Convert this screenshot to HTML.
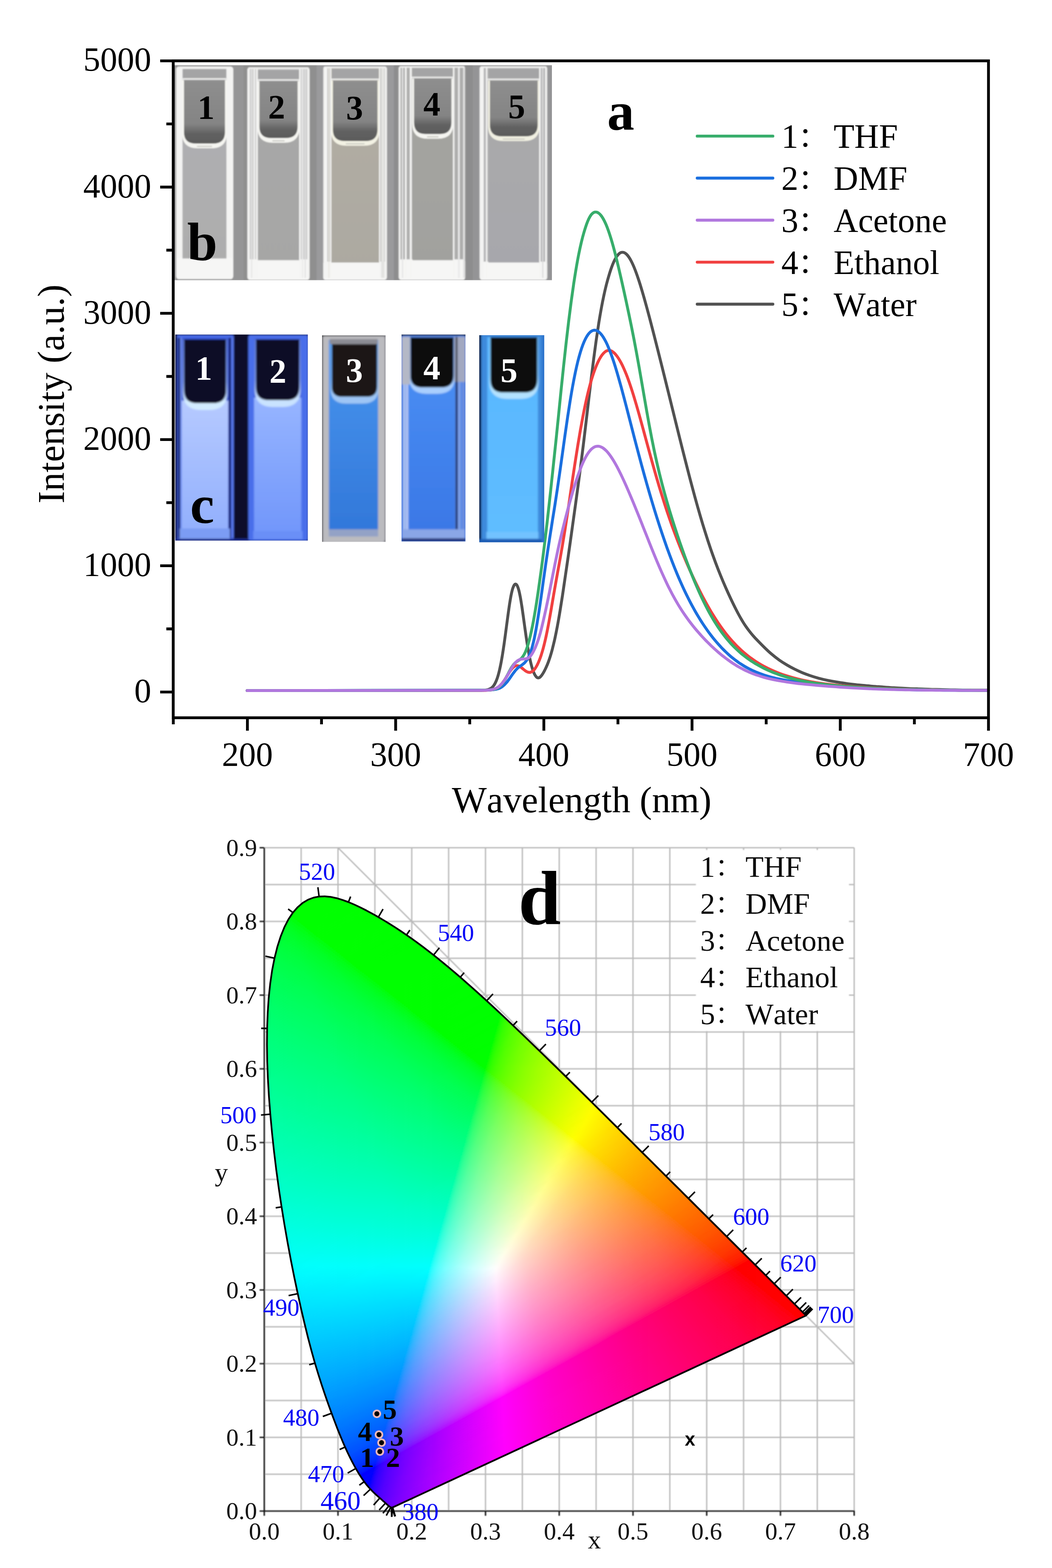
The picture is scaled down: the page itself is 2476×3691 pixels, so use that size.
<!DOCTYPE html>
<html lang="en"><head><meta charset="utf-8"><title>Fluorescence spectra and CIE chromaticity diagram</title>
<style>html,body{margin:0;padding:0;background:#fff}body{width:2476px;height:3691px;overflow:hidden}svg{display:block}text{white-space:pre;font-kerning:none;font-variant-ligatures:none}</style>
</head><body>
<svg width="2476" height="3691" viewBox="0 0 2476 3691">
<rect width="2476" height="3691" fill="#fff"/>
<defs><filter id="sb" filterUnits="userSpaceOnUse" x="480" y="1940" width="1620" height="1751"><feGaussianBlur stdDeviation="1"/></filter></defs>
<g id="cie-d">
<g filter="url(#sb)">
<path d="M622 3557V1995.5M708.8 3557V1995.5M795.5 3557V1995.5M882.3 3557V1995.5M969.1 3557V1995.5M1055.9 3557V1995.5M1142.7 3557V1995.5M1229.4 3557V1995.5M1316.2 3557V1995.5M1403 3557V1995.5M1489.8 3557V1995.5M1576.5 3557V1995.5M1663.3 3557V1995.5M1750.1 3557V1995.5M1836.9 3557V1995.5M1923.6 3557V1995.5M2010.4 3557V1995.5M622 3557H2010.4M622 3470.2H2010.4M622 3383.5H2010.4M622 3296.8H2010.4M622 3210H2010.4M622 3123.2H2010.4M622 3036.5H2010.4M622 2949.8H2010.4M622 2863H2010.4M622 2776.2H2010.4M622 2689.5H2010.4M622 2602.8H2010.4M622 2516H2010.4M622 2429.2H2010.4M622 2342.5H2010.4M622 2255.8H2010.4M622 2169H2010.4M622 2082.2H2010.4M622 1995.5H2010.4M795.5 1995.5L2010.4 3210" stroke="#b9b9b9" stroke-width="3" fill="none"/>
<rect x="1638" y="2001" width="360" height="426" fill="#fff"/>
<path d="M622 1995.5V3558.5M620.5 3557H2011.9M622 3557v11M795.5 3557v11M969.1 3557v11M1142.7 3557v11M1316.2 3557v11M1489.8 3557v11M1663.3 3557v11M1836.9 3557v11M2010.4 3557v11M622 3557h-11M622 3383.5h-11M622 3210h-11M622 3036.5h-11M622 2863h-11M622 2689.5h-11M622 2516h-11M622 2342.5h-11M622 2169h-11M622 1995.5h-11" stroke="#111" stroke-width="3.2" fill="none"/>
</g>
<defs><linearGradient id="r0" gradientUnits="userSpaceOnUse" x1="683" x2="762"><stop offset="0" stop-color="#00ff00"/><stop offset="1" stop-color="#00ff00"/></linearGradient><linearGradient id="r1" gradientUnits="userSpaceOnUse" x1="674" x2="775"><stop offset="0" stop-color="#00ff00"/><stop offset="1" stop-color="#00ff00"/></linearGradient><linearGradient id="r2" gradientUnits="userSpaceOnUse" x1="668" x2="785"><stop offset="0" stop-color="#00ff10"/><stop offset=".077" stop-color="#00ff00"/><stop offset="1" stop-color="#00ff00"/></linearGradient><linearGradient id="r3" gradientUnits="userSpaceOnUse" x1="662" x2="794"><stop offset="0" stop-color="#00ff1d"/><stop offset=".106" stop-color="#00ff0a"/><stop offset=".152" stop-color="#00ff00"/><stop offset="1" stop-color="#00ff00"/></linearGradient><linearGradient id="r4" gradientUnits="userSpaceOnUse" x1="658" x2="802"><stop offset="0" stop-color="#00ff24"/><stop offset=".146" stop-color="#00ff0d"/><stop offset=".194" stop-color="#00ff00"/><stop offset="1" stop-color="#00ff00"/></linearGradient><linearGradient id="r5" gradientUnits="userSpaceOnUse" x1="654" x2="809"><stop offset="0" stop-color="#00ff2a"/><stop offset=".161" stop-color="#00ff14"/><stop offset=".239" stop-color="#00ff00"/><stop offset="1" stop-color="#00ff00"/></linearGradient><linearGradient id="r6" gradientUnits="userSpaceOnUse" x1="651" x2="816"><stop offset="0" stop-color="#00ff2f"/><stop offset=".182" stop-color="#00ff17"/><stop offset=".267" stop-color="#00ff00"/><stop offset="1" stop-color="#00ff00"/></linearGradient><linearGradient id="r7" gradientUnits="userSpaceOnUse" x1="648" x2="823"><stop offset="0" stop-color="#00ff33"/><stop offset=".194" stop-color="#00ff1b"/><stop offset=".269" stop-color="#00ff07"/><stop offset=".303" stop-color="#00ff00"/><stop offset="1" stop-color="#00ff00"/></linearGradient><linearGradient id="r8" gradientUnits="userSpaceOnUse" x1="645" x2="830"><stop offset="0" stop-color="#00ff37"/><stop offset=".205" stop-color="#00ff1e"/><stop offset=".281" stop-color="#00ff0c"/><stop offset=".319" stop-color="#00ff00"/><stop offset="1" stop-color="#00ff00"/></linearGradient><linearGradient id="r9" gradientUnits="userSpaceOnUse" x1="643" x2="836"><stop offset="0" stop-color="#00ff3b"/><stop offset=".233" stop-color="#00ff1e"/><stop offset=".306" stop-color="#00ff0b"/><stop offset=".337" stop-color="#00ff00"/><stop offset="1" stop-color="#00ff00"/></linearGradient><linearGradient id="r10" gradientUnits="userSpaceOnUse" x1="640" x2="842"><stop offset="0" stop-color="#00ff3e"/><stop offset=".233" stop-color="#00ff23"/><stop offset=".322" stop-color="#00ff0e"/><stop offset=".361" stop-color="#00ff00"/><stop offset="1" stop-color="#00ff00"/></linearGradient><linearGradient id="r11" gradientUnits="userSpaceOnUse" x1="638" x2="849"><stop offset="0" stop-color="#00ff41"/><stop offset=".227" stop-color="#00ff27"/><stop offset=".332" stop-color="#00ff11"/><stop offset=".374" stop-color="#00ff00"/><stop offset="1" stop-color="#00ff00"/></linearGradient><linearGradient id="r12" gradientUnits="userSpaceOnUse" x1="636" x2="855"><stop offset="0" stop-color="#00ff44"/><stop offset=".251" stop-color="#00ff27"/><stop offset=".347" stop-color="#00ff12"/><stop offset=".388" stop-color="#00ff00"/><stop offset="1" stop-color="#00ff00"/></linearGradient><linearGradient id="r13" gradientUnits="userSpaceOnUse" x1="635" x2="860"><stop offset="0" stop-color="#00ff46"/><stop offset=".249" stop-color="#00ff2a"/><stop offset=".356" stop-color="#00ff14"/><stop offset=".404" stop-color="#00ff00"/><stop offset="1" stop-color="#00ff00"/></linearGradient><linearGradient id="r14" gradientUnits="userSpaceOnUse" x1="633" x2="866"><stop offset="0" stop-color="#00ff49"/><stop offset=".275" stop-color="#00ff29"/><stop offset=".378" stop-color="#00ff12"/><stop offset=".416" stop-color="#00ff00"/><stop offset="1" stop-color="#00ff00"/></linearGradient><linearGradient id="r15" gradientUnits="userSpaceOnUse" x1="631" x2="872"><stop offset="0" stop-color="#00ff4b"/><stop offset=".249" stop-color="#00ff30"/><stop offset=".373" stop-color="#00ff18"/><stop offset=".432" stop-color="#00ff00"/><stop offset="1" stop-color="#00ff00"/></linearGradient><linearGradient id="r16" gradientUnits="userSpaceOnUse" x1="630" x2="877"><stop offset="0" stop-color="#00ff4d"/><stop offset=".259" stop-color="#00ff31"/><stop offset=".377" stop-color="#00ff1b"/><stop offset=".429" stop-color="#00ff06"/><stop offset=".445" stop-color="#00ff00"/><stop offset="1" stop-color="#00ff00"/></linearGradient><linearGradient id="r17" gradientUnits="userSpaceOnUse" x1="629" x2="883"><stop offset="0" stop-color="#00ff4f"/><stop offset=".268" stop-color="#00ff32"/><stop offset=".394" stop-color="#00ff19"/><stop offset=".441" stop-color="#00ff04"/><stop offset=".461" stop-color="#00ff00"/><stop offset="1" stop-color="#00ff00"/></linearGradient><linearGradient id="r18" gradientUnits="userSpaceOnUse" x1="627" x2="888"><stop offset="0" stop-color="#00ff52"/><stop offset=".28" stop-color="#00ff33"/><stop offset=".406" stop-color="#00ff1a"/><stop offset=".452" stop-color="#00ff05"/><stop offset=".475" stop-color="#00ff00"/><stop offset="1" stop-color="#00ff00"/></linearGradient><linearGradient id="r19" gradientUnits="userSpaceOnUse" x1="626" x2="894"><stop offset="0" stop-color="#00ff54"/><stop offset=".28" stop-color="#00ff35"/><stop offset=".407" stop-color="#00ff1c"/><stop offset=".455" stop-color="#00ff09"/><stop offset=".474" stop-color="#00ff00"/><stop offset="1" stop-color="#00ff00"/></linearGradient><linearGradient id="r20" gradientUnits="userSpaceOnUse" x1="625" x2="899"><stop offset="0" stop-color="#00ff56"/><stop offset=".281" stop-color="#00ff37"/><stop offset=".416" stop-color="#00ff1d"/><stop offset=".464" stop-color="#00ff0a"/><stop offset=".485" stop-color="#00ff00"/><stop offset="1" stop-color="#00ff00"/></linearGradient><linearGradient id="r21" gradientUnits="userSpaceOnUse" x1="624" x2="905"><stop offset="0" stop-color="#00ff58"/><stop offset=".288" stop-color="#00ff38"/><stop offset=".416" stop-color="#00ff1f"/><stop offset=".466" stop-color="#00ff0d"/><stop offset=".491" stop-color="#00ff00"/><stop offset="1" stop-color="#00ff00"/></linearGradient><linearGradient id="r22" gradientUnits="userSpaceOnUse" x1="623" x2="910"><stop offset="0" stop-color="#00ff59"/><stop offset=".275" stop-color="#00ff3c"/><stop offset=".422" stop-color="#00ff21"/><stop offset=".477" stop-color="#00ff0c"/><stop offset=".498" stop-color="#00ff00"/><stop offset="1" stop-color="#00ff00"/></linearGradient><linearGradient id="r23" gradientUnits="userSpaceOnUse" x1="622" x2="915"><stop offset="0" stop-color="#00ff5b"/><stop offset=".283" stop-color="#00ff3d"/><stop offset=".427" stop-color="#00ff22"/><stop offset=".481" stop-color="#00ff0f"/><stop offset=".509" stop-color="#00ff00"/><stop offset="1" stop-color="#00ff00"/></linearGradient><linearGradient id="r24" gradientUnits="userSpaceOnUse" x1="621" x2="920"><stop offset="0" stop-color="#00ff5d"/><stop offset=".281" stop-color="#00ff3f"/><stop offset=".425" stop-color="#00ff25"/><stop offset=".488" stop-color="#00ff10"/><stop offset=".515" stop-color="#00ff00"/><stop offset="1" stop-color="#00ff00"/></linearGradient><linearGradient id="r25" gradientUnits="userSpaceOnUse" x1="621" x2="925"><stop offset="0" stop-color="#00ff5f"/><stop offset=".299" stop-color="#00ff3e"/><stop offset=".441" stop-color="#00ff23"/><stop offset=".497" stop-color="#00ff0f"/><stop offset=".52" stop-color="#00ff00"/><stop offset="1" stop-color="#00ff00"/></linearGradient><linearGradient id="r26" gradientUnits="userSpaceOnUse" x1="620" x2="931"><stop offset="0" stop-color="#00ff60"/><stop offset=".277" stop-color="#00ff43"/><stop offset=".434" stop-color="#00ff27"/><stop offset=".502" stop-color="#00ff10"/><stop offset=".527" stop-color="#00ff00"/><stop offset="1" stop-color="#00ff00"/></linearGradient><linearGradient id="r27" gradientUnits="userSpaceOnUse" x1="619" x2="936"><stop offset="0" stop-color="#00ff62"/><stop offset=".29" stop-color="#00ff43"/><stop offset=".448" stop-color="#00ff26"/><stop offset=".508" stop-color="#00ff11"/><stop offset=".533" stop-color="#00ff00"/><stop offset="1" stop-color="#00ff00"/></linearGradient><linearGradient id="r28" gradientUnits="userSpaceOnUse" x1="619" x2="941"><stop offset="0" stop-color="#00ff64"/><stop offset=".307" stop-color="#00ff42"/><stop offset=".46" stop-color="#00ff25"/><stop offset=".516" stop-color="#00ff10"/><stop offset=".54" stop-color="#00ff00"/><stop offset="1" stop-color="#00ff00"/></linearGradient><linearGradient id="r29" gradientUnits="userSpaceOnUse" x1="618" x2="946"><stop offset="0" stop-color="#00ff65"/><stop offset=".293" stop-color="#00ff46"/><stop offset=".451" stop-color="#00ff29"/><stop offset=".515" stop-color="#00ff14"/><stop offset=".546" stop-color="#00ff00"/><stop offset="1" stop-color="#00ff00"/></linearGradient><linearGradient id="r30" gradientUnits="userSpaceOnUse" x1="618" x2="951"><stop offset="0" stop-color="#00ff67"/><stop offset=".309" stop-color="#00ff45"/><stop offset=".462" stop-color="#00ff28"/><stop offset=".529" stop-color="#00ff10"/><stop offset=".553" stop-color="#00ff00"/><stop offset="1" stop-color="#00ff00"/></linearGradient><linearGradient id="r31" gradientUnits="userSpaceOnUse" x1="617" x2="956"><stop offset="0" stop-color="#00ff68"/><stop offset=".292" stop-color="#00ff49"/><stop offset=".46" stop-color="#00ff2b"/><stop offset=".528" stop-color="#00ff14"/><stop offset=".558" stop-color="#00ff00"/><stop offset="1" stop-color="#00ff00"/></linearGradient><linearGradient id="r32" gradientUnits="userSpaceOnUse" x1="617" x2="961"><stop offset="0" stop-color="#00ff6a"/><stop offset=".317" stop-color="#00ff47"/><stop offset=".474" stop-color="#00ff29"/><stop offset=".541" stop-color="#00ff10"/><stop offset=".564" stop-color="#00ff00"/><stop offset="1" stop-color="#00ff00"/></linearGradient><linearGradient id="r33" gradientUnits="userSpaceOnUse" x1="616" x2="966"><stop offset="0" stop-color="#00ff6b"/><stop offset=".3" stop-color="#00ff4b"/><stop offset=".466" stop-color="#00ff2d"/><stop offset=".534" stop-color="#00ff17"/><stop offset=".569" stop-color="#00ff00"/><stop offset="1" stop-color="#00ff00"/></linearGradient><linearGradient id="r34" gradientUnits="userSpaceOnUse" x1="616" x2="970"><stop offset="0" stop-color="#00ff6d"/><stop offset=".302" stop-color="#00ff4c"/><stop offset=".475" stop-color="#00ff2d"/><stop offset=".545" stop-color="#00ff15"/><stop offset=".576" stop-color="#00ff00"/><stop offset="1" stop-color="#00ff00"/></linearGradient><linearGradient id="r35" gradientUnits="userSpaceOnUse" x1="616" x2="975"><stop offset="0" stop-color="#00ff6e"/><stop offset=".298" stop-color="#00ff4e"/><stop offset=".476" stop-color="#00ff2e"/><stop offset=".546" stop-color="#00ff17"/><stop offset=".579" stop-color="#00ff00"/><stop offset="1" stop-color="#00ff00"/></linearGradient><linearGradient id="r36" gradientUnits="userSpaceOnUse" x1="615" x2="980"><stop offset="0" stop-color="#00ff70"/><stop offset=".318" stop-color="#00ff4d"/><stop offset=".479" stop-color="#00ff2f"/><stop offset=".551" stop-color="#00ff18"/><stop offset=".586" stop-color="#00ff00"/><stop offset="1" stop-color="#00ff00"/></linearGradient><linearGradient id="r37" gradientUnits="userSpaceOnUse" x1="615" x2="985"><stop offset="0" stop-color="#00ff71"/><stop offset=".314" stop-color="#00ff4f"/><stop offset=".486" stop-color="#00ff2f"/><stop offset=".557" stop-color="#00ff17"/><stop offset=".584" stop-color="#00ff03"/><stop offset=".6" stop-color="#00ff00"/><stop offset="1" stop-color="#00ff00"/></linearGradient><linearGradient id="r38" gradientUnits="userSpaceOnUse" x1="615" x2="989"><stop offset="0" stop-color="#00ff73"/><stop offset=".321" stop-color="#00ff4f"/><stop offset=".497" stop-color="#00ff2e"/><stop offset=".561" stop-color="#00ff18"/><stop offset=".596" stop-color="#00ff00"/><stop offset="1" stop-color="#00ff00"/></linearGradient><linearGradient id="r39" gradientUnits="userSpaceOnUse" x1="615" x2="994"><stop offset="0" stop-color="#00ff74"/><stop offset=".309" stop-color="#00ff52"/><stop offset=".483" stop-color="#00ff33"/><stop offset=".562" stop-color="#00ff1a"/><stop offset=".594" stop-color="#00ff03"/><stop offset=".609" stop-color="#00ff00"/><stop offset="1" stop-color="#00ff00"/></linearGradient><linearGradient id="r40" gradientUnits="userSpaceOnUse" x1="614" x2="999"><stop offset="0" stop-color="#00ff75"/><stop offset=".299" stop-color="#00ff55"/><stop offset=".478" stop-color="#00ff36"/><stop offset=".561" stop-color="#00ff1d"/><stop offset=".592" stop-color="#00ff09"/><stop offset=".603" stop-color="#00ff00"/><stop offset="1" stop-color="#00ff00"/></linearGradient><linearGradient id="r41" gradientUnits="userSpaceOnUse" x1="614" x2="1003"><stop offset="0" stop-color="#00ff77"/><stop offset=".324" stop-color="#00ff53"/><stop offset=".494" stop-color="#00ff34"/><stop offset=".573" stop-color="#00ff1a"/><stop offset=".604" stop-color="#00ff03"/><stop offset=".62" stop-color="#00ff00"/><stop offset="1" stop-color="#00ff00"/></linearGradient><linearGradient id="r42" gradientUnits="userSpaceOnUse" x1="614" x2="1008"><stop offset="0" stop-color="#00ff78"/><stop offset=".31" stop-color="#00ff56"/><stop offset=".482" stop-color="#00ff38"/><stop offset=".571" stop-color="#00ff1d"/><stop offset=".602" stop-color="#00ff09"/><stop offset=".612" stop-color="#00ff00"/><stop offset="1" stop-color="#00ff00"/></linearGradient><linearGradient id="r43" gradientUnits="userSpaceOnUse" x1="614" x2="1013"><stop offset="0" stop-color="#00ff79"/><stop offset=".306" stop-color="#00ff58"/><stop offset=".489" stop-color="#00ff38"/><stop offset=".569" stop-color="#00ff20"/><stop offset=".602" stop-color="#00ff0d"/><stop offset=".617" stop-color="#00ff00"/><stop offset="1" stop-color="#00ff00"/></linearGradient><linearGradient id="r44" gradientUnits="userSpaceOnUse" x1="614" x2="1017"><stop offset="0" stop-color="#00ff7b"/><stop offset=".33" stop-color="#00ff56"/><stop offset=".499" stop-color="#00ff37"/><stop offset=".583" stop-color="#00ff1c"/><stop offset=".61" stop-color="#00ff09"/><stop offset=".62" stop-color="#00ff00"/><stop offset="1" stop-color="#00ff00"/></linearGradient><linearGradient id="r45" gradientUnits="userSpaceOnUse" x1="614" x2="1022"><stop offset="0" stop-color="#00ff7c"/><stop offset=".316" stop-color="#00ff59"/><stop offset=".5" stop-color="#00ff38"/><stop offset=".581" stop-color="#00ff1f"/><stop offset=".613" stop-color="#00ff0a"/><stop offset=".625" stop-color="#00ff00"/><stop offset="1" stop-color="#00ff00"/></linearGradient><linearGradient id="r46" gradientUnits="userSpaceOnUse" x1="614" x2="1026"><stop offset="0" stop-color="#00ff7d"/><stop offset=".303" stop-color="#00ff5c"/><stop offset=".485" stop-color="#00ff3d"/><stop offset=".575" stop-color="#00ff23"/><stop offset=".614" stop-color="#00ff0e"/><stop offset=".629" stop-color="#00ff00"/><stop offset="1" stop-color="#00ff00"/></linearGradient><linearGradient id="r47" gradientUnits="userSpaceOnUse" x1="614" x2="1031"><stop offset="0" stop-color="#00ff7f"/><stop offset=".326" stop-color="#00ff5a"/><stop offset=".504" stop-color="#00ff3a"/><stop offset=".59" stop-color="#00ff1f"/><stop offset=".621" stop-color="#00ff0a"/><stop offset=".633" stop-color="#00ff00"/><stop offset="1" stop-color="#00ff00"/></linearGradient><linearGradient id="r48" gradientUnits="userSpaceOnUse" x1="614" x2="1035"><stop offset="0" stop-color="#00ff80"/><stop offset=".33" stop-color="#00ff5b"/><stop offset=".506" stop-color="#00ff3b"/><stop offset=".587" stop-color="#00ff22"/><stop offset=".622" stop-color="#00ff0e"/><stop offset=".637" stop-color="#00ff00"/><stop offset="1" stop-color="#00ff00"/></linearGradient><linearGradient id="r49" gradientUnits="userSpaceOnUse" x1="614" x2="1040"><stop offset="0" stop-color="#00ff81"/><stop offset=".317" stop-color="#00ff5e"/><stop offset=".507" stop-color="#00ff3c"/><stop offset=".594" stop-color="#00ff21"/><stop offset=".627" stop-color="#00ff0c"/><stop offset=".641" stop-color="#00ff00"/><stop offset="1" stop-color="#00ff00"/></linearGradient><linearGradient id="r50" gradientUnits="userSpaceOnUse" x1="614" x2="1044"><stop offset="0" stop-color="#00ff83"/><stop offset=".34" stop-color="#00ff5c"/><stop offset=".514" stop-color="#00ff3c"/><stop offset=".598" stop-color="#00ff22"/><stop offset=".633" stop-color="#00ff0b"/><stop offset=".644" stop-color="#00ff00"/><stop offset="1" stop-color="#00ff00"/></linearGradient><linearGradient id="r51" gradientUnits="userSpaceOnUse" x1="614" x2="1049"><stop offset="0" stop-color="#00ff84"/><stop offset=".326" stop-color="#00ff5f"/><stop offset=".506" stop-color="#00ff3f"/><stop offset=".598" stop-color="#00ff23"/><stop offset=".632" stop-color="#00ff0f"/><stop offset=".648" stop-color="#00ff00"/><stop offset="1" stop-color="#00ff00"/></linearGradient><linearGradient id="r52" gradientUnits="userSpaceOnUse" x1="614" x2="1053"><stop offset="0" stop-color="#00ff85"/><stop offset=".321" stop-color="#00ff61"/><stop offset=".503" stop-color="#00ff41"/><stop offset=".599" stop-color="#00ff25"/><stop offset=".636" stop-color="#00ff10"/><stop offset=".651" stop-color="#00ff00"/><stop offset="1" stop-color="#00ff00"/></linearGradient><linearGradient id="r53" gradientUnits="userSpaceOnUse" x1="614" x2="1057"><stop offset="0" stop-color="#00ff86"/><stop offset=".309" stop-color="#00ff64"/><stop offset=".501" stop-color="#00ff43"/><stop offset=".598" stop-color="#00ff27"/><stop offset=".639" stop-color="#00ff11"/><stop offset=".655" stop-color="#00ff00"/><stop offset="1" stop-color="#00ff00"/></linearGradient><linearGradient id="r54" gradientUnits="userSpaceOnUse" x1="614" x2="1062"><stop offset="0" stop-color="#00ff88"/><stop offset=".339" stop-color="#00ff61"/><stop offset=".529" stop-color="#00ff3e"/><stop offset=".618" stop-color="#00ff20"/><stop offset=".647" stop-color="#00ff0b"/><stop offset=".658" stop-color="#00ff00"/><stop offset="1" stop-color="#00ff00"/></linearGradient><linearGradient id="r55" gradientUnits="userSpaceOnUse" x1="614" x2="1066"><stop offset="0" stop-color="#00ff89"/><stop offset=".325" stop-color="#00ff64"/><stop offset=".513" stop-color="#00ff43"/><stop offset=".606" stop-color="#00ff27"/><stop offset=".646" stop-color="#00ff11"/><stop offset=".662" stop-color="#00ff00"/><stop offset="1" stop-color="#00ff00"/></linearGradient><linearGradient id="r56" gradientUnits="userSpaceOnUse" x1="614" x2="1071"><stop offset="0" stop-color="#00ff8a"/><stop offset=".319" stop-color="#00ff66"/><stop offset=".514" stop-color="#00ff44"/><stop offset=".613" stop-color="#00ff26"/><stop offset=".648" stop-color="#00ff11"/><stop offset=".665" stop-color="#00ff00"/><stop offset="1" stop-color="#00ff00"/></linearGradient><linearGradient id="r57" gradientUnits="userSpaceOnUse" x1="614" x2="1075"><stop offset="0" stop-color="#00ff8c"/><stop offset=".343" stop-color="#00ff64"/><stop offset=".529" stop-color="#00ff42"/><stop offset=".623" stop-color="#00ff24"/><stop offset=".657" stop-color="#00ff0c"/><stop offset=".668" stop-color="#00ff00"/><stop offset="1" stop-color="#00ff00"/></linearGradient><linearGradient id="r58" gradientUnits="userSpaceOnUse" x1="614" x2="1079"><stop offset="0" stop-color="#00ff8d"/><stop offset=".338" stop-color="#00ff66"/><stop offset=".52" stop-color="#00ff45"/><stop offset=".617" stop-color="#00ff28"/><stop offset=".654" stop-color="#00ff13"/><stop offset=".673" stop-color="#00ff00"/><stop offset="1" stop-color="#00ff00"/></linearGradient><linearGradient id="r59" gradientUnits="userSpaceOnUse" x1="614" x2="1083"><stop offset="0" stop-color="#00ff8e"/><stop offset=".333" stop-color="#00ff68"/><stop offset=".522" stop-color="#00ff46"/><stop offset=".616" stop-color="#00ff2a"/><stop offset=".657" stop-color="#00ff14"/><stop offset=".676" stop-color="#00ff00"/><stop offset="1" stop-color="#00ff00"/></linearGradient><linearGradient id="r60" gradientUnits="userSpaceOnUse" x1="615" x2="1088"><stop offset="0" stop-color="#00ff8f"/><stop offset=".332" stop-color="#00ff69"/><stop offset=".522" stop-color="#00ff47"/><stop offset=".619" stop-color="#00ff2a"/><stop offset=".658" stop-color="#00ff15"/><stop offset=".679" stop-color="#00ff00"/><stop offset="1" stop-color="#00ff00"/></linearGradient><linearGradient id="r61" gradientUnits="userSpaceOnUse" x1="615" x2="1092"><stop offset="0" stop-color="#00ff90"/><stop offset=".319" stop-color="#00ff6c"/><stop offset=".52" stop-color="#00ff49"/><stop offset=".621" stop-color="#00ff2b"/><stop offset=".66" stop-color="#00ff16"/><stop offset=".681" stop-color="#00ff00"/><stop offset="1" stop-color="#00ff00"/></linearGradient><linearGradient id="r62" gradientUnits="userSpaceOnUse" x1="615" x2="1096"><stop offset="0" stop-color="#00ff92"/><stop offset=".341" stop-color="#00ff6a"/><stop offset=".534" stop-color="#00ff47"/><stop offset=".628" stop-color="#00ff2a"/><stop offset=".665" stop-color="#00ff15"/><stop offset=".686" stop-color="#00ff00"/><stop offset="1" stop-color="#00ff00"/></linearGradient><linearGradient id="r63" gradientUnits="userSpaceOnUse" x1="615" x2="1100"><stop offset="0" stop-color="#00ff93"/><stop offset=".322" stop-color="#00ff6e"/><stop offset=".518" stop-color="#00ff4c"/><stop offset=".623" stop-color="#00ff2e"/><stop offset=".668" stop-color="#00ff16"/><stop offset=".689" stop-color="#00ff00"/><stop offset="1" stop-color="#00ff00"/></linearGradient><linearGradient id="r64" gradientUnits="userSpaceOnUse" x1="615" x2="1105"><stop offset="0" stop-color="#00ff94"/><stop offset=".322" stop-color="#00ff6f"/><stop offset=".522" stop-color="#00ff4c"/><stop offset=".622" stop-color="#00ff2f"/><stop offset=".665" stop-color="#00ff1a"/><stop offset=".692" stop-color="#00ff00"/><stop offset="1" stop-color="#00ff00"/></linearGradient><linearGradient id="r65" gradientUnits="userSpaceOnUse" x1="616" x2="1109"><stop offset="0" stop-color="#00ff95"/><stop offset=".316" stop-color="#00ff71"/><stop offset=".523" stop-color="#00ff4d"/><stop offset=".629" stop-color="#00ff2e"/><stop offset=".673" stop-color="#00ff16"/><stop offset=".694" stop-color="#00ff00"/><stop offset="1" stop-color="#00ff00"/></linearGradient><linearGradient id="r66" gradientUnits="userSpaceOnUse" x1="616" x2="1113"><stop offset="0" stop-color="#00ff97"/><stop offset=".338" stop-color="#00ff6f"/><stop offset=".533" stop-color="#00ff4c"/><stop offset=".634" stop-color="#00ff2e"/><stop offset=".676" stop-color="#00ff17"/><stop offset=".698" stop-color="#00ff00"/><stop offset="1" stop-color="#00ff00"/></linearGradient><linearGradient id="r67" gradientUnits="userSpaceOnUse" x1="616" x2="1117"><stop offset="0" stop-color="#00ff98"/><stop offset=".333" stop-color="#00ff71"/><stop offset=".539" stop-color="#00ff4c"/><stop offset=".635" stop-color="#00ff2f"/><stop offset=".681" stop-color="#00ff16"/><stop offset=".701" stop-color="#00ff00"/><stop offset="1" stop-color="#00ff00"/></linearGradient><linearGradient id="r68" gradientUnits="userSpaceOnUse" x1="617" x2="1121"><stop offset="0" stop-color="#00ff99"/><stop offset=".333" stop-color="#00ff72"/><stop offset=".53" stop-color="#00ff4f"/><stop offset=".637" stop-color="#00ff30"/><stop offset=".683" stop-color="#00ff17"/><stop offset=".702" stop-color="#00ff00"/><stop offset="1" stop-color="#00ff00"/></linearGradient><linearGradient id="r69" gradientUnits="userSpaceOnUse" x1="617" x2="1126"><stop offset="0" stop-color="#00ff9a"/><stop offset=".32" stop-color="#00ff75"/><stop offset=".53" stop-color="#00ff50"/><stop offset=".637" stop-color="#00ff31"/><stop offset=".68" stop-color="#00ff1b"/><stop offset=".701" stop-color="#00ff03"/><stop offset=".713" stop-color="#00ff00"/><stop offset="1" stop-color="#00ff00"/></linearGradient><linearGradient id="r70" gradientUnits="userSpaceOnUse" x1="617" x2="1130"><stop offset="0" stop-color="#00ff9c"/><stop offset=".349" stop-color="#00ff72"/><stop offset=".54" stop-color="#00ff4f"/><stop offset=".641" stop-color="#00ff31"/><stop offset=".688" stop-color="#00ff17"/><stop offset=".708" stop-color="#00ff00"/><stop offset="1" stop-color="#00ff00"/></linearGradient><linearGradient id="r71" gradientUnits="userSpaceOnUse" x1="618" x2="1134"><stop offset="0" stop-color="#00ff9d"/><stop offset=".335" stop-color="#00ff75"/><stop offset=".537" stop-color="#00ff51"/><stop offset=".641" stop-color="#00ff32"/><stop offset=".686" stop-color="#00ff1b"/><stop offset=".707" stop-color="#00ff03"/><stop offset=".719" stop-color="#00ff00"/><stop offset="1" stop-color="#00ff00"/></linearGradient><linearGradient id="r72" gradientUnits="userSpaceOnUse" x1="618" x2="1138"><stop offset="0" stop-color="#00ff9e"/><stop offset=".337" stop-color="#00ff76"/><stop offset=".542" stop-color="#00ff51"/><stop offset=".648" stop-color="#00ff31"/><stop offset=".694" stop-color="#00ff17"/><stop offset=".713" stop-color="#00ff00"/><stop offset="1" stop-color="#00ff00"/></linearGradient><linearGradient id="r73" gradientUnits="userSpaceOnUse" x1="618" x2="1142"><stop offset="0" stop-color="#00ff9f"/><stop offset=".324" stop-color="#00ff79"/><stop offset=".534" stop-color="#00ff54"/><stop offset=".645" stop-color="#00ff34"/><stop offset=".693" stop-color="#00ff1b"/><stop offset=".712" stop-color="#00ff05"/><stop offset=".719" stop-color="#00ff00"/><stop offset="1" stop-color="#00ff00"/></linearGradient><linearGradient id="r74" gradientUnits="userSpaceOnUse" x1="619" x2="1146"><stop offset="0" stop-color="#00ffa0"/><stop offset=".324" stop-color="#00ff7a"/><stop offset=".539" stop-color="#00ff54"/><stop offset=".645" stop-color="#00ff35"/><stop offset=".694" stop-color="#00ff1c"/><stop offset=".715" stop-color="#00ff04"/><stop offset=".725" stop-color="#00ff00"/><stop offset="1" stop-color="#00ff00"/></linearGradient><linearGradient id="r75" gradientUnits="userSpaceOnUse" x1="619" x2="1150"><stop offset="0" stop-color="#00ffa2"/><stop offset=".347" stop-color="#00ff78"/><stop offset=".548" stop-color="#00ff53"/><stop offset=".652" stop-color="#00ff34"/><stop offset=".701" stop-color="#00ff1a"/><stop offset=".723" stop-color="#00ff00"/><stop offset="1" stop-color="#00ff00"/></linearGradient><linearGradient id="r76" gradientUnits="userSpaceOnUse" x1="620" x2="1154"><stop offset="0" stop-color="#00ffa3"/><stop offset=".346" stop-color="#00ff79"/><stop offset=".549" stop-color="#00ff54"/><stop offset=".655" stop-color="#00ff34"/><stop offset=".7" stop-color="#00ff1c"/><stop offset=".719" stop-color="#00ff07"/><stop offset=".725" stop-color="#00ff00"/><stop offset="1" stop-color="#00ff00"/></linearGradient><linearGradient id="r77" gradientUnits="userSpaceOnUse" x1="620" x2="1159"><stop offset="0" stop-color="#00ffa4"/><stop offset=".334" stop-color="#00ff7c"/><stop offset=".549" stop-color="#00ff55"/><stop offset=".655" stop-color="#00ff35"/><stop offset=".705" stop-color="#00ff1a"/><stop offset=".722" stop-color="#00ff05"/><stop offset=".729" stop-color="#00ff00"/><stop offset="1" stop-color="#00ff00"/></linearGradient><linearGradient id="r78" gradientUnits="userSpaceOnUse" x1="620" x2="1163"><stop offset="0" stop-color="#00ffa5"/><stop offset=".322" stop-color="#00ff7f"/><stop offset=".536" stop-color="#00ff59"/><stop offset=".646" stop-color="#00ff3a"/><stop offset=".702" stop-color="#00ff1f"/><stop offset=".722" stop-color="#00ff0a"/><stop offset=".729" stop-color="#00ff00"/><stop offset="1" stop-color="#00ff00"/></linearGradient><linearGradient id="r79" gradientUnits="userSpaceOnUse" x1="621" x2="1167"><stop offset="0" stop-color="#00ffa7"/><stop offset=".35" stop-color="#00ff7c"/><stop offset=".549" stop-color="#00ff57"/><stop offset=".658" stop-color="#00ff37"/><stop offset=".707" stop-color="#00ff1d"/><stop offset=".723" stop-color="#00ff0b"/><stop offset=".733" stop-color="#00ff00"/><stop offset="1" stop-color="#00ff00"/></linearGradient><linearGradient id="r80" gradientUnits="userSpaceOnUse" x1="621" x2="1171"><stop offset="0" stop-color="#00ffa8"/><stop offset=".344" stop-color="#00ff7e"/><stop offset=".555" stop-color="#00ff57"/><stop offset=".658" stop-color="#00ff38"/><stop offset=".707" stop-color="#00ff1f"/><stop offset=".727" stop-color="#00ff0a"/><stop offset=".735" stop-color="#00ff00"/><stop offset="1" stop-color="#00ff00"/></linearGradient><linearGradient id="r81" gradientUnits="userSpaceOnUse" x1="622" x2="1175"><stop offset="0" stop-color="#00ffa9"/><stop offset=".344" stop-color="#00ff7f"/><stop offset=".546" stop-color="#00ff5a"/><stop offset=".656" stop-color="#00ff3a"/><stop offset=".709" stop-color="#00ff20"/><stop offset=".729" stop-color="#00ff0b"/><stop offset=".736" stop-color="#00ff00"/><stop offset="1" stop-color="#00ff00"/></linearGradient><linearGradient id="r82" gradientUnits="userSpaceOnUse" x1="622" x2="1179"><stop offset="0" stop-color="#00ffaa"/><stop offset=".325" stop-color="#00ff83"/><stop offset=".539" stop-color="#00ff5d"/><stop offset=".655" stop-color="#00ff3c"/><stop offset=".709" stop-color="#00ff22"/><stop offset=".729" stop-color="#00ff0f"/><stop offset=".74" stop-color="#00ff00"/><stop offset="1" stop-color="#00ff00"/></linearGradient><linearGradient id="r83" gradientUnits="userSpaceOnUse" x1="623" x2="1183"><stop offset="0" stop-color="#00ffab"/><stop offset=".325" stop-color="#00ff84"/><stop offset=".534" stop-color="#00ff5f"/><stop offset=".655" stop-color="#00ff3d"/><stop offset=".707" stop-color="#00ff25"/><stop offset=".732" stop-color="#00ff0e"/><stop offset=".741" stop-color="#00ff00"/><stop offset="1" stop-color="#00ff00"/></linearGradient><linearGradient id="r84" gradientUnits="userSpaceOnUse" x1="623" x2="1187"><stop offset="0" stop-color="#00ffad"/><stop offset=".34" stop-color="#00ff83"/><stop offset=".553" stop-color="#00ff5c"/><stop offset=".665" stop-color="#00ff3b"/><stop offset=".715" stop-color="#00ff22"/><stop offset=".734" stop-color="#00ff0f"/><stop offset=".745" stop-color="#00ff00"/><stop offset="1" stop-color="#00ff00"/></linearGradient><linearGradient id="r85" gradientUnits="userSpaceOnUse" x1="624" x2="1191"><stop offset="0" stop-color="#00ffae"/><stop offset=".34" stop-color="#00ff84"/><stop offset=".549" stop-color="#00ff5e"/><stop offset=".66" stop-color="#00ff3e"/><stop offset=".714" stop-color="#00ff24"/><stop offset=".737" stop-color="#00ff0e"/><stop offset=".746" stop-color="#00ff00"/><stop offset=".989" stop-color="#00ff00"/><stop offset="1" stop-color="#1bff00"/></linearGradient><linearGradient id="r86" gradientUnits="userSpaceOnUse" x1="624" x2="1195"><stop offset="0" stop-color="#00ffaf"/><stop offset=".329" stop-color="#00ff87"/><stop offset=".545" stop-color="#00ff60"/><stop offset=".664" stop-color="#00ff3e"/><stop offset=".72" stop-color="#00ff22"/><stop offset=".739" stop-color="#00ff0f"/><stop offset=".748" stop-color="#00ff00"/><stop offset=".979" stop-color="#00ff00"/><stop offset=".989" stop-color="#1bff00"/><stop offset="1" stop-color="#29ff00"/></linearGradient><linearGradient id="r87" gradientUnits="userSpaceOnUse" x1="625" x2="1199"><stop offset="0" stop-color="#00ffb0"/><stop offset=".322" stop-color="#00ff89"/><stop offset=".545" stop-color="#00ff61"/><stop offset=".664" stop-color="#00ff3f"/><stop offset=".721" stop-color="#00ff23"/><stop offset=".742" stop-color="#00ff0e"/><stop offset=".751" stop-color="#00ff00"/><stop offset=".969" stop-color="#00ff00"/><stop offset=".979" stop-color="#1bff00"/><stop offset="1" stop-color="#33ff00"/></linearGradient><linearGradient id="r88" gradientUnits="userSpaceOnUse" x1="626" x2="1203"><stop offset="0" stop-color="#00ffb2"/><stop offset=".355" stop-color="#00ff85"/><stop offset=".558" stop-color="#00ff5f"/><stop offset=".667" stop-color="#00ff3f"/><stop offset=".719" stop-color="#00ff26"/><stop offset=".744" stop-color="#00ff0f"/><stop offset=".752" stop-color="#00ff00"/><stop offset=".958" stop-color="#00ff00"/><stop offset=".969" stop-color="#1bff00"/><stop offset=".993" stop-color="#37ff00"/><stop offset="1" stop-color="#3cff00"/></linearGradient><linearGradient id="r89" gradientUnits="userSpaceOnUse" x1="626" x2="1207"><stop offset="0" stop-color="#00ffb3"/><stop offset=".337" stop-color="#00ff89"/><stop offset=".551" stop-color="#00ff62"/><stop offset=".671" stop-color="#00ff3f"/><stop offset=".726" stop-color="#00ff23"/><stop offset=".747" stop-color="#00ff0e"/><stop offset=".754" stop-color="#00ff00"/><stop offset=".948" stop-color="#00ff00"/><stop offset=".959" stop-color="#1bff00"/><stop offset=".983" stop-color="#37ff00"/><stop offset="1" stop-color="#44ff00"/></linearGradient><linearGradient id="r90" gradientUnits="userSpaceOnUse" x1="627" x2="1211"><stop offset="0" stop-color="#00ffb4"/><stop offset=".339" stop-color="#00ff8a"/><stop offset=".555" stop-color="#00ff62"/><stop offset=".671" stop-color="#00ff40"/><stop offset=".726" stop-color="#00ff25"/><stop offset=".748" stop-color="#00ff0f"/><stop offset=".757" stop-color="#00ff00"/><stop offset=".938" stop-color="#00ff00"/><stop offset=".949" stop-color="#1bff00"/><stop offset=".973" stop-color="#37ff00"/><stop offset="1" stop-color="#4aff00"/></linearGradient><linearGradient id="r91" gradientUnits="userSpaceOnUse" x1="627" x2="1215"><stop offset="0" stop-color="#00ffb6"/><stop offset=".352" stop-color="#00ff89"/><stop offset=".556" stop-color="#00ff63"/><stop offset=".675" stop-color="#00ff40"/><stop offset=".726" stop-color="#00ff27"/><stop offset=".75" stop-color="#00ff10"/><stop offset=".759" stop-color="#00ff00"/><stop offset=".929" stop-color="#00ff00"/><stop offset=".939" stop-color="#1bff00"/><stop offset=".963" stop-color="#37ff00"/><stop offset="1" stop-color="#50ff00"/></linearGradient><linearGradient id="r92" gradientUnits="userSpaceOnUse" x1="628" x2="1219"><stop offset="0" stop-color="#00ffb7"/><stop offset=".354" stop-color="#00ff8a"/><stop offset=".569" stop-color="#00ff61"/><stop offset=".675" stop-color="#00ff41"/><stop offset=".733" stop-color="#00ff24"/><stop offset=".753" stop-color="#00ff0f"/><stop offset=".761" stop-color="#00ff00"/><stop offset=".919" stop-color="#00ff00"/><stop offset=".929" stop-color="#1bff00"/><stop offset=".948" stop-color="#33ff00"/><stop offset=".992" stop-color="#52ff00"/><stop offset="1" stop-color="#56ff00"/></linearGradient><linearGradient id="r93" gradientUnits="userSpaceOnUse" x1="629" x2="1223"><stop offset="0" stop-color="#00ffb8"/><stop offset=".34" stop-color="#00ff8d"/><stop offset=".552" stop-color="#00ff66"/><stop offset=".673" stop-color="#00ff43"/><stop offset=".732" stop-color="#00ff26"/><stop offset=".756" stop-color="#00ff0e"/><stop offset=".763" stop-color="#00ff00"/><stop offset=".909" stop-color="#00ff00"/><stop offset=".919" stop-color="#1bff00"/><stop offset=".938" stop-color="#33ff00"/><stop offset=".987" stop-color="#55ff00"/><stop offset="1" stop-color="#5bff00"/></linearGradient><linearGradient id="r94" gradientUnits="userSpaceOnUse" x1="629" x2="1227"><stop offset="0" stop-color="#00ffb9"/><stop offset=".336" stop-color="#00ff8f"/><stop offset=".557" stop-color="#00ff66"/><stop offset=".674" stop-color="#00ff44"/><stop offset=".731" stop-color="#00ff29"/><stop offset=".754" stop-color="#00ff14"/><stop offset=".766" stop-color="#00ff00"/><stop offset=".9" stop-color="#00ff00"/><stop offset=".91" stop-color="#1bff00"/><stop offset=".928" stop-color="#33ff00"/><stop offset=".972" stop-color="#52ff00"/><stop offset="1" stop-color="#60ff00"/></linearGradient><linearGradient id="r95" gradientUnits="userSpaceOnUse" x1="630" x2="1231"><stop offset="0" stop-color="#00ffba"/><stop offset=".323" stop-color="#00ff92"/><stop offset=".544" stop-color="#00ff6a"/><stop offset=".669" stop-color="#00ff47"/><stop offset=".727" stop-color="#00ff2c"/><stop offset=".754" stop-color="#00ff17"/><stop offset=".767" stop-color="#00ff00"/><stop offset=".89" stop-color="#00ff00"/><stop offset=".9" stop-color="#1bff00"/><stop offset=".92" stop-color="#35ff00"/><stop offset=".968" stop-color="#56ff00"/><stop offset="1" stop-color="#65ff00"/></linearGradient><linearGradient id="r96" gradientUnits="userSpaceOnUse" x1="630" x2="1235"><stop offset="0" stop-color="#00ffbc"/><stop offset=".344" stop-color="#00ff90"/><stop offset=".559" stop-color="#00ff68"/><stop offset=".678" stop-color="#00ff45"/><stop offset=".737" stop-color="#00ff28"/><stop offset=".76" stop-color="#00ff11"/><stop offset=".77" stop-color="#00ff00"/><stop offset=".881" stop-color="#00ff00"/><stop offset=".891" stop-color="#1bff00"/><stop offset=".911" stop-color="#35ff00"/><stop offset=".954" stop-color="#53ff00"/><stop offset="1" stop-color="#6aff00"/></linearGradient><linearGradient id="r97" gradientUnits="userSpaceOnUse" x1="631" x2="1239"><stop offset="0" stop-color="#00ffbd"/><stop offset=".339" stop-color="#00ff92"/><stop offset=".559" stop-color="#00ff69"/><stop offset=".681" stop-color="#00ff45"/><stop offset=".735" stop-color="#00ff2b"/><stop offset=".762" stop-color="#00ff13"/><stop offset=".771" stop-color="#00ff00"/><stop offset=".872" stop-color="#00ff00"/><stop offset=".882" stop-color="#1bff00"/><stop offset=".901" stop-color="#35ff00"/><stop offset=".949" stop-color="#57ff00"/><stop offset="1" stop-color="#6eff00"/></linearGradient><linearGradient id="r98" gradientUnits="userSpaceOnUse" x1="632" x2="1243"><stop offset="0" stop-color="#00ffbe"/><stop offset=".326" stop-color="#00ff95"/><stop offset=".545" stop-color="#00ff6d"/><stop offset=".668" stop-color="#00ff4b"/><stop offset=".733" stop-color="#00ff2d"/><stop offset=".759" stop-color="#00ff18"/><stop offset=".774" stop-color="#00ff00"/><stop offset=".863" stop-color="#00ff00"/><stop offset=".872" stop-color="#1bff00"/><stop offset=".894" stop-color="#37ff00"/><stop offset=".943" stop-color="#59ff00"/><stop offset="1" stop-color="#73ff00"/></linearGradient><linearGradient id="r99" gradientUnits="userSpaceOnUse" x1="632" x2="1247"><stop offset="0" stop-color="#00ffc0"/><stop offset=".346" stop-color="#00ff93"/><stop offset=".554" stop-color="#00ff6c"/><stop offset=".675" stop-color="#00ff4a"/><stop offset=".74" stop-color="#00ff2b"/><stop offset=".766" stop-color="#00ff13"/><stop offset=".776" stop-color="#00ff00"/><stop offset=".854" stop-color="#00ff00"/><stop offset=".863" stop-color="#1bff00"/><stop offset=".883" stop-color="#35ff00"/><stop offset=".922" stop-color="#52ff00"/><stop offset=".992" stop-color="#74ff00"/><stop offset="1" stop-color="#77ff00"/></linearGradient><linearGradient id="r100" gradientUnits="userSpaceOnUse" x1="633" x2="1251"><stop offset="0" stop-color="#00ffc1"/><stop offset=".341" stop-color="#00ff95"/><stop offset=".555" stop-color="#00ff6d"/><stop offset=".675" stop-color="#00ff4b"/><stop offset=".739" stop-color="#00ff2d"/><stop offset=".767" stop-color="#00ff14"/><stop offset=".778" stop-color="#00ff00"/><stop offset=".846" stop-color="#02ff00"/><stop offset=".853" stop-color="#18ff00"/><stop offset=".869" stop-color="#30ff00"/><stop offset=".908" stop-color="#50ff00"/><stop offset=".984" stop-color="#75ff00"/><stop offset="1" stop-color="#7bff00"/></linearGradient><linearGradient id="r101" gradientUnits="userSpaceOnUse" x1="634" x2="1255"><stop offset="0" stop-color="#00ffc2"/><stop offset=".329" stop-color="#00ff98"/><stop offset=".551" stop-color="#00ff6f"/><stop offset=".675" stop-color="#00ff4c"/><stop offset=".739" stop-color="#00ff2e"/><stop offset=".765" stop-color="#00ff19"/><stop offset=".776" stop-color="#00ff06"/><stop offset=".781" stop-color="#00ff00"/><stop offset=".837" stop-color="#02ff00"/><stop offset=".844" stop-color="#18ff00"/><stop offset=".86" stop-color="#30ff00"/><stop offset=".895" stop-color="#4eff00"/><stop offset=".966" stop-color="#72ff00"/><stop offset="1" stop-color="#7fff00"/></linearGradient><linearGradient id="r102" gradientUnits="userSpaceOnUse" x1="634" x2="1259"><stop offset="0" stop-color="#00ffc4"/><stop offset=".357" stop-color="#00ff95"/><stop offset=".57" stop-color="#00ff6c"/><stop offset=".686" stop-color="#00ff49"/><stop offset=".747" stop-color="#00ff2b"/><stop offset=".771" stop-color="#00ff14"/><stop offset=".782" stop-color="#00ff00"/><stop offset=".829" stop-color="#02ff00"/><stop offset=".835" stop-color="#18ff00"/><stop offset=".851" stop-color="#30ff00"/><stop offset=".883" stop-color="#4cff00"/><stop offset=".949" stop-color="#6fff00"/><stop offset="1" stop-color="#83ff00"/></linearGradient><linearGradient id="r103" gradientUnits="userSpaceOnUse" x1="635" x2="1263"><stop offset="0" stop-color="#00ffc5"/><stop offset=".338" stop-color="#00ff99"/><stop offset=".561" stop-color="#00ff6f"/><stop offset=".682" stop-color="#00ff4c"/><stop offset=".744" stop-color="#00ff2f"/><stop offset=".772" stop-color="#00ff15"/><stop offset=".783" stop-color="#00ff00"/><stop offset=".82" stop-color="#02ff00"/><stop offset=".826" stop-color="#18ff00"/><stop offset=".842" stop-color="#31ff00"/><stop offset=".881" stop-color="#50ff00"/><stop offset=".947" stop-color="#73ff00"/><stop offset="1" stop-color="#86ff00"/></linearGradient><linearGradient id="r104" gradientUnits="userSpaceOnUse" x1="636" x2="1267"><stop offset="0" stop-color="#00ffc6"/><stop offset=".339" stop-color="#00ff9a"/><stop offset=".556" stop-color="#00ff71"/><stop offset=".68" stop-color="#00ff4e"/><stop offset=".745" stop-color="#00ff2f"/><stop offset=".772" stop-color="#00ff18"/><stop offset=".783" stop-color="#00ff04"/><stop offset=".786" stop-color="#00ff00"/><stop offset=".811" stop-color="#02ff00"/><stop offset=".818" stop-color="#18ff00"/><stop offset=".834" stop-color="#31ff00"/><stop offset=".873" stop-color="#52ff00"/><stop offset=".948" stop-color="#77ff00"/><stop offset="1" stop-color="#8aff00"/></linearGradient><linearGradient id="r105" gradientUnits="userSpaceOnUse" x1="637" x2="1271"><stop offset="0" stop-color="#00ffc7"/><stop offset=".326" stop-color="#00ff9d"/><stop offset=".552" stop-color="#00ff73"/><stop offset=".674" stop-color="#00ff51"/><stop offset=".743" stop-color="#00ff32"/><stop offset=".773" stop-color="#00ff19"/><stop offset=".784" stop-color="#00ff06"/><stop offset=".789" stop-color="#00ff00"/><stop offset=".803" stop-color="#01ff00"/><stop offset=".809" stop-color="#18ff00"/><stop offset=".826" stop-color="#33ff00"/><stop offset=".868" stop-color="#54ff00"/><stop offset=".942" stop-color="#79ff00"/><stop offset="1" stop-color="#8eff00"/></linearGradient><linearGradient id="r106" gradientUnits="userSpaceOnUse" x1="637" x2="1275"><stop offset="0" stop-color="#00ffc9"/><stop offset=".342" stop-color="#00ff9c"/><stop offset=".563" stop-color="#00ff72"/><stop offset=".688" stop-color="#00ff4d"/><stop offset=".748" stop-color="#00ff31"/><stop offset=".776" stop-color="#00ff18"/><stop offset=".787" stop-color="#00ff04"/><stop offset=".79" stop-color="#00ff00"/><stop offset=".795" stop-color="#01ff00"/><stop offset=".801" stop-color="#18ff00"/><stop offset=".817" stop-color="#31ff00"/><stop offset=".851" stop-color="#4fff00"/><stop offset=".92" stop-color="#74ff00"/><stop offset="1" stop-color="#91ff00"/></linearGradient><linearGradient id="r107" gradientUnits="userSpaceOnUse" x1="638" x2="1279"><stop offset="0" stop-color="#00ffca"/><stop offset=".329" stop-color="#00ff9f"/><stop offset=".549" stop-color="#00ff76"/><stop offset=".68" stop-color="#00ff51"/><stop offset=".746" stop-color="#00ff33"/><stop offset=".775" stop-color="#00ff1b"/><stop offset=".786" stop-color="#01ff09"/><stop offset=".793" stop-color="#18ff00"/><stop offset=".808" stop-color="#31ff00"/><stop offset=".841" stop-color="#4eff00"/><stop offset=".903" stop-color="#71ff00"/><stop offset="1" stop-color="#95ff00"/></linearGradient><linearGradient id="r108" gradientUnits="userSpaceOnUse" x1="639" x2="1283"><stop offset="0" stop-color="#00ffcc"/><stop offset=".356" stop-color="#00ff9c"/><stop offset=".567" stop-color="#00ff73"/><stop offset=".693" stop-color="#00ff4e"/><stop offset=".758" stop-color="#00ff2d"/><stop offset=".778" stop-color="#01ff1a"/><stop offset=".784" stop-color="#18ff11"/><stop offset=".792" stop-color="#27ff00"/><stop offset=".818" stop-color="#44ff00"/><stop offset=".873" stop-color="#67ff00"/><stop offset=".977" stop-color="#91ff00"/><stop offset="1" stop-color="#98ff00"/></linearGradient><linearGradient id="r109" gradientUnits="userSpaceOnUse" x1="640" x2="1287"><stop offset="0" stop-color="#00ffcd"/><stop offset=".351" stop-color="#00ff9e"/><stop offset=".567" stop-color="#00ff74"/><stop offset=".689" stop-color="#00ff50"/><stop offset=".751" stop-color="#00ff32"/><stop offset=".77" stop-color="#01ff25"/><stop offset=".776" stop-color="#18ff1f"/><stop offset=".788" stop-color="#2dff0d"/><stop offset=".794" stop-color="#35ff00"/><stop offset=".832" stop-color="#54ff00"/><stop offset=".903" stop-color="#79ff00"/><stop offset="1" stop-color="#9cff00"/></linearGradient><linearGradient id="r110" gradientUnits="userSpaceOnUse" x1="640" x2="1291"><stop offset="0" stop-color="#00ffce"/><stop offset=".327" stop-color="#00ffa3"/><stop offset=".556" stop-color="#00ff78"/><stop offset=".688" stop-color="#00ff52"/><stop offset=".756" stop-color="#00ff31"/><stop offset=".762" stop-color="#00ff2d"/><stop offset=".768" stop-color="#18ff28"/><stop offset=".783" stop-color="#32ff18"/><stop offset=".796" stop-color="#3fff00"/><stop offset=".853" stop-color="#66ff00"/><stop offset=".948" stop-color="#8eff00"/><stop offset="1" stop-color="#9fff00"/></linearGradient><linearGradient id="r111" gradientUnits="userSpaceOnUse" x1="641" x2="1294"><stop offset="0" stop-color="#00ffd0"/><stop offset=".348" stop-color="#00ffa1"/><stop offset=".565" stop-color="#00ff77"/><stop offset=".692" stop-color="#00ff52"/><stop offset=".755" stop-color="#00ff34"/><stop offset=".761" stop-color="#18ff30"/><stop offset=".778" stop-color="#34ff22"/><stop offset=".793" stop-color="#43ff0d"/><stop offset=".799" stop-color="#48ff00"/><stop offset=".848" stop-color="#68ff00"/><stop offset=".949" stop-color="#92ff00"/><stop offset="1" stop-color="#a2ff00"/></linearGradient><linearGradient id="r112" gradientUnits="userSpaceOnUse" x1="642" x2="1298"><stop offset="0" stop-color="#00ffd1"/><stop offset=".343" stop-color="#00ffa3"/><stop offset=".566" stop-color="#00ff78"/><stop offset=".692" stop-color="#00ff53"/><stop offset=".747" stop-color="#00ff3a"/><stop offset=".753" stop-color="#18ff36"/><stop offset=".767" stop-color="#30ff2d"/><stop offset=".79" stop-color="#47ff16"/><stop offset=".8" stop-color="#50ff00"/><stop offset=".87" stop-color="#77ff00"/><stop offset=".983" stop-color="#a0ff00"/><stop offset="1" stop-color="#a5ff00"/></linearGradient><linearGradient id="r113" gradientUnits="userSpaceOnUse" x1="643" x2="1302"><stop offset="0" stop-color="#00ffd2"/><stop offset=".325" stop-color="#00ffa7"/><stop offset=".557" stop-color="#00ff7b"/><stop offset=".689" stop-color="#00ff55"/><stop offset=".739" stop-color="#00ff3f"/><stop offset=".745" stop-color="#18ff3c"/><stop offset=".759" stop-color="#30ff34"/><stop offset=".786" stop-color="#4bff1d"/><stop offset=".798" stop-color="#54ff09"/><stop offset=".803" stop-color="#57ff00"/><stop offset=".873" stop-color="#7cff00"/><stop offset=".992" stop-color="#a6ff00"/><stop offset="1" stop-color="#a8ff00"/></linearGradient><linearGradient id="r114" gradientUnits="userSpaceOnUse" x1="644" x2="1306"><stop offset="0" stop-color="#00ffd4"/><stop offset=".344" stop-color="#00ffa5"/><stop offset=".562" stop-color="#00ff7b"/><stop offset=".692" stop-color="#00ff55"/><stop offset=".731" stop-color="#00ff45"/><stop offset=".737" stop-color="#18ff42"/><stop offset=".751" stop-color="#30ff3a"/><stop offset=".781" stop-color="#4eff25"/><stop offset=".796" stop-color="#59ff11"/><stop offset=".804" stop-color="#5dff00"/><stop offset=".879" stop-color="#83ff00"/><stop offset="1" stop-color="#abff00"/></linearGradient><linearGradient id="r115" gradientUnits="userSpaceOnUse" x1="644" x2="1310"><stop offset="0" stop-color="#00ffd5"/><stop offset=".335" stop-color="#00ffa8"/><stop offset=".559" stop-color="#00ff7d"/><stop offset=".688" stop-color="#00ff58"/><stop offset=".724" stop-color="#00ff49"/><stop offset=".73" stop-color="#18ff47"/><stop offset=".743" stop-color="#30ff40"/><stop offset=".773" stop-color="#4eff2d"/><stop offset=".796" stop-color="#5eff15"/><stop offset=".806" stop-color="#64ff00"/><stop offset=".89" stop-color="#8bff00"/><stop offset="1" stop-color="#afff00"/></linearGradient><linearGradient id="r116" gradientUnits="userSpaceOnUse" x1="645" x2="1314"><stop offset="0" stop-color="#00ffd7"/><stop offset=".348" stop-color="#00ffa7"/><stop offset=".572" stop-color="#00ff7b"/><stop offset=".701" stop-color="#00ff54"/><stop offset=".716" stop-color="#00ff4e"/><stop offset=".722" stop-color="#18ff4b"/><stop offset=".735" stop-color="#30ff45"/><stop offset=".768" stop-color="#51ff32"/><stop offset=".795" stop-color="#63ff19"/><stop offset=".807" stop-color="#69ff00"/><stop offset=".888" stop-color="#8eff00"/><stop offset="1" stop-color="#b2ff00"/></linearGradient><linearGradient id="r117" gradientUnits="userSpaceOnUse" x1="646" x2="1318"><stop offset="0" stop-color="#00ffd8"/><stop offset=".344" stop-color="#00ffa9"/><stop offset=".564" stop-color="#00ff7e"/><stop offset=".69" stop-color="#00ff59"/><stop offset=".708" stop-color="#00ff52"/><stop offset=".714" stop-color="#18ff50"/><stop offset=".729" stop-color="#33ff49"/><stop offset=".763" stop-color="#53ff37"/><stop offset=".795" stop-color="#67ff1c"/><stop offset=".805" stop-color="#6dff09"/><stop offset=".808" stop-color="#6fff00"/><stop offset=".906" stop-color="#98ff00"/><stop offset="1" stop-color="#b5ff00"/></linearGradient><linearGradient id="r118" gradientUnits="userSpaceOnUse" x1="647" x2="1322"><stop offset="0" stop-color="#00ffd9"/><stop offset=".32" stop-color="#00ffae"/><stop offset=".547" stop-color="#00ff83"/><stop offset=".68" stop-color="#00ff5e"/><stop offset=".701" stop-color="#00ff56"/><stop offset=".707" stop-color="#18ff54"/><stop offset=".721" stop-color="#33ff4e"/><stop offset=".754" stop-color="#52ff3e"/><stop offset=".791" stop-color="#6aff22"/><stop offset=".804" stop-color="#71ff0e"/><stop offset=".81" stop-color="#74ff00"/><stop offset=".91" stop-color="#9dff00"/><stop offset="1" stop-color="#b8ff00"/></linearGradient><linearGradient id="r119" gradientUnits="userSpaceOnUse" x1="648" x2="1326"><stop offset="0" stop-color="#00ffdb"/><stop offset=".347" stop-color="#00ffab"/><stop offset=".569" stop-color="#00ff7f"/><stop offset=".693" stop-color="#00ff5a"/><stop offset=".699" stop-color="#18ff58"/><stop offset=".714" stop-color="#33ff52"/><stop offset=".746" stop-color="#53ff43"/><stop offset=".789" stop-color="#6eff26"/><stop offset=".805" stop-color="#76ff10"/><stop offset=".811" stop-color="#79ff00"/><stop offset=".92" stop-color="#a4ff00"/><stop offset="1" stop-color="#bbff00"/></linearGradient><linearGradient id="r120" gradientUnits="userSpaceOnUse" x1="649" x2="1330"><stop offset="0" stop-color="#00ffdc"/><stop offset=".329" stop-color="#00ffaf"/><stop offset=".552" stop-color="#00ff84"/><stop offset=".686" stop-color="#00ff5e"/><stop offset=".693" stop-color="#1cff5b"/><stop offset=".711" stop-color="#39ff55"/><stop offset=".746" stop-color="#58ff45"/><stop offset=".79" stop-color="#73ff27"/><stop offset=".806" stop-color="#7bff11"/><stop offset=".814" stop-color="#7eff00"/><stop offset=".921" stop-color="#a7ff00"/><stop offset="1" stop-color="#beff00"/></linearGradient><linearGradient id="r121" gradientUnits="userSpaceOnUse" x1="650" x2="1334"><stop offset="0" stop-color="#00ffde"/><stop offset=".349" stop-color="#00ffad"/><stop offset=".57" stop-color="#00ff81"/><stop offset=".678" stop-color="#00ff62"/><stop offset=".686" stop-color="#1cff5f"/><stop offset=".7" stop-color="#35ff5a"/><stop offset=".73" stop-color="#52ff4e"/><stop offset=".781" stop-color="#73ff30"/><stop offset=".804" stop-color="#7eff18"/><stop offset=".814" stop-color="#83ff00"/><stop offset=".936" stop-color="#afff00"/><stop offset="1" stop-color="#c1ff00"/></linearGradient><linearGradient id="r122" gradientUnits="userSpaceOnUse" x1="650" x2="1338"><stop offset="0" stop-color="#00ffdf"/><stop offset=".321" stop-color="#00ffb3"/><stop offset=".555" stop-color="#00ff86"/><stop offset=".672" stop-color="#00ff65"/><stop offset=".679" stop-color="#1cff63"/><stop offset=".693" stop-color="#35ff5e"/><stop offset=".725" stop-color="#55ff51"/><stop offset=".779" stop-color="#76ff33"/><stop offset=".802" stop-color="#81ff1d"/><stop offset=".812" stop-color="#86ff0a"/><stop offset=".817" stop-color="#88ff00"/><stop offset=".962" stop-color="#baff00"/><stop offset="1" stop-color="#c5ff00"/></linearGradient><linearGradient id="r123" gradientUnits="userSpaceOnUse" x1="651" x2="1342"><stop offset="0" stop-color="#00ffe1"/><stop offset=".347" stop-color="#00ffb0"/><stop offset=".563" stop-color="#00ff85"/><stop offset=".664" stop-color="#00ff69"/><stop offset=".671" stop-color="#1cff66"/><stop offset=".686" stop-color="#36ff61"/><stop offset=".719" stop-color="#56ff55"/><stop offset=".78" stop-color="#7bff34"/><stop offset=".805" stop-color="#86ff1c"/><stop offset=".815" stop-color="#8bff08"/><stop offset=".818" stop-color="#8cff00"/><stop offset=".951" stop-color="#baff00"/><stop offset="1" stop-color="#c8ff00"/></linearGradient><linearGradient id="r124" gradientUnits="userSpaceOnUse" x1="652" x2="1345"><stop offset="0" stop-color="#00ffe2"/><stop offset=".332" stop-color="#00ffb4"/><stop offset=".566" stop-color="#00ff86"/><stop offset=".658" stop-color="#00ff6c"/><stop offset=".665" stop-color="#1cff6a"/><stop offset=".681" stop-color="#38ff65"/><stop offset=".717" stop-color="#5aff57"/><stop offset=".781" stop-color="#7fff36"/><stop offset=".807" stop-color="#8bff1d"/><stop offset=".817" stop-color="#8fff0a"/><stop offset=".821" stop-color="#91ff00"/><stop offset=".955" stop-color="#beff00"/><stop offset="1" stop-color="#caff00"/></linearGradient><linearGradient id="r125" gradientUnits="userSpaceOnUse" x1="653" x2="1349"><stop offset="0" stop-color="#00ffe4"/><stop offset=".345" stop-color="#00ffb3"/><stop offset=".57" stop-color="#00ff86"/><stop offset=".651" stop-color="#00ff70"/><stop offset=".658" stop-color="#1cff6d"/><stop offset=".675" stop-color="#3aff68"/><stop offset=".71" stop-color="#5aff5b"/><stop offset=".772" stop-color="#7fff3d"/><stop offset=".805" stop-color="#8eff22"/><stop offset=".816" stop-color="#92ff10"/><stop offset=".822" stop-color="#95ff00"/><stop offset=".966" stop-color="#c4ff00"/><stop offset="1" stop-color="#cdff00"/></linearGradient><linearGradient id="r126" gradientUnits="userSpaceOnUse" x1="654" x2="1353"><stop offset="0" stop-color="#00ffe5"/><stop offset=".329" stop-color="#00ffb7"/><stop offset=".558" stop-color="#00ff8a"/><stop offset=".644" stop-color="#00ff73"/><stop offset=".651" stop-color="#1cff71"/><stop offset=".664" stop-color="#34ff6d"/><stop offset=".695" stop-color="#55ff62"/><stop offset=".757" stop-color="#7cff47"/><stop offset=".801" stop-color="#90ff28"/><stop offset=".818" stop-color="#97ff0e"/><stop offset=".824" stop-color="#99ff00"/><stop offset=".961" stop-color="#c6ff00"/><stop offset="1" stop-color="#d0ff00"/></linearGradient><linearGradient id="r127" gradientUnits="userSpaceOnUse" x1="655" x2="1357"><stop offset="0" stop-color="#00ffe7"/><stop offset=".349" stop-color="#00ffb5"/><stop offset=".571" stop-color="#00ff88"/><stop offset=".637" stop-color="#00ff76"/><stop offset=".644" stop-color="#1cff74"/><stop offset=".657" stop-color="#34ff70"/><stop offset=".681" stop-color="#4fff68"/><stop offset=".734" stop-color="#74ff54"/><stop offset=".791" stop-color="#8fff33"/><stop offset=".815" stop-color="#99ff18"/><stop offset=".825" stop-color="#9dff00"/><stop offset=".964" stop-color="#caff00"/><stop offset="1" stop-color="#d3ff00"/></linearGradient><linearGradient id="r128" gradientUnits="userSpaceOnUse" x1="656" x2="1361"><stop offset="0" stop-color="#00ffe8"/><stop offset=".321" stop-color="#00ffbb"/><stop offset=".555" stop-color="#00ff8d"/><stop offset=".63" stop-color="#00ff79"/><stop offset=".637" stop-color="#1cff77"/><stop offset=".651" stop-color="#37ff73"/><stop offset=".685" stop-color="#59ff68"/><stop offset=".746" stop-color="#7fff4f"/><stop offset=".796" stop-color="#95ff30"/><stop offset=".817" stop-color="#9eff17"/><stop offset=".827" stop-color="#a2ff00"/><stop offset=".983" stop-color="#d2ff00"/><stop offset="1" stop-color="#d6ff00"/></linearGradient><linearGradient id="r129" gradientUnits="userSpaceOnUse" x1="657" x2="1365"><stop offset="0" stop-color="#00ffea"/><stop offset=".34" stop-color="#00ffb9"/><stop offset=".568" stop-color="#00ff8b"/><stop offset=".623" stop-color="#00ff7c"/><stop offset=".63" stop-color="#1cff7a"/><stop offset=".644" stop-color="#37ff76"/><stop offset=".675" stop-color="#57ff6c"/><stop offset=".732" stop-color="#7cff57"/><stop offset=".787" stop-color="#95ff38"/><stop offset=".814" stop-color="#a0ff1f"/><stop offset=".823" stop-color="#a4ff0c"/><stop offset=".828" stop-color="#a5ff00"/><stop offset=".968" stop-color="#d1ff00"/><stop offset="1" stop-color="#daff00"/></linearGradient><linearGradient id="r130" gradientUnits="userSpaceOnUse" x1="658" x2="1369"><stop offset="0" stop-color="#00ffeb"/><stop offset=".325" stop-color="#00ffbd"/><stop offset=".553" stop-color="#00ff90"/><stop offset=".616" stop-color="#00ff7f"/><stop offset=".623" stop-color="#1cff7d"/><stop offset=".637" stop-color="#37ff79"/><stop offset=".667" stop-color="#56ff70"/><stop offset=".722" stop-color="#7bff5c"/><stop offset=".782" stop-color="#97ff3d"/><stop offset=".813" stop-color="#a3ff22"/><stop offset=".826" stop-color="#a8ff0a"/><stop offset=".828" stop-color="#a9ff00"/><stop offset=".979" stop-color="#d7ff00"/><stop offset="1" stop-color="#ddff00"/></linearGradient><linearGradient id="r131" gradientUnits="userSpaceOnUse" x1="659" x2="1373"><stop offset="0" stop-color="#00ffed"/><stop offset=".339" stop-color="#00ffbc"/><stop offset=".566" stop-color="#00ff8e"/><stop offset=".609" stop-color="#00ff82"/><stop offset=".611" stop-color="#03ff82"/><stop offset=".615" stop-color="#18ff81"/><stop offset=".627" stop-color="#33ff7d"/><stop offset=".654" stop-color="#52ff75"/><stop offset=".704" stop-color="#76ff64"/><stop offset=".773" stop-color="#97ff44"/><stop offset=".808" stop-color="#a5ff29"/><stop offset=".824" stop-color="#abff13"/><stop offset=".831" stop-color="#adff00"/><stop offset=".982" stop-color="#dbff00"/><stop offset="1" stop-color="#e0ff00"/></linearGradient><linearGradient id="r132" gradientUnits="userSpaceOnUse" x1="660" x2="1377"><stop offset="0" stop-color="#00ffef"/><stop offset=".353" stop-color="#00ffbb"/><stop offset=".57" stop-color="#00ff8e"/><stop offset=".603" stop-color="#00ff85"/><stop offset=".604" stop-color="#03ff85"/><stop offset=".608" stop-color="#18ff84"/><stop offset=".621" stop-color="#33ff81"/><stop offset=".646" stop-color="#51ff79"/><stop offset=".7" stop-color="#78ff67"/><stop offset=".775" stop-color="#9cff44"/><stop offset=".809" stop-color="#a9ff2a"/><stop offset=".824" stop-color="#afff14"/><stop offset=".831" stop-color="#b1ff00"/><stop offset=".997" stop-color="#e2ff00"/><stop offset="1" stop-color="#e3ff00"/></linearGradient><linearGradient id="r133" gradientUnits="userSpaceOnUse" x1="661" x2="1381"><stop offset="0" stop-color="#00fff0"/><stop offset=".332" stop-color="#00ffc0"/><stop offset=".564" stop-color="#00ff91"/><stop offset=".596" stop-color="#00ff88"/><stop offset=".597" stop-color="#03ff88"/><stop offset=".601" stop-color="#18ff87"/><stop offset=".613" stop-color="#31ff84"/><stop offset=".637" stop-color="#50ff7d"/><stop offset=".697" stop-color="#7bff69"/><stop offset=".771" stop-color="#9eff48"/><stop offset=".81" stop-color="#adff2b"/><stop offset=".826" stop-color="#b3ff13"/><stop offset=".833" stop-color="#b5ff00"/><stop offset="1" stop-color="#e6ff00"/></linearGradient><linearGradient id="r134" gradientUnits="userSpaceOnUse" x1="662" x2="1385"><stop offset="0" stop-color="#00fff2"/><stop offset=".346" stop-color="#00ffbf"/><stop offset=".568" stop-color="#00ff91"/><stop offset=".589" stop-color="#00ff8b"/><stop offset=".591" stop-color="#03ff8b"/><stop offset=".595" stop-color="#18ff8a"/><stop offset=".604" stop-color="#2fff87"/><stop offset=".629" stop-color="#4fff80"/><stop offset=".679" stop-color="#75ff71"/><stop offset=".766" stop-color="#a0ff4c"/><stop offset=".811" stop-color="#b1ff2c"/><stop offset=".827" stop-color="#b6ff14"/><stop offset=".834" stop-color="#b9ff00"/><stop offset="1" stop-color="#e9ff00"/></linearGradient><linearGradient id="r135" gradientUnits="userSpaceOnUse" x1="663" x2="1388"><stop offset="0" stop-color="#00fff3"/><stop offset=".326" stop-color="#00ffc4"/><stop offset=".559" stop-color="#00ff95"/><stop offset=".585" stop-color="#02ff8e"/><stop offset=".589" stop-color="#18ff8d"/><stop offset=".599" stop-color="#2fff8a"/><stop offset=".622" stop-color="#4eff84"/><stop offset=".677" stop-color="#78ff73"/><stop offset=".761" stop-color="#a1ff50"/><stop offset=".808" stop-color="#b3ff31"/><stop offset=".829" stop-color="#baff16"/><stop offset=".837" stop-color="#bdff00"/><stop offset="1" stop-color="#ebff00"/></linearGradient><linearGradient id="r136" gradientUnits="userSpaceOnUse" x1="664" x2="1392"><stop offset="0" stop-color="#00fff5"/><stop offset=".334" stop-color="#00ffc4"/><stop offset=".563" stop-color="#00ff95"/><stop offset=".578" stop-color="#02ff91"/><stop offset=".582" stop-color="#18ff90"/><stop offset=".593" stop-color="#32ff8d"/><stop offset=".618" stop-color="#51ff86"/><stop offset=".666" stop-color="#76ff78"/><stop offset=".753" stop-color="#a1ff56"/><stop offset=".804" stop-color="#b4ff36"/><stop offset=".826" stop-color="#bcff1e"/><stop offset=".835" stop-color="#bfff09"/><stop offset=".838" stop-color="#c0ff00"/><stop offset=".999" stop-color="#eeff00"/><stop offset="1" stop-color="#eeff00"/></linearGradient><linearGradient id="r137" gradientUnits="userSpaceOnUse" x1="665" x2="1396"><stop offset="0" stop-color="#00fff7"/><stop offset=".342" stop-color="#00ffc4"/><stop offset=".572" stop-color="#02ff94"/><stop offset=".576" stop-color="#18ff93"/><stop offset=".587" stop-color="#32ff90"/><stop offset=".611" stop-color="#51ff89"/><stop offset=".663" stop-color="#79ff7a"/><stop offset=".751" stop-color="#a4ff58"/><stop offset=".802" stop-color="#b7ff39"/><stop offset=".825" stop-color="#bfff21"/><stop offset=".834" stop-color="#c3ff10"/><stop offset=".839" stop-color="#c4ff01"/><stop offset="1" stop-color="#f2ff00"/></linearGradient><linearGradient id="r138" gradientUnits="userSpaceOnUse" x1="666" x2="1400"><stop offset="0" stop-color="#00fff8"/><stop offset=".322" stop-color="#00ffc9"/><stop offset=".553" stop-color="#00ff9a"/><stop offset=".565" stop-color="#01ff97"/><stop offset=".569" stop-color="#18ff96"/><stop offset=".58" stop-color="#32ff93"/><stop offset=".606" stop-color="#53ff8c"/><stop offset=".653" stop-color="#77ff7f"/><stop offset=".737" stop-color="#a2ff60"/><stop offset=".797" stop-color="#b9ff3e"/><stop offset=".823" stop-color="#c2ff26"/><stop offset=".835" stop-color="#c6ff11"/><stop offset=".841" stop-color="#c8ff00"/><stop offset="1" stop-color="#f5ff00"/></linearGradient><linearGradient id="r139" gradientUnits="userSpaceOnUse" x1="667" x2="1404"><stop offset="0" stop-color="#00fffa"/><stop offset=".33" stop-color="#00ffc9"/><stop offset=".559" stop-color="#01ff9a"/><stop offset=".563" stop-color="#18ff99"/><stop offset=".574" stop-color="#32ff96"/><stop offset=".596" stop-color="#4fff90"/><stop offset=".64" stop-color="#74ff83"/><stop offset=".722" stop-color="#9fff67"/><stop offset=".786" stop-color="#b8ff47"/><stop offset=".82" stop-color="#c4ff2c"/><stop offset=".834" stop-color="#c9ff16"/><stop offset=".841" stop-color="#cbff01"/><stop offset="1" stop-color="#f8ff00"/></linearGradient><linearGradient id="r140" gradientUnits="userSpaceOnUse" x1="668" x2="1408"><stop offset="0" stop-color="#00fffc"/><stop offset=".332" stop-color="#00ffca"/><stop offset=".553" stop-color="#01ff9c"/><stop offset=".557" stop-color="#18ff9b"/><stop offset=".569" stop-color="#35ff98"/><stop offset=".596" stop-color="#56ff91"/><stop offset=".639" stop-color="#78ff85"/><stop offset=".724" stop-color="#a4ff67"/><stop offset=".788" stop-color="#bdff47"/><stop offset=".82" stop-color="#c8ff2d"/><stop offset=".836" stop-color="#cdff15"/><stop offset=".843" stop-color="#cfff00"/><stop offset="1" stop-color="#fbff00"/></linearGradient><linearGradient id="r141" gradientUnits="userSpaceOnUse" x1="669" x2="1412"><stop offset="0" stop-color="#00fffe"/><stop offset=".347" stop-color="#00ffc9"/><stop offset=".546" stop-color="#01ff9f"/><stop offset=".55" stop-color="#18ff9e"/><stop offset=".561" stop-color="#33ff9c"/><stop offset=".587" stop-color="#54ff95"/><stop offset=".638" stop-color="#7cff87"/><stop offset=".723" stop-color="#a7ff69"/><stop offset=".79" stop-color="#c1ff47"/><stop offset=".824" stop-color="#ccff2b"/><stop offset=".838" stop-color="#d1ff13"/><stop offset=".844" stop-color="#d3ff01"/><stop offset="1" stop-color="#feff00"/></linearGradient><linearGradient id="r142" gradientUnits="userSpaceOnUse" x1="670" x2="1416"><stop offset="0" stop-color="#00ffff"/><stop offset=".322" stop-color="#00ffcf"/><stop offset=".54" stop-color="#00ffa2"/><stop offset=".544" stop-color="#18ffa1"/><stop offset=".555" stop-color="#33ff9f"/><stop offset=".579" stop-color="#53ff98"/><stop offset=".627" stop-color="#7aff8b"/><stop offset=".712" stop-color="#a6ff6f"/><stop offset=".784" stop-color="#c2ff4c"/><stop offset=".824" stop-color="#d0ff2c"/><stop offset=".839" stop-color="#d5ff15"/><stop offset=".846" stop-color="#d7ff00"/><stop offset=".997" stop-color="#fffe00"/><stop offset="1" stop-color="#fffd00"/></linearGradient><linearGradient id="r143" gradientUnits="userSpaceOnUse" x1="671" x2="1420"><stop offset="0" stop-color="#00fdff"/><stop offset=".166" stop-color="#00ffea"/><stop offset=".45" stop-color="#00ffb8"/><stop offset=".534" stop-color="#00ffa5"/><stop offset=".538" stop-color="#18ffa4"/><stop offset=".549" stop-color="#33ffa1"/><stop offset=".571" stop-color="#52ff9c"/><stop offset=".615" stop-color="#77ff90"/><stop offset=".698" stop-color="#a4ff75"/><stop offset=".774" stop-color="#c2ff53"/><stop offset=".818" stop-color="#d1ff34"/><stop offset=".838" stop-color="#d8ff19"/><stop offset=".845" stop-color="#daff06"/><stop offset=".846" stop-color="#daff00"/><stop offset=".985" stop-color="#fffd00"/><stop offset="1" stop-color="#fffa00"/></linearGradient><linearGradient id="r144" gradientUnits="userSpaceOnUse" x1="672" x2="1423"><stop offset="0" stop-color="#00fbff"/><stop offset=".061" stop-color="#00fffb"/><stop offset=".382" stop-color="#00ffc7"/><stop offset=".529" stop-color="#00ffa8"/><stop offset=".533" stop-color="#18ffa7"/><stop offset=".542" stop-color="#31ffa5"/><stop offset=".565" stop-color="#51ff9f"/><stop offset=".61" stop-color="#77ff93"/><stop offset=".68" stop-color="#9fff7d"/><stop offset=".767" stop-color="#c3ff59"/><stop offset=".814" stop-color="#d3ff3b"/><stop offset=".836" stop-color="#daff21"/><stop offset=".846" stop-color="#ddff0d"/><stop offset=".85" stop-color="#deff00"/><stop offset=".975" stop-color="#fffd00"/><stop offset="1" stop-color="#fff700"/></linearGradient><linearGradient id="r145" gradientUnits="userSpaceOnUse" x1="673" x2="1427"><stop offset="0" stop-color="#00f9ff"/><stop offset=".066" stop-color="#00fffc"/><stop offset=".391" stop-color="#00ffc7"/><stop offset=".523" stop-color="#00ffab"/><stop offset=".527" stop-color="#18ffaa"/><stop offset=".536" stop-color="#31ffa8"/><stop offset=".56" stop-color="#53ffa2"/><stop offset=".605" stop-color="#79ff96"/><stop offset=".683" stop-color="#a4ff7d"/><stop offset=".765" stop-color="#c5ff5b"/><stop offset=".813" stop-color="#d6ff3d"/><stop offset=".837" stop-color="#ddff22"/><stop offset=".846" stop-color="#e0ff0f"/><stop offset=".85" stop-color="#e2ff00"/><stop offset=".963" stop-color="#fffd00"/><stop offset="1" stop-color="#fff400"/></linearGradient><linearGradient id="r146" gradientUnits="userSpaceOnUse" x1="674" x2="1431"><stop offset="0" stop-color="#00f8ff"/><stop offset=".079" stop-color="#00fffc"/><stop offset=".399" stop-color="#00ffc7"/><stop offset=".517" stop-color="#00ffae"/><stop offset=".52" stop-color="#18ffad"/><stop offset=".531" stop-color="#34ffaa"/><stop offset=".554" stop-color="#53ffa5"/><stop offset=".596" stop-color="#77ff9a"/><stop offset=".666" stop-color="#a0ff85"/><stop offset=".762" stop-color="#c8ff5e"/><stop offset=".811" stop-color="#d9ff40"/><stop offset=".839" stop-color="#e1ff22"/><stop offset=".848" stop-color="#e4ff0d"/><stop offset=".852" stop-color="#e5ff00"/><stop offset=".95" stop-color="#fffd00"/><stop offset="1" stop-color="#fff100"/></linearGradient><linearGradient id="r147" gradientUnits="userSpaceOnUse" x1="675" x2="1435"><stop offset="0" stop-color="#00f6ff"/><stop offset=".091" stop-color="#00fffc"/><stop offset=".401" stop-color="#00ffc8"/><stop offset=".511" stop-color="#00ffb0"/><stop offset=".514" stop-color="#18ffaf"/><stop offset=".525" stop-color="#34ffad"/><stop offset=".546" stop-color="#52ffa8"/><stop offset=".588" stop-color="#77ff9d"/><stop offset=".658" stop-color="#a0ff88"/><stop offset=".757" stop-color="#c9ff62"/><stop offset=".809" stop-color="#dbff42"/><stop offset=".834" stop-color="#e3ff2a"/><stop offset=".847" stop-color="#e7ff13"/><stop offset=".853" stop-color="#e9ff00"/><stop offset=".939" stop-color="#fffd00"/><stop offset="1" stop-color="#ffee00"/></linearGradient><linearGradient id="r148" gradientUnits="userSpaceOnUse" x1="676" x2="1439"><stop offset="0" stop-color="#00f4ff"/><stop offset=".097" stop-color="#00fffd"/><stop offset=".404" stop-color="#00ffc9"/><stop offset=".505" stop-color="#00ffb3"/><stop offset=".509" stop-color="#18ffb2"/><stop offset=".519" stop-color="#34ffb0"/><stop offset=".541" stop-color="#54ffaa"/><stop offset=".583" stop-color="#78ffa0"/><stop offset=".651" stop-color="#a1ff8c"/><stop offset=".758" stop-color="#cdff63"/><stop offset=".813" stop-color="#e0ff41"/><stop offset=".839" stop-color="#e8ff26"/><stop offset=".849" stop-color="#ebff11"/><stop offset=".855" stop-color="#edff00"/><stop offset=".927" stop-color="#fffd00"/><stop offset="1" stop-color="#ffec00"/></linearGradient><linearGradient id="r149" gradientUnits="userSpaceOnUse" x1="677" x2="1443"><stop offset="0" stop-color="#00f2ff"/><stop offset=".11" stop-color="#00fffd"/><stop offset=".416" stop-color="#00ffc8"/><stop offset=".499" stop-color="#00ffb6"/><stop offset=".504" stop-color="#1dffb5"/><stop offset=".514" stop-color="#37ffb2"/><stop offset=".538" stop-color="#57ffad"/><stop offset=".582" stop-color="#7dffa1"/><stop offset=".658" stop-color="#a8ff8b"/><stop offset=".756" stop-color="#d0ff65"/><stop offset=".811" stop-color="#e3ff44"/><stop offset=".839" stop-color="#ecff27"/><stop offset=".85" stop-color="#efff13"/><stop offset=".855" stop-color="#f0ff00"/><stop offset=".915" stop-color="#fffd00"/><stop offset="1" stop-color="#ffe900"/></linearGradient><linearGradient id="r150" gradientUnits="userSpaceOnUse" x1="678" x2="1447"><stop offset="0" stop-color="#00f1ff"/><stop offset=".122" stop-color="#00fffd"/><stop offset=".429" stop-color="#00ffc7"/><stop offset=".493" stop-color="#00ffb9"/><stop offset=".498" stop-color="#1dffb8"/><stop offset=".508" stop-color="#37ffb5"/><stop offset=".531" stop-color="#56ffb0"/><stop offset=".573" stop-color="#7cffa5"/><stop offset=".654" stop-color="#aaff8e"/><stop offset=".754" stop-color="#d3ff67"/><stop offset=".811" stop-color="#e6ff45"/><stop offset=".84" stop-color="#efff28"/><stop offset=".85" stop-color="#f2ff15"/><stop offset=".857" stop-color="#f4ff00"/><stop offset=".904" stop-color="#fffd00"/><stop offset="1" stop-color="#ffe600"/></linearGradient><linearGradient id="r151" gradientUnits="userSpaceOnUse" x1="679" x2="1451"><stop offset="0" stop-color="#00efff"/><stop offset=".135" stop-color="#00fffd"/><stop offset=".433" stop-color="#00ffc8"/><stop offset=".487" stop-color="#00ffbc"/><stop offset=".492" stop-color="#1dffbb"/><stop offset=".504" stop-color="#3affb8"/><stop offset=".53" stop-color="#5cffb2"/><stop offset=".582" stop-color="#86ffa4"/><stop offset=".663" stop-color="#b2ff8c"/><stop offset=".759" stop-color="#d8ff66"/><stop offset=".816" stop-color="#ebff43"/><stop offset=".842" stop-color="#f3ff27"/><stop offset=".852" stop-color="#f6ff13"/><stop offset=".858" stop-color="#f8ff00"/><stop offset=".895" stop-color="#fffc00"/><stop offset="1" stop-color="#ffe300"/></linearGradient><linearGradient id="r152" gradientUnits="userSpaceOnUse" x1="681" x2="1454"><stop offset="0" stop-color="#00edff"/><stop offset=".146" stop-color="#00fffd"/><stop offset=".445" stop-color="#00ffc7"/><stop offset=".481" stop-color="#00ffbf"/><stop offset=".486" stop-color="#1dffbd"/><stop offset=".498" stop-color="#3affbb"/><stop offset=".521" stop-color="#5affb5"/><stop offset=".565" stop-color="#80ffaa"/><stop offset=".644" stop-color="#adff94"/><stop offset=".758" stop-color="#dbff68"/><stop offset=".816" stop-color="#eeff45"/><stop offset=".842" stop-color="#f6ff2a"/><stop offset=".854" stop-color="#faff15"/><stop offset=".859" stop-color="#fbff01"/><stop offset=".89" stop-color="#fffa00"/><stop offset="1" stop-color="#ffe100"/></linearGradient><linearGradient id="r153" gradientUnits="userSpaceOnUse" x1="682" x2="1458"><stop offset="0" stop-color="#00ebff"/><stop offset=".157" stop-color="#00fffd"/><stop offset=".447" stop-color="#00ffc8"/><stop offset=".476" stop-color="#00ffc1"/><stop offset=".481" stop-color="#1dffc0"/><stop offset=".491" stop-color="#38ffbe"/><stop offset=".514" stop-color="#59ffb8"/><stop offset=".558" stop-color="#7fffae"/><stop offset=".63" stop-color="#aaff99"/><stop offset=".74" stop-color="#d8ff72"/><stop offset=".805" stop-color="#eeff4e"/><stop offset=".838" stop-color="#f8ff32"/><stop offset=".853" stop-color="#fdff1a"/><stop offset=".861" stop-color="#ffff00"/><stop offset="1" stop-color="#ffde00"/></linearGradient><linearGradient id="r154" gradientUnits="userSpaceOnUse" x1="683" x2="1462"><stop offset="0" stop-color="#00eaff"/><stop offset=".169" stop-color="#00fffd"/><stop offset=".454" stop-color="#00ffc8"/><stop offset=".47" stop-color="#00ffc4"/><stop offset=".475" stop-color="#1dffc3"/><stop offset=".485" stop-color="#38ffc1"/><stop offset=".507" stop-color="#58ffbc"/><stop offset=".551" stop-color="#7fffb1"/><stop offset=".62" stop-color="#a9ff9e"/><stop offset=".733" stop-color="#d9ff76"/><stop offset=".798" stop-color="#efff54"/><stop offset=".836" stop-color="#fbff36"/><stop offset=".854" stop-color="#fffe1b"/><stop offset=".86" stop-color="#fffc07"/><stop offset=".863" stop-color="#fffb00"/><stop offset="1" stop-color="#ffdc00"/></linearGradient><linearGradient id="r155" gradientUnits="userSpaceOnUse" x1="684" x2="1466"><stop offset="0" stop-color="#00e8ff"/><stop offset=".182" stop-color="#00fffd"/><stop offset=".458" stop-color="#00ffc9"/><stop offset=".464" stop-color="#00ffc7"/><stop offset=".469" stop-color="#1dffc6"/><stop offset=".478" stop-color="#36ffc4"/><stop offset=".5" stop-color="#57ffbf"/><stop offset=".542" stop-color="#7effb5"/><stop offset=".614" stop-color="#aaffa1"/><stop offset=".73" stop-color="#dcff79"/><stop offset=".799" stop-color="#f3ff55"/><stop offset=".839" stop-color="#ffff34"/><stop offset=".855" stop-color="#fffa19"/><stop offset=".863" stop-color="#fff800"/><stop offset="1" stop-color="#ffd900"/></linearGradient><linearGradient id="r156" gradientUnits="userSpaceOnUse" x1="685" x2="1470"><stop offset="0" stop-color="#00e6ff"/><stop offset=".194" stop-color="#00fffd"/><stop offset=".459" stop-color="#00ffca"/><stop offset=".464" stop-color="#1dffc9"/><stop offset=".474" stop-color="#39ffc7"/><stop offset=".498" stop-color="#5cffc1"/><stop offset=".545" stop-color="#85ffb6"/><stop offset=".618" stop-color="#b0ffa2"/><stop offset=".735" stop-color="#e1ff78"/><stop offset=".803" stop-color="#f8ff54"/><stop offset=".837" stop-color="#fffc37"/><stop offset=".855" stop-color="#fff71d"/><stop offset=".862" stop-color="#fff506"/><stop offset=".864" stop-color="#fff400"/><stop offset="1" stop-color="#ffd700"/></linearGradient><linearGradient id="r157" gradientUnits="userSpaceOnUse" x1="686" x2="1474"><stop offset="0" stop-color="#00e4ff"/><stop offset=".206" stop-color="#00fffd"/><stop offset=".453" stop-color="#00ffcd"/><stop offset=".458" stop-color="#1dffcc"/><stop offset=".468" stop-color="#39ffca"/><stop offset=".491" stop-color="#5bffc4"/><stop offset=".534" stop-color="#82ffba"/><stop offset=".604" stop-color="#adffa7"/><stop offset=".72" stop-color="#dfff80"/><stop offset=".794" stop-color="#f9ff5b"/><stop offset=".826" stop-color="#fffc43"/><stop offset=".852" stop-color="#fff424"/><stop offset=".86" stop-color="#fff212"/><stop offset=".865" stop-color="#fff100"/><stop offset="1" stop-color="#ffd400"/></linearGradient><linearGradient id="r158" gradientUnits="userSpaceOnUse" x1="687" x2="1478"><stop offset="0" stop-color="#00e3ff"/><stop offset=".216" stop-color="#00fffd"/><stop offset=".448" stop-color="#00ffd0"/><stop offset=".453" stop-color="#1dffcf"/><stop offset=".463" stop-color="#39ffcd"/><stop offset=".484" stop-color="#5affc8"/><stop offset=".53" stop-color="#84ffbd"/><stop offset=".602" stop-color="#b0ffa9"/><stop offset=".718" stop-color="#e2ff82"/><stop offset=".795" stop-color="#fcff5c"/><stop offset=".836" stop-color="#fff53a"/><stop offset=".856" stop-color="#fff01e"/><stop offset=".863" stop-color="#ffee0b"/><stop offset=".866" stop-color="#ffed00"/><stop offset="1" stop-color="#ffd200"/></linearGradient><linearGradient id="r159" gradientUnits="userSpaceOnUse" x1="689" x2="1482"><stop offset="0" stop-color="#00e1ff"/><stop offset=".227" stop-color="#00fffd"/><stop offset=".441" stop-color="#00ffd3"/><stop offset=".446" stop-color="#1dffd2"/><stop offset=".455" stop-color="#37ffd0"/><stop offset=".477" stop-color="#59ffcb"/><stop offset=".521" stop-color="#83ffc0"/><stop offset=".595" stop-color="#b1ffad"/><stop offset=".716" stop-color="#e5ff84"/><stop offset=".792" stop-color="#ffff5f"/><stop offset=".84" stop-color="#fff136"/><stop offset=".859" stop-color="#ffec1a"/><stop offset=".865" stop-color="#ffeb08"/><stop offset=".868" stop-color="#ffea00"/><stop offset="1" stop-color="#ffd000"/></linearGradient><linearGradient id="r160" gradientUnits="userSpaceOnUse" x1="690" x2="1486"><stop offset="0" stop-color="#00dfff"/><stop offset=".239" stop-color="#00fffd"/><stop offset=".436" stop-color="#00ffd6"/><stop offset=".441" stop-color="#1dffd5"/><stop offset=".448" stop-color="#34ffd3"/><stop offset=".469" stop-color="#56ffcf"/><stop offset=".505" stop-color="#7bffc6"/><stop offset=".565" stop-color="#a5ffb7"/><stop offset=".675" stop-color="#d9ff95"/><stop offset=".768" stop-color="#fbff6e"/><stop offset=".798" stop-color="#fffa5b"/><stop offset=".84" stop-color="#ffee36"/><stop offset=".859" stop-color="#ffe91b"/><stop offset=".867" stop-color="#ffe705"/><stop offset=".869" stop-color="#ffe700"/><stop offset="1" stop-color="#ffcd00"/></linearGradient><linearGradient id="r161" gradientUnits="userSpaceOnUse" x1="691" x2="1489"><stop offset="0" stop-color="#00deff"/><stop offset=".222" stop-color="#00fcff"/><stop offset=".283" stop-color="#00fff7"/><stop offset=".431" stop-color="#00ffd9"/><stop offset=".432" stop-color="#05ffd9"/><stop offset=".435" stop-color="#18ffd8"/><stop offset=".442" stop-color="#31ffd6"/><stop offset=".457" stop-color="#4effd3"/><stop offset=".49" stop-color="#73ffcb"/><stop offset=".544" stop-color="#9cffbe"/><stop offset=".634" stop-color="#cbffa4"/><stop offset=".741" stop-color="#f5ff7d"/><stop offset=".781" stop-color="#fffc68"/><stop offset=".838" stop-color="#ffeb3a"/><stop offset=".861" stop-color="#ffe61c"/><stop offset=".868" stop-color="#ffe407"/><stop offset=".871" stop-color="#ffe400"/><stop offset="1" stop-color="#ffcb00"/></linearGradient><linearGradient id="r162" gradientUnits="userSpaceOnUse" x1="692" x2="1493"><stop offset="0" stop-color="#00dcff"/><stop offset=".233" stop-color="#00fcff"/><stop offset=".295" stop-color="#00fff7"/><stop offset=".426" stop-color="#00ffdc"/><stop offset=".427" stop-color="#05ffdc"/><stop offset=".429" stop-color="#18ffdb"/><stop offset=".437" stop-color="#32ffd9"/><stop offset=".456" stop-color="#54ffd5"/><stop offset=".491" stop-color="#79ffcd"/><stop offset=".548" stop-color="#a3ffbf"/><stop offset=".645" stop-color="#d4ffa2"/><stop offset=".748" stop-color="#fbff7b"/><stop offset=".773" stop-color="#fffb6d"/><stop offset=".839" stop-color="#ffe83a"/><stop offset=".861" stop-color="#ffe31d"/><stop offset=".869" stop-color="#ffe109"/><stop offset=".871" stop-color="#ffe100"/><stop offset="1" stop-color="#ffc900"/></linearGradient><linearGradient id="r163" gradientUnits="userSpaceOnUse" x1="693" x2="1497"><stop offset="0" stop-color="#00daff"/><stop offset=".24" stop-color="#00fbff"/><stop offset=".286" stop-color="#00fffa"/><stop offset=".42" stop-color="#00ffdf"/><stop offset=".422" stop-color="#05ffdf"/><stop offset=".424" stop-color="#18ffde"/><stop offset=".432" stop-color="#32ffdd"/><stop offset=".448" stop-color="#50ffd9"/><stop offset=".478" stop-color="#73ffd2"/><stop offset=".531" stop-color="#9dffc5"/><stop offset=".623" stop-color="#ceffab"/><stop offset=".74" stop-color="#fcff80"/><stop offset=".781" stop-color="#fff567"/><stop offset=".84" stop-color="#ffe53a"/><stop offset=".862" stop-color="#ffe01d"/><stop offset=".869" stop-color="#ffde0b"/><stop offset=".872" stop-color="#ffde01"/><stop offset="1" stop-color="#ffc600"/></linearGradient><linearGradient id="r164" gradientUnits="userSpaceOnUse" x1="695" x2="1501"><stop offset="0" stop-color="#00d8ff"/><stop offset=".244" stop-color="#00faff"/><stop offset=".292" stop-color="#00fffb"/><stop offset=".414" stop-color="#00ffe2"/><stop offset=".416" stop-color="#04ffe2"/><stop offset=".418" stop-color="#18ffe1"/><stop offset=".426" stop-color="#32ffe0"/><stop offset=".443" stop-color="#53ffdc"/><stop offset=".479" stop-color="#7bffd3"/><stop offset=".541" stop-color="#a8ffc4"/><stop offset=".641" stop-color="#daffa7"/><stop offset=".743" stop-color="#fffd7f"/><stop offset=".829" stop-color="#ffe544"/><stop offset=".859" stop-color="#ffde24"/><stop offset=".87" stop-color="#ffdb0d"/><stop offset=".873" stop-color="#ffda00"/><stop offset="1" stop-color="#ffc400"/></linearGradient><linearGradient id="r165" gradientUnits="userSpaceOnUse" x1="696" x2="1505"><stop offset="0" stop-color="#00d7ff"/><stop offset=".234" stop-color="#00f6ff"/><stop offset=".297" stop-color="#00fffc"/><stop offset=".409" stop-color="#00ffe5"/><stop offset=".41" stop-color="#04ffe5"/><stop offset=".413" stop-color="#18ffe4"/><stop offset=".42" stop-color="#32ffe3"/><stop offset=".435" stop-color="#4fffdf"/><stop offset=".467" stop-color="#76ffd8"/><stop offset=".524" stop-color="#a2ffca"/><stop offset=".621" stop-color="#d5ffaf"/><stop offset=".729" stop-color="#fffe87"/><stop offset=".827" stop-color="#ffe246"/><stop offset=".858" stop-color="#ffdb26"/><stop offset=".87" stop-color="#ffd80f"/><stop offset=".874" stop-color="#ffd801"/><stop offset="1" stop-color="#ffc200"/></linearGradient><linearGradient id="r166" gradientUnits="userSpaceOnUse" x1="697" x2="1509"><stop offset="0" stop-color="#00d5ff"/><stop offset=".24" stop-color="#00f5ff"/><stop offset=".307" stop-color="#00fffc"/><stop offset=".404" stop-color="#00ffe8"/><stop offset=".405" stop-color="#04ffe8"/><stop offset=".408" stop-color="#18ffe8"/><stop offset=".415" stop-color="#33ffe6"/><stop offset=".432" stop-color="#54ffe2"/><stop offset=".467" stop-color="#7bffda"/><stop offset=".518" stop-color="#a3ffcd"/><stop offset=".61" stop-color="#d4ffb4"/><stop offset=".72" stop-color="#fffe8c"/><stop offset=".821" stop-color="#ffe04a"/><stop offset=".856" stop-color="#ffd92a"/><stop offset=".871" stop-color="#ffd610"/><stop offset=".876" stop-color="#ffd500"/><stop offset="1" stop-color="#ffc000"/></linearGradient><linearGradient id="r167" gradientUnits="userSpaceOnUse" x1="698" x2="1513"><stop offset="0" stop-color="#00d3ff"/><stop offset=".247" stop-color="#00f4ff"/><stop offset=".318" stop-color="#00fffc"/><stop offset=".399" stop-color="#00ffeb"/><stop offset=".4" stop-color="#03ffeb"/><stop offset=".402" stop-color="#18ffeb"/><stop offset=".41" stop-color="#33ffe9"/><stop offset=".425" stop-color="#50ffe6"/><stop offset=".45" stop-color="#71ffe0"/><stop offset=".498" stop-color="#9affd4"/><stop offset=".58" stop-color="#caffbe"/><stop offset=".704" stop-color="#feff95"/><stop offset=".82" stop-color="#ffde4c"/><stop offset=".855" stop-color="#ffd62c"/><stop offset=".87" stop-color="#ffd314"/><stop offset=".877" stop-color="#ffd200"/><stop offset="1" stop-color="#ffbd00"/></linearGradient><linearGradient id="r168" gradientUnits="userSpaceOnUse" x1="699" x2="1517"><stop offset="0" stop-color="#00d1ff"/><stop offset=".252" stop-color="#00f3ff"/><stop offset=".326" stop-color="#00fffd"/><stop offset=".394" stop-color="#00ffef"/><stop offset=".395" stop-color="#03ffee"/><stop offset=".397" stop-color="#18ffee"/><stop offset=".405" stop-color="#33ffec"/><stop offset=".421" stop-color="#53ffe9"/><stop offset=".451" stop-color="#78ffe2"/><stop offset=".501" stop-color="#a1ffd6"/><stop offset=".59" stop-color="#d3ffbd"/><stop offset=".699" stop-color="#fffe98"/><stop offset=".812" stop-color="#ffdd52"/><stop offset=".856" stop-color="#ffd32c"/><stop offset=".872" stop-color="#ffd013"/><stop offset=".878" stop-color="#ffcf00"/><stop offset="1" stop-color="#ffbb00"/></linearGradient><linearGradient id="r169" gradientUnits="userSpaceOnUse" x1="701" x2="1520"><stop offset="0" stop-color="#00d0ff"/><stop offset=".241" stop-color="#00efff"/><stop offset=".337" stop-color="#00fffd"/><stop offset=".389" stop-color="#02fff2"/><stop offset=".392" stop-color="#18fff1"/><stop offset=".399" stop-color="#33ffef"/><stop offset=".414" stop-color="#51ffec"/><stop offset=".442" stop-color="#75ffe6"/><stop offset=".502" stop-color="#a6ffd7"/><stop offset=".595" stop-color="#d9ffbe"/><stop offset=".69" stop-color="#fffd9d"/><stop offset=".813" stop-color="#ffda52"/><stop offset=".858" stop-color="#ffd02b"/><stop offset=".874" stop-color="#ffcd11"/><stop offset=".879" stop-color="#ffcc00"/><stop offset="1" stop-color="#ffb900"/></linearGradient><linearGradient id="r170" gradientUnits="userSpaceOnUse" x1="702" x2="1524"><stop offset="0" stop-color="#00ceff"/><stop offset=".247" stop-color="#00eeff"/><stop offset=".348" stop-color="#00fffd"/><stop offset=".384" stop-color="#02fff5"/><stop offset=".387" stop-color="#18fff4"/><stop offset=".393" stop-color="#30fff3"/><stop offset=".406" stop-color="#4efff0"/><stop offset=".433" stop-color="#72ffea"/><stop offset=".49" stop-color="#a3ffdc"/><stop offset=".575" stop-color="#d4ffc5"/><stop offset=".68" stop-color="#fffda2"/><stop offset=".796" stop-color="#ffdb5d"/><stop offset=".845" stop-color="#ffd039"/><stop offset=".871" stop-color="#ffcb1a"/><stop offset=".878" stop-color="#ffca07"/><stop offset=".881" stop-color="#ffc900"/><stop offset="1" stop-color="#ffb700"/></linearGradient><linearGradient id="r171" gradientUnits="userSpaceOnUse" x1="703" x2="1528"><stop offset="0" stop-color="#00ccff"/><stop offset=".253" stop-color="#00edff"/><stop offset=".359" stop-color="#00fffd"/><stop offset=".379" stop-color="#02fff8"/><stop offset=".382" stop-color="#18fff8"/><stop offset=".388" stop-color="#31fff6"/><stop offset=".402" stop-color="#50fff3"/><stop offset=".428" stop-color="#73ffed"/><stop offset=".485" stop-color="#a4ffe0"/><stop offset=".567" stop-color="#d4ffca"/><stop offset=".668" stop-color="#fffea9"/><stop offset=".779" stop-color="#ffdc67"/><stop offset=".845" stop-color="#ffce3a"/><stop offset=".869" stop-color="#ffc91e"/><stop offset=".878" stop-color="#ffc70d"/><stop offset=".881" stop-color="#ffc700"/><stop offset="1" stop-color="#ffb500"/></linearGradient><linearGradient id="r172" gradientUnits="userSpaceOnUse" x1="705" x2="1532"><stop offset="0" stop-color="#00cbff"/><stop offset=".235" stop-color="#00e8ff"/><stop offset=".369" stop-color="#00fffd"/><stop offset=".374" stop-color="#01fffc"/><stop offset=".376" stop-color="#18fffb"/><stop offset=".382" stop-color="#31fffa"/><stop offset=".397" stop-color="#51fff6"/><stop offset=".424" stop-color="#76fff0"/><stop offset=".48" stop-color="#a6ffe3"/><stop offset=".566" stop-color="#d8ffcc"/><stop offset=".66" stop-color="#fffdac"/><stop offset=".763" stop-color="#ffdd71"/><stop offset=".842" stop-color="#ffcc3d"/><stop offset=".869" stop-color="#ffc61f"/><stop offset=".879" stop-color="#ffc50a"/><stop offset=".883" stop-color="#ffc400"/><stop offset="1" stop-color="#ffb300"/></linearGradient><linearGradient id="r173" gradientUnits="userSpaceOnUse" x1="706" x2="1536"><stop offset="0" stop-color="#00c9ff"/><stop offset=".241" stop-color="#00e7ff"/><stop offset=".369" stop-color="#01ffff"/><stop offset=".371" stop-color="#18fffe"/><stop offset=".378" stop-color="#35fffd"/><stop offset=".394" stop-color="#56fff9"/><stop offset=".425" stop-color="#7dfff2"/><stop offset=".482" stop-color="#acffe4"/><stop offset=".57" stop-color="#deffcd"/><stop offset=".649" stop-color="#fffdb2"/><stop offset=".758" stop-color="#ffdb73"/><stop offset=".834" stop-color="#ffca43"/><stop offset=".865" stop-color="#ffc526"/><stop offset=".877" stop-color="#ffc212"/><stop offset=".883" stop-color="#ffc100"/><stop offset="1" stop-color="#ffb100"/></linearGradient><linearGradient id="r174" gradientUnits="userSpaceOnUse" x1="707" x2="1540"><stop offset="0" stop-color="#00c7ff"/><stop offset=".255" stop-color="#00e7ff"/><stop offset=".364" stop-color="#00fcff"/><stop offset=".366" stop-color="#17fcff"/><stop offset=".371" stop-color="#2dfdff"/><stop offset=".384" stop-color="#4efffe"/><stop offset=".412" stop-color="#75fff8"/><stop offset=".462" stop-color="#a3ffec"/><stop offset=".545" stop-color="#d6ffd6"/><stop offset=".637" stop-color="#fffeb9"/><stop offset=".735" stop-color="#ffde80"/><stop offset=".832" stop-color="#ffc845"/><stop offset=".867" stop-color="#ffc225"/><stop offset=".88" stop-color="#ffc00d"/><stop offset=".885" stop-color="#ffbf00"/><stop offset="1" stop-color="#ffae00"/></linearGradient><linearGradient id="r175" gradientUnits="userSpaceOnUse" x1="708" x2="1544"><stop offset="0" stop-color="#00c5ff"/><stop offset=".255" stop-color="#00e5ff"/><stop offset=".359" stop-color="#00f8ff"/><stop offset=".361" stop-color="#17f9ff"/><stop offset=".367" stop-color="#31faff"/><stop offset=".382" stop-color="#52fdff"/><stop offset=".407" stop-color="#76fffb"/><stop offset=".457" stop-color="#a4ffef"/><stop offset=".537" stop-color="#d6ffda"/><stop offset=".628" stop-color="#fffebd"/><stop offset=".719" stop-color="#ffdf88"/><stop offset=".827" stop-color="#ffc649"/><stop offset=".862" stop-color="#ffc02b"/><stop offset=".879" stop-color="#ffbd12"/><stop offset=".885" stop-color="#ffbc00"/><stop offset="1" stop-color="#ffac00"/></linearGradient><linearGradient id="r176" gradientUnits="userSpaceOnUse" x1="710" x2="1548"><stop offset="0" stop-color="#00c4ff"/><stop offset=".235" stop-color="#00e0ff"/><stop offset=".353" stop-color="#00f5ff"/><stop offset=".356" stop-color="#16f6ff"/><stop offset=".36" stop-color="#2cf7ff"/><stop offset=".374" stop-color="#4df9ff"/><stop offset=".401" stop-color="#77ffff"/><stop offset=".453" stop-color="#a7fff2"/><stop offset=".533" stop-color="#d9ffdd"/><stop offset=".618" stop-color="#fffdc2"/><stop offset=".722" stop-color="#ffdb86"/><stop offset=".828" stop-color="#ffc448"/><stop offset=".864" stop-color="#ffbd2a"/><stop offset=".879" stop-color="#ffbb13"/><stop offset=".887" stop-color="#ffba00"/><stop offset="1" stop-color="#ffaa00"/></linearGradient><linearGradient id="r177" gradientUnits="userSpaceOnUse" x1="711" x2="1551"><stop offset="0" stop-color="#00c2ff"/><stop offset=".243" stop-color="#00dfff"/><stop offset=".349" stop-color="#00f2ff"/><stop offset=".351" stop-color="#16f2ff"/><stop offset=".357" stop-color="#30f4ff"/><stop offset=".371" stop-color="#51f6ff"/><stop offset=".404" stop-color="#7ffeff"/><stop offset=".456" stop-color="#adfff4"/><stop offset=".533" stop-color="#ddffe0"/><stop offset=".61" stop-color="#fffdc7"/><stop offset=".707" stop-color="#ffdc8e"/><stop offset=".825" stop-color="#ffc24b"/><stop offset=".865" stop-color="#ffbb2a"/><stop offset=".882" stop-color="#ffb811"/><stop offset=".888" stop-color="#ffb700"/><stop offset="1" stop-color="#ffa800"/></linearGradient><linearGradient id="r178" gradientUnits="userSpaceOnUse" x1="712" x2="1555"><stop offset="0" stop-color="#00c0ff"/><stop offset=".256" stop-color="#00dfff"/><stop offset=".344" stop-color="#00efff"/><stop offset=".346" stop-color="#15efff"/><stop offset=".351" stop-color="#2bf0ff"/><stop offset=".363" stop-color="#49f2ff"/><stop offset=".387" stop-color="#6ff7ff"/><stop offset=".429" stop-color="#9efffd"/><stop offset=".502" stop-color="#d0ffea"/><stop offset=".597" stop-color="#fffece"/><stop offset=".699" stop-color="#ffdb92"/><stop offset=".827" stop-color="#ffbf4a"/><stop offset=".867" stop-color="#ffb829"/><stop offset=".883" stop-color="#ffb612"/><stop offset=".89" stop-color="#ffb500"/><stop offset="1" stop-color="#ffa600"/></linearGradient><linearGradient id="r179" gradientUnits="userSpaceOnUse" x1="714" x2="1559"><stop offset="0" stop-color="#00beff"/><stop offset=".263" stop-color="#00deff"/><stop offset=".338" stop-color="#00ebff"/><stop offset=".342" stop-color="#1cecff"/><stop offset=".349" stop-color="#35edff"/><stop offset=".364" stop-color="#56f0ff"/><stop offset=".4" stop-color="#85f8ff"/><stop offset=".441" stop-color="#adfffc"/><stop offset=".52" stop-color="#dfffe8"/><stop offset=".588" stop-color="#fffed2"/><stop offset=".676" stop-color="#ffde9e"/><stop offset=".817" stop-color="#ffbe51"/><stop offset=".865" stop-color="#ffb62c"/><stop offset=".883" stop-color="#ffb313"/><stop offset=".89" stop-color="#ffb200"/><stop offset="1" stop-color="#ffa400"/></linearGradient><linearGradient id="r180" gradientUnits="userSpaceOnUse" x1="715" x2="1563"><stop offset="0" stop-color="#00bcff"/><stop offset=".264" stop-color="#00dcff"/><stop offset=".334" stop-color="#00e8ff"/><stop offset=".336" stop-color="#15e9ff"/><stop offset=".343" stop-color="#32eaff"/><stop offset=".36" stop-color="#55edff"/><stop offset=".392" stop-color="#80f4ff"/><stop offset=".446" stop-color="#b5fffe"/><stop offset=".522" stop-color="#e5ffe9"/><stop offset=".579" stop-color="#fffdd7"/><stop offset=".675" stop-color="#ffdb9e"/><stop offset=".815" stop-color="#ffbc52"/><stop offset=".863" stop-color="#ffb42e"/><stop offset=".882" stop-color="#ffb116"/><stop offset=".892" stop-color="#ffb000"/><stop offset="1" stop-color="#ffa200"/></linearGradient><linearGradient id="r181" gradientUnits="userSpaceOnUse" x1="717" x2="1567"><stop offset="0" stop-color="#00bbff"/><stop offset=".251" stop-color="#00d8ff"/><stop offset=".328" stop-color="#00e5ff"/><stop offset=".332" stop-color="#1be6ff"/><stop offset=".339" stop-color="#35e7ff"/><stop offset=".358" stop-color="#5aebff"/><stop offset=".394" stop-color="#88f2ff"/><stop offset=".454" stop-color="#c1fffe"/><stop offset=".542" stop-color="#f4ffe6"/><stop offset=".571" stop-color="#fffcdb"/><stop offset=".669" stop-color="#ffd99f"/><stop offset=".812" stop-color="#ffba54"/><stop offset=".862" stop-color="#ffb230"/><stop offset=".884" stop-color="#ffaf15"/><stop offset=".892" stop-color="#ffad00"/><stop offset="1" stop-color="#ffa000"/></linearGradient><linearGradient id="r182" gradientUnits="userSpaceOnUse" x1="718" x2="1571"><stop offset="0" stop-color="#00b9ff"/><stop offset=".258" stop-color="#00d7ff"/><stop offset=".324" stop-color="#00e2ff"/><stop offset=".327" stop-color="#1be3ff"/><stop offset=".335" stop-color="#37e4ff"/><stop offset=".354" stop-color="#5be8ff"/><stop offset=".389" stop-color="#87efff"/><stop offset=".463" stop-color="#ccfffe"/><stop offset=".557" stop-color="#fffee3"/><stop offset=".652" stop-color="#ffdba8"/><stop offset=".781" stop-color="#ffbd65"/><stop offset=".848" stop-color="#ffb23c"/><stop offset=".877" stop-color="#ffad21"/><stop offset=".889" stop-color="#ffac0b"/><stop offset=".892" stop-color="#ffab00"/><stop offset="1" stop-color="#ff9e00"/></linearGradient><linearGradient id="r183" gradientUnits="userSpaceOnUse" x1="719" x2="1575"><stop offset="0" stop-color="#00b7ff"/><stop offset=".259" stop-color="#00d5ff"/><stop offset=".319" stop-color="#00dfff"/><stop offset=".322" stop-color="#1ae0ff"/><stop offset=".329" stop-color="#34e1ff"/><stop offset=".348" stop-color="#59e4ff"/><stop offset=".384" stop-color="#86ebff"/><stop offset=".465" stop-color="#d1feff"/><stop offset=".547" stop-color="#ffffe9"/><stop offset=".63" stop-color="#ffdeb4"/><stop offset=".756" stop-color="#ffbf72"/><stop offset=".84" stop-color="#ffb042"/><stop offset=".875" stop-color="#ffab24"/><stop offset=".889" stop-color="#ffa90d"/><stop offset=".894" stop-color="#ffa900"/><stop offset="1" stop-color="#ff9c00"/></linearGradient><linearGradient id="r184" gradientUnits="userSpaceOnUse" x1="721" x2="1579"><stop offset="0" stop-color="#00b5ff"/><stop offset=".267" stop-color="#00d4ff"/><stop offset=".314" stop-color="#00dcff"/><stop offset=".317" stop-color="#1adcff"/><stop offset=".325" stop-color="#36deff"/><stop offset=".344" stop-color="#5ae1ff"/><stop offset=".382" stop-color="#89e9ff"/><stop offset=".476" stop-color="#ddfeff"/><stop offset=".538" stop-color="#fffeed"/><stop offset=".621" stop-color="#ffddb7"/><stop offset=".751" stop-color="#ffbd74"/><stop offset=".839" stop-color="#ffae43"/><stop offset=".876" stop-color="#ffa923"/><stop offset=".89" stop-color="#ffa70b"/><stop offset=".894" stop-color="#ffa600"/><stop offset="1" stop-color="#ff9a00"/></linearGradient><linearGradient id="r185" gradientUnits="userSpaceOnUse" x1="722" x2="1582"><stop offset="0" stop-color="#00b3ff"/><stop offset=".274" stop-color="#00d3ff"/><stop offset=".309" stop-color="#00d9ff"/><stop offset=".314" stop-color="#1fdaff"/><stop offset=".323" stop-color="#3bdbff"/><stop offset=".342" stop-color="#5ddeff"/><stop offset=".385" stop-color="#8fe7ff"/><stop offset=".487" stop-color="#e9feff"/><stop offset=".531" stop-color="#fffdf1"/><stop offset=".612" stop-color="#ffddbc"/><stop offset=".733" stop-color="#ffbe7e"/><stop offset=".838" stop-color="#ffac44"/><stop offset=".876" stop-color="#ffa726"/><stop offset=".891" stop-color="#ffa50f"/><stop offset=".897" stop-color="#ffa400"/><stop offset="1" stop-color="#ff9800"/></linearGradient><linearGradient id="r186" gradientUnits="userSpaceOnUse" x1="724" x2="1586"><stop offset="0" stop-color="#00b2ff"/><stop offset=".255" stop-color="#00ceff"/><stop offset=".304" stop-color="#00d6ff"/><stop offset=".309" stop-color="#1fd7ff"/><stop offset=".318" stop-color="#3bd8ff"/><stop offset=".34" stop-color="#61dcff"/><stop offset=".382" stop-color="#90e4ff"/><stop offset=".5" stop-color="#f6ffff"/><stop offset=".523" stop-color="#fffcf5"/><stop offset=".606" stop-color="#ffdbbe"/><stop offset=".729" stop-color="#ffbc7f"/><stop offset=".834" stop-color="#ffaa47"/><stop offset=".874" stop-color="#ffa529"/><stop offset=".891" stop-color="#ffa210"/><stop offset=".897" stop-color="#ffa200"/><stop offset="1" stop-color="#ff9600"/></linearGradient><linearGradient id="r187" gradientUnits="userSpaceOnUse" x1="725" x2="1590"><stop offset="0" stop-color="#00b0ff"/><stop offset=".264" stop-color="#00cdff"/><stop offset=".299" stop-color="#00d3ff"/><stop offset=".304" stop-color="#1ed4ff"/><stop offset=".312" stop-color="#38d5ff"/><stop offset=".331" stop-color="#5ad8ff"/><stop offset=".369" stop-color="#87dfff"/><stop offset=".461" stop-color="#d9f2ff"/><stop offset=".511" stop-color="#fffefd"/><stop offset=".58" stop-color="#ffe0cc"/><stop offset=".687" stop-color="#ffc293"/><stop offset=".83" stop-color="#ffa84a"/><stop offset=".875" stop-color="#ffa228"/><stop offset=".891" stop-color="#ffa011"/><stop offset=".898" stop-color="#ff9f00"/><stop offset="1" stop-color="#ff9400"/></linearGradient><linearGradient id="r188" gradientUnits="userSpaceOnUse" x1="727" x2="1594"><stop offset="0" stop-color="#00aeff"/><stop offset=".271" stop-color="#00ccff"/><stop offset=".294" stop-color="#00d0ff"/><stop offset=".299" stop-color="#1ed1ff"/><stop offset=".308" stop-color="#3ad2ff"/><stop offset=".33" stop-color="#60d6ff"/><stop offset=".377" stop-color="#94deff"/><stop offset=".495" stop-color="#f7f9ff"/><stop offset=".509" stop-color="#fffafc"/><stop offset=".585" stop-color="#ffdac8"/><stop offset=".71" stop-color="#ffba87"/><stop offset=".835" stop-color="#ffa547"/><stop offset=".877" stop-color="#ffa027"/><stop offset=".893" stop-color="#ff9e10"/><stop offset=".899" stop-color="#ff9d00"/><stop offset="1" stop-color="#ff9200"/></linearGradient><linearGradient id="r189" gradientUnits="userSpaceOnUse" x1="728" x2="1598"><stop offset="0" stop-color="#00acff"/><stop offset=".272" stop-color="#00caff"/><stop offset=".29" stop-color="#00cdff"/><stop offset=".294" stop-color="#1dceff"/><stop offset=".302" stop-color="#37cfff"/><stop offset=".32" stop-color="#57d2ff"/><stop offset=".356" stop-color="#83d8ff"/><stop offset=".431" stop-color="#c6e6ff"/><stop offset=".505" stop-color="#fff7fd"/><stop offset=".583" stop-color="#ffd7c8"/><stop offset=".707" stop-color="#ffb888"/><stop offset=".83" stop-color="#ffa44a"/><stop offset=".872" stop-color="#ff9e2b"/><stop offset=".891" stop-color="#ff9c15"/><stop offset=".9" stop-color="#ff9b00"/><stop offset="1" stop-color="#ff9000"/></linearGradient><linearGradient id="r190" gradientUnits="userSpaceOnUse" x1="730" x2="1602"><stop offset="0" stop-color="#00aaff"/><stop offset=".273" stop-color="#00c8ff"/><stop offset=".284" stop-color="#00caff"/><stop offset=".289" stop-color="#1dcbff"/><stop offset=".298" stop-color="#39ccff"/><stop offset=".319" stop-color="#5dcfff"/><stop offset=".359" stop-color="#8ad6ff"/><stop offset=".447" stop-color="#d6e8ff"/><stop offset=".502" stop-color="#fff3fd"/><stop offset=".577" stop-color="#ffd5ca"/><stop offset=".706" stop-color="#ffb588"/><stop offset=".834" stop-color="#ffa148"/><stop offset=".877" stop-color="#ff9b27"/><stop offset=".892" stop-color="#ff9a14"/><stop offset=".9" stop-color="#ff9900"/><stop offset="1" stop-color="#ff8e00"/></linearGradient><linearGradient id="r191" gradientUnits="userSpaceOnUse" x1="731" x2="1606"><stop offset="0" stop-color="#00a8ff"/><stop offset=".28" stop-color="#00c7ff"/><stop offset=".281" stop-color="#05c7ff"/><stop offset=".283" stop-color="#17c8ff"/><stop offset=".29" stop-color="#30c9ff"/><stop offset=".305" stop-color="#4ecbff"/><stop offset=".337" stop-color="#78d0ff"/><stop offset=".415" stop-color="#bedeff"/><stop offset=".499" stop-color="#fff0fd"/><stop offset=".578" stop-color="#ffd1c8"/><stop offset=".709" stop-color="#ffb287"/><stop offset=".835" stop-color="#ff9e47"/><stop offset=".877" stop-color="#ff9929"/><stop offset=".894" stop-color="#ff9712"/><stop offset=".902" stop-color="#ff9600"/><stop offset="1" stop-color="#ff8d00"/></linearGradient><linearGradient id="r192" gradientUnits="userSpaceOnUse" x1="733" x2="1610"><stop offset="0" stop-color="#00a7ff"/><stop offset=".262" stop-color="#00c2ff"/><stop offset=".275" stop-color="#00c4ff"/><stop offset=".277" stop-color="#0fc4ff"/><stop offset=".282" stop-color="#25c5ff"/><stop offset=".293" stop-color="#42c7ff"/><stop offset=".319" stop-color="#69cbff"/><stop offset=".369" stop-color="#9bd3ff"/><stop offset=".495" stop-color="#ffedfe"/><stop offset=".575" stop-color="#ffcfc9"/><stop offset=".689" stop-color="#ffb38f"/><stop offset=".829" stop-color="#ff9d4b"/><stop offset=".877" stop-color="#ff9729"/><stop offset=".895" stop-color="#ff9511"/><stop offset=".902" stop-color="#ff9400"/><stop offset="1" stop-color="#ff8b00"/></linearGradient><linearGradient id="r193" gradientUnits="userSpaceOnUse" x1="734" x2="1614"><stop offset="0" stop-color="#00a5ff"/><stop offset=".264" stop-color="#00c0ff"/><stop offset=".27" stop-color="#00c1ff"/><stop offset=".276" stop-color="#21c2ff"/><stop offset=".287" stop-color="#3fc4ff"/><stop offset=".311" stop-color="#64c7ff"/><stop offset=".357" stop-color="#93ceff"/><stop offset=".464" stop-color="#eae3ff"/><stop offset=".494" stop-color="#ffe9fd"/><stop offset=".569" stop-color="#ffcdcb"/><stop offset=".689" stop-color="#ffb08f"/><stop offset=".831" stop-color="#ff9a4a"/><stop offset=".876" stop-color="#ff952a"/><stop offset=".894" stop-color="#ff9314"/><stop offset=".903" stop-color="#ff9200"/><stop offset="1" stop-color="#ff8900"/></linearGradient><linearGradient id="r194" gradientUnits="userSpaceOnUse" x1="736" x2="1617"><stop offset="0" stop-color="#00a3ff"/><stop offset=".266" stop-color="#00beff"/><stop offset=".267" stop-color="#04bfff"/><stop offset=".269" stop-color="#16bfff"/><stop offset=".277" stop-color="#32c0ff"/><stop offset=".296" stop-color="#56c3ff"/><stop offset=".339" stop-color="#87c9ff"/><stop offset=".435" stop-color="#d6daff"/><stop offset=".491" stop-color="#ffe5fd"/><stop offset=".568" stop-color="#ffcacb"/><stop offset=".686" stop-color="#ffae90"/><stop offset=".832" stop-color="#ff984a"/><stop offset=".877" stop-color="#ff932a"/><stop offset=".897" stop-color="#ff9013"/><stop offset=".905" stop-color="#ff9000"/><stop offset="1" stop-color="#ff8700"/></linearGradient><linearGradient id="r195" gradientUnits="userSpaceOnUse" x1="738" x2="1621"><stop offset="0" stop-color="#00a1ff"/><stop offset=".26" stop-color="#00bcff"/><stop offset=".262" stop-color="#04bcff"/><stop offset=".264" stop-color="#16bcff"/><stop offset=".271" stop-color="#2ebdff"/><stop offset=".284" stop-color="#4abfff"/><stop offset=".314" stop-color="#71c3ff"/><stop offset=".377" stop-color="#accdff"/><stop offset=".488" stop-color="#ffe2fd"/><stop offset=".572" stop-color="#ffc5c7"/><stop offset=".703" stop-color="#ffa888"/><stop offset=".837" stop-color="#ff9547"/><stop offset=".879" stop-color="#ff9029"/><stop offset=".897" stop-color="#ff8e13"/><stop offset=".906" stop-color="#ff8d00"/><stop offset="1" stop-color="#ff8500"/></linearGradient><linearGradient id="r196" gradientUnits="userSpaceOnUse" x1="739" x2="1625"><stop offset="0" stop-color="#009fff"/><stop offset=".256" stop-color="#00b9ff"/><stop offset=".257" stop-color="#03b9ff"/><stop offset=".26" stop-color="#15b9ff"/><stop offset=".265" stop-color="#2bbaff"/><stop offset=".281" stop-color="#4cbcff"/><stop offset=".313" stop-color="#74c0ff"/><stop offset=".371" stop-color="#aac9ff"/><stop offset=".485" stop-color="#ffdffd"/><stop offset=".569" stop-color="#ffc2c8"/><stop offset=".705" stop-color="#ffa586"/><stop offset=".834" stop-color="#ff9349"/><stop offset=".881" stop-color="#ff8e28"/><stop offset=".901" stop-color="#ff8c0e"/><stop offset=".906" stop-color="#ff8b00"/><stop offset="1" stop-color="#ff8300"/></linearGradient><linearGradient id="r197" gradientUnits="userSpaceOnUse" x1="741" x2="1629"><stop offset="0" stop-color="#009dff"/><stop offset=".251" stop-color="#00b6ff"/><stop offset=".252" stop-color="#03b6ff"/><stop offset=".255" stop-color="#15b6ff"/><stop offset=".262" stop-color="#31b7ff"/><stop offset=".279" stop-color="#51b9ff"/><stop offset=".313" stop-color="#79beff"/><stop offset=".376" stop-color="#b1c8ff"/><stop offset=".483" stop-color="#ffdbfd"/><stop offset=".564" stop-color="#ffc0c9"/><stop offset=".695" stop-color="#ffa48a"/><stop offset=".832" stop-color="#ff914a"/><stop offset=".881" stop-color="#ff8c29"/><stop offset=".9" stop-color="#ff8a11"/><stop offset=".908" stop-color="#ff8900"/><stop offset="1" stop-color="#ff8100"/></linearGradient><linearGradient id="r198" gradientUnits="userSpaceOnUse" x1="743" x2="1633"><stop offset="0" stop-color="#009bff"/><stop offset=".246" stop-color="#00b3ff"/><stop offset=".247" stop-color="#03b3ff"/><stop offset=".251" stop-color="#1ab3ff"/><stop offset=".26" stop-color="#36b5ff"/><stop offset=".281" stop-color="#5ab7ff"/><stop offset=".327" stop-color="#8bbeff"/><stop offset=".428" stop-color="#dbcfff"/><stop offset=".48" stop-color="#ffd8fd"/><stop offset=".561" stop-color="#ffbdca"/><stop offset=".697" stop-color="#ffa189"/><stop offset=".833" stop-color="#ff8f4a"/><stop offset=".881" stop-color="#ff8929"/><stop offset=".901" stop-color="#ff8710"/><stop offset=".908" stop-color="#ff8700"/><stop offset="1" stop-color="#ff7f00"/></linearGradient><linearGradient id="r199" gradientUnits="userSpaceOnUse" x1="744" x2="1637"><stop offset="0" stop-color="#0099ff"/><stop offset=".243" stop-color="#02b0ff"/><stop offset=".245" stop-color="#14b1ff"/><stop offset=".251" stop-color="#2ab1ff"/><stop offset=".265" stop-color="#49b3ff"/><stop offset=".298" stop-color="#72b7ff"/><stop offset=".364" stop-color="#adc1ff"/><stop offset=".477" stop-color="#ffd5fd"/><stop offset=".564" stop-color="#ffb9c7"/><stop offset=".698" stop-color="#ff9e88"/><stop offset=".834" stop-color="#ff8c49"/><stop offset=".88" stop-color="#ff872a"/><stop offset=".9" stop-color="#ff8513"/><stop offset=".909" stop-color="#ff8500"/><stop offset="1" stop-color="#ff7d00"/></linearGradient><linearGradient id="r200" gradientUnits="userSpaceOnUse" x1="746" x2="1641"><stop offset="0" stop-color="#0097ff"/><stop offset=".238" stop-color="#02adff"/><stop offset=".24" stop-color="#14aeff"/><stop offset=".248" stop-color="#30afff"/><stop offset=".269" stop-color="#56b1ff"/><stop offset=".312" stop-color="#84b7ff"/><stop offset=".394" stop-color="#c7c3ff"/><stop offset=".475" stop-color="#ffd1fd"/><stop offset=".556" stop-color="#ffb7ca"/><stop offset=".706" stop-color="#ff9a84"/><stop offset=".835" stop-color="#ff8a49"/><stop offset=".88" stop-color="#ff852a"/><stop offset=".901" stop-color="#ff8313"/><stop offset=".909" stop-color="#ff8200"/><stop offset="1" stop-color="#ff7b00"/></linearGradient><linearGradient id="r201" gradientUnits="userSpaceOnUse" x1="748" x2="1645"><stop offset="0" stop-color="#0095ff"/><stop offset=".233" stop-color="#02abff"/><stop offset=".236" stop-color="#19abff"/><stop offset=".245" stop-color="#35acff"/><stop offset=".266" stop-color="#58aeff"/><stop offset=".307" stop-color="#83b4ff"/><stop offset=".388" stop-color="#c5c0ff"/><stop offset=".472" stop-color="#ffcefd"/><stop offset=".554" stop-color="#ffb4ca"/><stop offset=".702" stop-color="#ff9885"/><stop offset=".833" stop-color="#ff884a"/><stop offset=".884" stop-color="#ff8328"/><stop offset=".902" stop-color="#ff8112"/><stop offset=".911" stop-color="#ff8000"/><stop offset="1" stop-color="#ff7900"/></linearGradient><linearGradient id="r202" gradientUnits="userSpaceOnUse" x1="749" x2="1648"><stop offset="0" stop-color="#0093ff"/><stop offset=".229" stop-color="#01a8ff"/><stop offset=".232" stop-color="#19a8ff"/><stop offset=".241" stop-color="#34a9ff"/><stop offset=".261" stop-color="#56abff"/><stop offset=".304" stop-color="#84b1ff"/><stop offset=".399" stop-color="#cfbfff"/><stop offset=".469" stop-color="#ffcafd"/><stop offset=".561" stop-color="#ffafc6"/><stop offset=".72" stop-color="#ff937e"/><stop offset=".838" stop-color="#ff8548"/><stop offset=".887" stop-color="#ff8027"/><stop offset=".904" stop-color="#ff7f11"/><stop offset=".912" stop-color="#ff7e00"/><stop offset="1" stop-color="#ff7700"/></linearGradient><linearGradient id="r203" gradientUnits="userSpaceOnUse" x1="751" x2="1652"><stop offset="0" stop-color="#0091ff"/><stop offset=".224" stop-color="#01a5ff"/><stop offset=".226" stop-color="#13a5ff"/><stop offset=".233" stop-color="#2ca6ff"/><stop offset=".251" stop-color="#4ea8ff"/><stop offset=".286" stop-color="#77acff"/><stop offset=".351" stop-color="#aeb5ff"/><stop offset=".466" stop-color="#ffc7fe"/><stop offset=".542" stop-color="#ffb0cf"/><stop offset=".686" stop-color="#ff958c"/><stop offset=".841" stop-color="#ff8246"/><stop offset=".887" stop-color="#ff7e27"/><stop offset=".906" stop-color="#ff7c10"/><stop offset=".912" stop-color="#ff7c00"/><stop offset="1" stop-color="#ff7500"/></linearGradient><linearGradient id="r204" gradientUnits="userSpaceOnUse" x1="753" x2="1656"><stop offset="0" stop-color="#008fff"/><stop offset=".219" stop-color="#01a2ff"/><stop offset=".223" stop-color="#18a2ff"/><stop offset=".23" stop-color="#31a3ff"/><stop offset=".25" stop-color="#54a5ff"/><stop offset=".292" stop-color="#81aaff"/><stop offset=".375" stop-color="#c3b6ff"/><stop offset=".464" stop-color="#ffc3fd"/><stop offset=".55" stop-color="#ffabc9"/><stop offset=".695" stop-color="#ff9188"/><stop offset=".847" stop-color="#ff7f43"/><stop offset=".89" stop-color="#ff7c24"/><stop offset=".906" stop-color="#ff7a10"/><stop offset=".914" stop-color="#ff7a00"/><stop offset="1" stop-color="#ff7300"/></linearGradient><linearGradient id="r205" gradientUnits="userSpaceOnUse" x1="755" x2="1660"><stop offset="0" stop-color="#008dff"/><stop offset=".214" stop-color="#009fff"/><stop offset=".218" stop-color="#189fff"/><stop offset=".227" stop-color="#33a0ff"/><stop offset=".246" stop-color="#55a3ff"/><stop offset=".287" stop-color="#80a7ff"/><stop offset=".364" stop-color="#bdb1ff"/><stop offset=".461" stop-color="#ffc0fd"/><stop offset=".55" stop-color="#ffa7c8"/><stop offset=".713" stop-color="#ff8c80"/><stop offset=".845" stop-color="#ff7d44"/><stop offset=".891" stop-color="#ff7925"/><stop offset=".908" stop-color="#ff780d"/><stop offset=".915" stop-color="#ff7700"/><stop offset="1" stop-color="#ff7100"/></linearGradient><linearGradient id="r206" gradientUnits="userSpaceOnUse" x1="756" x2="1664"><stop offset="0" stop-color="#008bff"/><stop offset=".21" stop-color="#009cff"/><stop offset=".213" stop-color="#129cff"/><stop offset=".219" stop-color="#2b9dff"/><stop offset=".236" stop-color="#4b9fff"/><stop offset=".271" stop-color="#74a3ff"/><stop offset=".336" stop-color="#ababff"/><stop offset=".458" stop-color="#ffbdfd"/><stop offset=".551" stop-color="#ffa4c7"/><stop offset=".7" stop-color="#ff8b85"/><stop offset=".846" stop-color="#ff7b44"/><stop offset=".893" stop-color="#ff7723"/><stop offset=".909" stop-color="#ff760e"/><stop offset=".915" stop-color="#ff7500"/><stop offset="1" stop-color="#ff6f00"/></linearGradient><linearGradient id="r207" gradientUnits="userSpaceOnUse" x1="758" x2="1668"><stop offset="0" stop-color="#0088ff"/><stop offset=".205" stop-color="#0099ff"/><stop offset=".209" stop-color="#179aff"/><stop offset=".216" stop-color="#309aff"/><stop offset=".237" stop-color="#549dff"/><stop offset=".281" stop-color="#82a1ff"/><stop offset=".367" stop-color="#c4acff"/><stop offset=".456" stop-color="#ffb9fd"/><stop offset=".541" stop-color="#ffa2cb"/><stop offset=".699" stop-color="#ff8885"/><stop offset=".838" stop-color="#ff7948"/><stop offset=".888" stop-color="#ff7528"/><stop offset=".908" stop-color="#ff7411"/><stop offset=".916" stop-color="#ff7300"/><stop offset="1" stop-color="#ff6d00"/></linearGradient><linearGradient id="r208" gradientUnits="userSpaceOnUse" x1="760" x2="1672"><stop offset="0" stop-color="#0086ff"/><stop offset=".201" stop-color="#0096ff"/><stop offset=".204" stop-color="#1797ff"/><stop offset=".213" stop-color="#3298ff"/><stop offset=".234" stop-color="#559aff"/><stop offset=".275" stop-color="#809eff"/><stop offset=".352" stop-color="#bca8ff"/><stop offset=".453" stop-color="#ffb6fd"/><stop offset=".541" stop-color="#ff9fca"/><stop offset=".693" stop-color="#ff8687"/><stop offset=".837" stop-color="#ff7749"/><stop offset=".887" stop-color="#ff7329"/><stop offset=".908" stop-color="#ff7112"/><stop offset=".917" stop-color="#ff7100"/><stop offset="1" stop-color="#ff6b00"/></linearGradient><linearGradient id="r209" gradientUnits="userSpaceOnUse" x1="762" x2="1676"><stop offset="0" stop-color="#0084ff"/><stop offset=".196" stop-color="#0094ff"/><stop offset=".199" stop-color="#1694ff"/><stop offset=".208" stop-color="#3295ff"/><stop offset=".23" stop-color="#5697ff"/><stop offset=".275" stop-color="#849cff"/><stop offset=".373" stop-color="#cda8ff"/><stop offset=".45" stop-color="#ffb2fd"/><stop offset=".544" stop-color="#ff9bc7"/><stop offset=".708" stop-color="#ff8281"/><stop offset=".842" stop-color="#ff7446"/><stop offset=".893" stop-color="#ff7025"/><stop offset=".91" stop-color="#ff6f0e"/><stop offset=".917" stop-color="#ff6f00"/><stop offset="1" stop-color="#ff6900"/></linearGradient><linearGradient id="r210" gradientUnits="userSpaceOnUse" x1="764" x2="1679"><stop offset="0" stop-color="#0082ff"/><stop offset=".191" stop-color="#0091ff"/><stop offset=".196" stop-color="#1b91ff"/><stop offset=".205" stop-color="#3692ff"/><stop offset=".225" stop-color="#5594ff"/><stop offset=".269" stop-color="#8298ff"/><stop offset=".364" stop-color="#c9a4ff"/><stop offset=".448" stop-color="#ffaffd"/><stop offset=".537" stop-color="#ff99ca"/><stop offset=".702" stop-color="#ff8083"/><stop offset=".842" stop-color="#ff7247"/><stop offset=".892" stop-color="#ff6e27"/><stop offset=".91" stop-color="#ff6d11"/><stop offset=".919" stop-color="#ff6c00"/><stop offset="1" stop-color="#ff6700"/></linearGradient><linearGradient id="r211" gradientUnits="userSpaceOnUse" x1="765" x2="1683"><stop offset="0" stop-color="#0080ff"/><stop offset=".187" stop-color="#008eff"/><stop offset=".192" stop-color="#1b8eff"/><stop offset=".203" stop-color="#388fff"/><stop offset=".225" stop-color="#5a91ff"/><stop offset=".278" stop-color="#8c96ff"/><stop offset=".387" stop-color="#daa4ff"/><stop offset=".446" stop-color="#ffabfd"/><stop offset=".535" stop-color="#ff96ca"/><stop offset=".696" stop-color="#ff7e85"/><stop offset=".84" stop-color="#ff7048"/><stop offset=".891" stop-color="#ff6c28"/><stop offset=".912" stop-color="#ff6b10"/><stop offset=".919" stop-color="#ff6a00"/><stop offset="1" stop-color="#ff6500"/></linearGradient><linearGradient id="r212" gradientUnits="userSpaceOnUse" x1="767" x2="1687"><stop offset="0" stop-color="#007dff"/><stop offset=".183" stop-color="#008bff"/><stop offset=".186" stop-color="#168bff"/><stop offset=".195" stop-color="#318cff"/><stop offset=".217" stop-color="#568eff"/><stop offset=".261" stop-color="#8192ff"/><stop offset=".34" stop-color="#bd9bff"/><stop offset=".442" stop-color="#ffa8fd"/><stop offset=".537" stop-color="#ff92c8"/><stop offset=".698" stop-color="#ff7b84"/><stop offset=".84" stop-color="#ff6e48"/><stop offset=".891" stop-color="#ff6a28"/><stop offset=".912" stop-color="#ff6811"/><stop offset=".921" stop-color="#ff6800"/><stop offset="1" stop-color="#ff6300"/></linearGradient><linearGradient id="r213" gradientUnits="userSpaceOnUse" x1="769" x2="1691"><stop offset="0" stop-color="#007bff"/><stop offset=".178" stop-color="#0088ff"/><stop offset=".182" stop-color="#1a88ff"/><stop offset=".192" stop-color="#3589ff"/><stop offset=".215" stop-color="#588bff"/><stop offset=".269" stop-color="#8c90ff"/><stop offset=".397" stop-color="#e59fff"/><stop offset=".44" stop-color="#ffa4fd"/><stop offset=".53" stop-color="#ff90ca"/><stop offset=".7" stop-color="#ff7883"/><stop offset=".843" stop-color="#ff6b47"/><stop offset=".893" stop-color="#ff6727"/><stop offset=".912" stop-color="#ff6612"/><stop offset=".921" stop-color="#ff6500"/><stop offset="1" stop-color="#ff6100"/></linearGradient><linearGradient id="r214" gradientUnits="userSpaceOnUse" x1="771" x2="1695"><stop offset="0" stop-color="#0078ff"/><stop offset=".173" stop-color="#0085ff"/><stop offset=".177" stop-color="#1a85ff"/><stop offset=".188" stop-color="#3786ff"/><stop offset=".212" stop-color="#5a88ff"/><stop offset=".258" stop-color="#868cff"/><stop offset=".365" stop-color="#d298ff"/><stop offset=".437" stop-color="#ffa1fd"/><stop offset=".53" stop-color="#ff8cc9"/><stop offset=".709" stop-color="#ff747f"/><stop offset=".844" stop-color="#ff6846"/><stop offset=".895" stop-color="#ff6526"/><stop offset=".913" stop-color="#ff6410"/><stop offset=".922" stop-color="#ff6300"/><stop offset="1" stop-color="#ff5f00"/></linearGradient><linearGradient id="r215" gradientUnits="userSpaceOnUse" x1="773" x2="1699"><stop offset="0" stop-color="#0076ff"/><stop offset=".168" stop-color="#0082ff"/><stop offset=".173" stop-color="#1a82ff"/><stop offset=".181" stop-color="#3283ff"/><stop offset=".202" stop-color="#5384ff"/><stop offset=".246" stop-color="#8088ff"/><stop offset=".34" stop-color="#c492ff"/><stop offset=".434" stop-color="#ff9dfd"/><stop offset=".532" stop-color="#ff88c7"/><stop offset=".718" stop-color="#ff707b"/><stop offset=".847" stop-color="#ff6645"/><stop offset=".896" stop-color="#ff6225"/><stop offset=".915" stop-color="#ff610f"/><stop offset=".922" stop-color="#ff6100"/><stop offset="1" stop-color="#ff5c00"/></linearGradient><linearGradient id="r216" gradientUnits="userSpaceOnUse" x1="775" x2="1703"><stop offset="0" stop-color="#0074ff"/><stop offset=".164" stop-color="#007fff"/><stop offset=".168" stop-color="#197fff"/><stop offset=".178" stop-color="#3480ff"/><stop offset=".199" stop-color="#5581ff"/><stop offset=".246" stop-color="#8385ff"/><stop offset=".346" stop-color="#ca90ff"/><stop offset=".431" stop-color="#ff99fd"/><stop offset=".532" stop-color="#ff84c6"/><stop offset=".731" stop-color="#ff6c76"/><stop offset=".85" stop-color="#ff6343"/><stop offset=".897" stop-color="#ff6025"/><stop offset=".915" stop-color="#ff5f10"/><stop offset=".923" stop-color="#ff5e00"/><stop offset="1" stop-color="#ff5a00"/></linearGradient><linearGradient id="r217" gradientUnits="userSpaceOnUse" x1="777" x2="1707"><stop offset="0" stop-color="#0071ff"/><stop offset=".159" stop-color="#007bff"/><stop offset=".163" stop-color="#197cff"/><stop offset=".173" stop-color="#347dff"/><stop offset=".196" stop-color="#567eff"/><stop offset=".243" stop-color="#8482ff"/><stop offset=".352" stop-color="#d08dff"/><stop offset=".429" stop-color="#ff96fd"/><stop offset=".526" stop-color="#ff82c8"/><stop offset=".719" stop-color="#ff6b7a"/><stop offset=".848" stop-color="#ff6144"/><stop offset=".896" stop-color="#ff5e26"/><stop offset=".915" stop-color="#ff5d11"/><stop offset=".924" stop-color="#ff5c00"/><stop offset="1" stop-color="#ff5800"/></linearGradient><linearGradient id="r218" gradientUnits="userSpaceOnUse" x1="779" x2="1710"><stop offset="0" stop-color="#006eff"/><stop offset=".155" stop-color="#0078ff"/><stop offset=".159" stop-color="#1979ff"/><stop offset=".168" stop-color="#3179ff"/><stop offset=".188" stop-color="#527bff"/><stop offset=".242" stop-color="#867fff"/><stop offset=".349" stop-color="#d08aff"/><stop offset=".426" stop-color="#ff92fd"/><stop offset=".521" stop-color="#ff7fca"/><stop offset=".687" stop-color="#ff6b86"/><stop offset=".842" stop-color="#ff5f48"/><stop offset=".898" stop-color="#ff5b26"/><stop offset=".918" stop-color="#ff5a0e"/><stop offset=".926" stop-color="#ff5a00"/><stop offset="1" stop-color="#ff5600"/></linearGradient><linearGradient id="r219" gradientUnits="userSpaceOnUse" x1="780" x2="1714"><stop offset="0" stop-color="#006cff"/><stop offset=".151" stop-color="#0075ff"/><stop offset=".156" stop-color="#1d75ff"/><stop offset=".169" stop-color="#3b76ff"/><stop offset=".193" stop-color="#5b78ff"/><stop offset=".24" stop-color="#877cff"/><stop offset=".351" stop-color="#d387ff"/><stop offset=".424" stop-color="#ff8efd"/><stop offset=".521" stop-color="#ff7cc9"/><stop offset=".695" stop-color="#ff6783"/><stop offset=".845" stop-color="#ff5c47"/><stop offset=".899" stop-color="#ff5925"/><stop offset=".919" stop-color="#ff580f"/><stop offset=".926" stop-color="#ff5700"/><stop offset="1" stop-color="#ff5300"/></linearGradient><linearGradient id="r220" gradientUnits="userSpaceOnUse" x1="782" x2="1718"><stop offset="0" stop-color="#0069ff"/><stop offset=".146" stop-color="#0072ff"/><stop offset=".152" stop-color="#1c72ff"/><stop offset=".162" stop-color="#3773ff"/><stop offset=".188" stop-color="#5b75ff"/><stop offset=".244" stop-color="#8d79ff"/><stop offset=".375" stop-color="#e486ff"/><stop offset=".422" stop-color="#ff8afd"/><stop offset=".515" stop-color="#ff79cb"/><stop offset=".681" stop-color="#ff6588"/><stop offset=".838" stop-color="#ff5a4a"/><stop offset=".895" stop-color="#ff5629"/><stop offset=".918" stop-color="#ff5511"/><stop offset=".926" stop-color="#ff5500"/><stop offset="1" stop-color="#ff5100"/></linearGradient><linearGradient id="r221" gradientUnits="userSpaceOnUse" x1="784" x2="1722"><stop offset="0" stop-color="#0066ff"/><stop offset=".142" stop-color="#006eff"/><stop offset=".147" stop-color="#1c6fff"/><stop offset=".159" stop-color="#3970ff"/><stop offset=".187" stop-color="#5e72ff"/><stop offset=".241" stop-color="#8e76ff"/><stop offset=".385" stop-color="#ec83ff"/><stop offset=".419" stop-color="#ff86fd"/><stop offset=".515" stop-color="#ff75ca"/><stop offset=".688" stop-color="#ff6285"/><stop offset=".84" stop-color="#ff5749"/><stop offset=".897" stop-color="#ff5428"/><stop offset=".918" stop-color="#ff5312"/><stop offset=".928" stop-color="#ff5200"/><stop offset="1" stop-color="#ff4f00"/></linearGradient><linearGradient id="r222" gradientUnits="userSpaceOnUse" x1="786" x2="1726"><stop offset="0" stop-color="#0063ff"/><stop offset=".137" stop-color="#006bff"/><stop offset=".143" stop-color="#1c6bff"/><stop offset=".153" stop-color="#366cff"/><stop offset=".179" stop-color="#5a6eff"/><stop offset=".232" stop-color="#8a72ff"/><stop offset=".357" stop-color="#dd7dff"/><stop offset=".417" stop-color="#ff82fd"/><stop offset=".506" stop-color="#ff72cd"/><stop offset=".67" stop-color="#ff608b"/><stop offset=".838" stop-color="#ff544a"/><stop offset=".896" stop-color="#ff5129"/><stop offset=".919" stop-color="#ff5011"/><stop offset=".928" stop-color="#ff4f00"/><stop offset="1" stop-color="#ff4c00"/></linearGradient><linearGradient id="r223" gradientUnits="userSpaceOnUse" x1="788" x2="1730"><stop offset="0" stop-color="#0060ff"/><stop offset=".133" stop-color="#0068ff"/><stop offset=".139" stop-color="#1f68ff"/><stop offset=".152" stop-color="#3c69ff"/><stop offset=".179" stop-color="#5f6bff"/><stop offset=".229" stop-color="#8b6eff"/><stop offset=".358" stop-color="#df79ff"/><stop offset=".414" stop-color="#ff7efd"/><stop offset=".508" stop-color="#ff6ecb"/><stop offset=".675" stop-color="#ff5c89"/><stop offset=".843" stop-color="#ff5148"/><stop offset=".9" stop-color="#ff4e26"/><stop offset=".92" stop-color="#ff4d10"/><stop offset=".929" stop-color="#ff4d00"/><stop offset="1" stop-color="#ff4a00"/></linearGradient><linearGradient id="r224" gradientUnits="userSpaceOnUse" x1="790" x2="1734"><stop offset="0" stop-color="#005dff"/><stop offset=".128" stop-color="#0064ff"/><stop offset=".135" stop-color="#1f64ff"/><stop offset=".147" stop-color="#3b65ff"/><stop offset=".174" stop-color="#5e67ff"/><stop offset=".231" stop-color="#8f6bff"/><stop offset=".403" stop-color="#fc7aff"/><stop offset=".428" stop-color="#ff77f3"/><stop offset=".541" stop-color="#ff66bc"/><stop offset=".801" stop-color="#ff515a"/><stop offset=".883" stop-color="#ff4c32"/><stop offset=".915" stop-color="#ff4b18"/><stop offset=".93" stop-color="#ff4a00"/><stop offset="1" stop-color="#ff4700"/></linearGradient><linearGradient id="r225" gradientUnits="userSpaceOnUse" x1="792" x2="1738"><stop offset="0" stop-color="#005aff"/><stop offset=".124" stop-color="#0060ff"/><stop offset=".126" stop-color="#0b60ff"/><stop offset=".13" stop-color="#1f61ff"/><stop offset=".144" stop-color="#3d62ff"/><stop offset=".175" stop-color="#6463ff"/><stop offset=".237" stop-color="#9668ff"/><stop offset=".406" stop-color="#ff76fe"/><stop offset=".514" stop-color="#ff65c7"/><stop offset=".698" stop-color="#ff5480"/><stop offset=".842" stop-color="#ff4b48"/><stop offset=".899" stop-color="#ff4928"/><stop offset=".921" stop-color="#ff4811"/><stop offset=".93" stop-color="#ff4700"/><stop offset="1" stop-color="#ff4400"/></linearGradient><linearGradient id="r226" gradientUnits="userSpaceOnUse" x1="795" x2="1741"><stop offset="0" stop-color="#0057ff"/><stop offset=".118" stop-color="#005dff"/><stop offset=".121" stop-color="#0b5dff"/><stop offset=".126" stop-color="#225dff"/><stop offset=".141" stop-color="#405eff"/><stop offset=".172" stop-color="#6560ff"/><stop offset=".228" stop-color="#9363ff"/><stop offset=".399" stop-color="#fd71ff"/><stop offset=".533" stop-color="#ff5fbe"/><stop offset=".799" stop-color="#ff4b5b"/><stop offset=".885" stop-color="#ff4632"/><stop offset=".916" stop-color="#ff4519"/><stop offset=".932" stop-color="#ff4400"/><stop offset="1" stop-color="#ff4200"/></linearGradient><linearGradient id="r227" gradientUnits="userSpaceOnUse" x1="797" x2="1745"><stop offset="0" stop-color="#0053ff"/><stop offset=".114" stop-color="#0059ff"/><stop offset=".116" stop-color="#0b59ff"/><stop offset=".121" stop-color="#2159ff"/><stop offset=".134" stop-color="#3c5aff"/><stop offset=".164" stop-color="#615bff"/><stop offset=".226" stop-color="#945fff"/><stop offset=".4" stop-color="#ff6dff"/><stop offset=".496" stop-color="#ff5fcd"/><stop offset=".669" stop-color="#ff4f8a"/><stop offset=".844" stop-color="#ff4548"/><stop offset=".9" stop-color="#ff4328"/><stop offset=".921" stop-color="#ff4214"/><stop offset=".932" stop-color="#ff4100"/><stop offset="1" stop-color="#ff3f00"/></linearGradient><linearGradient id="r228" gradientUnits="userSpaceOnUse" x1="799" x2="1749"><stop offset="0" stop-color="#0050ff"/><stop offset=".111" stop-color="#0255ff"/><stop offset=".114" stop-color="#1655ff"/><stop offset=".122" stop-color="#2e55ff"/><stop offset=".143" stop-color="#4f56ff"/><stop offset=".195" stop-color="#8059ff"/><stop offset=".296" stop-color="#c360ff"/><stop offset=".4" stop-color="#ff68fd"/><stop offset=".501" stop-color="#ff5aca"/><stop offset=".671" stop-color="#ff4b89"/><stop offset=".839" stop-color="#ff424a"/><stop offset=".898" stop-color="#ff402a"/><stop offset=".922" stop-color="#ff3f13"/><stop offset=".934" stop-color="#ff3e00"/><stop offset="1" stop-color="#ff3c00"/></linearGradient><linearGradient id="r229" gradientUnits="userSpaceOnUse" x1="801" x2="1753"><stop offset="0" stop-color="#004cff"/><stop offset=".106" stop-color="#0250ff"/><stop offset=".109" stop-color="#1651ff"/><stop offset=".118" stop-color="#2e51ff"/><stop offset=".14" stop-color="#5052ff"/><stop offset=".186" stop-color="#7c55ff"/><stop offset=".283" stop-color="#bd5aff"/><stop offset=".397" stop-color="#ff63fd"/><stop offset=".501" stop-color="#ff55c9"/><stop offset=".684" stop-color="#ff4784"/><stop offset=".846" stop-color="#ff3e47"/><stop offset=".902" stop-color="#ff3c27"/><stop offset=".925" stop-color="#ff3b0f"/><stop offset=".934" stop-color="#ff3b00"/><stop offset="1" stop-color="#ff3900"/></linearGradient><linearGradient id="r230" gradientUnits="userSpaceOnUse" x1="803" x2="1757"><stop offset="0" stop-color="#0048ff"/><stop offset=".102" stop-color="#024cff"/><stop offset=".106" stop-color="#1a4cff"/><stop offset=".118" stop-color="#384dff"/><stop offset=".146" stop-color="#5b4eff"/><stop offset=".199" stop-color="#8951ff"/><stop offset=".328" stop-color="#da59ff"/><stop offset=".395" stop-color="#ff5dfd"/><stop offset=".495" stop-color="#ff51cb"/><stop offset=".666" stop-color="#ff448a"/><stop offset=".842" stop-color="#ff3b49"/><stop offset=".901" stop-color="#ff3928"/><stop offset=".925" stop-color="#ff3811"/><stop offset=".934" stop-color="#ff3800"/><stop offset="1" stop-color="#ff3500"/></linearGradient><linearGradient id="r231" gradientUnits="userSpaceOnUse" x1="806" x2="1761"><stop offset="0" stop-color="#0044ff"/><stop offset=".096" stop-color="#0247ff"/><stop offset=".101" stop-color="#1948ff"/><stop offset=".111" stop-color="#3448ff"/><stop offset=".135" stop-color="#5549ff"/><stop offset=".181" stop-color="#7f4bff"/><stop offset=".287" stop-color="#c451ff"/><stop offset=".392" stop-color="#ff58fd"/><stop offset=".502" stop-color="#ff4bc7"/><stop offset=".685" stop-color="#ff3e83"/><stop offset=".846" stop-color="#ff3747"/><stop offset=".905" stop-color="#ff3526"/><stop offset=".926" stop-color="#ff3410"/><stop offset=".934" stop-color="#ff3400"/><stop offset="1" stop-color="#ff3200"/></linearGradient><linearGradient id="r232" gradientUnits="userSpaceOnUse" x1="808" x2="1765"><stop offset="0" stop-color="#003fff"/><stop offset=".092" stop-color="#0142ff"/><stop offset=".095" stop-color="#1543ff"/><stop offset=".103" stop-color="#2d43ff"/><stop offset=".122" stop-color="#4b44ff"/><stop offset=".161" stop-color="#7245ff"/><stop offset=".246" stop-color="#ad49ff"/><stop offset=".389" stop-color="#ff52fd"/><stop offset=".498" stop-color="#ff46c7"/><stop offset=".713" stop-color="#ff3979"/><stop offset=".853" stop-color="#ff3344"/><stop offset=".906" stop-color="#ff3125"/><stop offset=".927" stop-color="#ff300f"/><stop offset=".935" stop-color="#ff3000"/><stop offset="1" stop-color="#ff2e00"/></linearGradient><linearGradient id="r233" gradientUnits="userSpaceOnUse" x1="810" x2="1769"><stop offset="0" stop-color="#003aff"/><stop offset=".088" stop-color="#013dff"/><stop offset=".092" stop-color="#193dff"/><stop offset=".104" stop-color="#373eff"/><stop offset=".131" stop-color="#5a3fff"/><stop offset=".186" stop-color="#8841ff"/><stop offset=".315" stop-color="#d848ff"/><stop offset=".387" stop-color="#ff4bfd"/><stop offset=".486" stop-color="#ff41cc"/><stop offset=".662" stop-color="#ff368a"/><stop offset=".839" stop-color="#ff2f4a"/><stop offset=".901" stop-color="#ff2d29"/><stop offset=".927" stop-color="#ff2c10"/><stop offset=".935" stop-color="#ff2c00"/><stop offset="1" stop-color="#ff2a00"/></linearGradient><linearGradient id="r234" gradientUnits="userSpaceOnUse" x1="813" x2="1773"><stop offset="0" stop-color="#0035ff"/><stop offset=".082" stop-color="#0137ff"/><stop offset=".086" stop-color="#1937ff"/><stop offset=".098" stop-color="#3538ff"/><stop offset=".123" stop-color="#5639ff"/><stop offset=".169" stop-color="#7f3aff"/><stop offset=".27" stop-color="#c03fff"/><stop offset=".383" stop-color="#ff44fd"/><stop offset=".5" stop-color="#ff3ac5"/><stop offset=".705" stop-color="#ff2f7b"/><stop offset=".853" stop-color="#ff2a44"/><stop offset=".908" stop-color="#ff2824"/><stop offset=".928" stop-color="#ff280f"/><stop offset=".936" stop-color="#ff2700"/><stop offset="1" stop-color="#ff2600"/></linearGradient><linearGradient id="r235" gradientUnits="userSpaceOnUse" x1="815" x2="1776"><stop offset="0" stop-color="#002eff"/><stop offset=".078" stop-color="#0131ff"/><stop offset=".082" stop-color="#1831ff"/><stop offset=".091" stop-color="#2e31ff"/><stop offset=".109" stop-color="#4b32ff"/><stop offset=".157" stop-color="#7933ff"/><stop offset=".253" stop-color="#b837ff"/><stop offset=".381" stop-color="#ff3dfd"/><stop offset=".498" stop-color="#ff33c5"/><stop offset=".702" stop-color="#ff297c"/><stop offset=".849" stop-color="#ff2546"/><stop offset=".907" stop-color="#ff2326"/><stop offset=".93" stop-color="#ff230e"/><stop offset=".939" stop-color="#ff2200"/><stop offset="1" stop-color="#ff2100"/></linearGradient><linearGradient id="r236" gradientUnits="userSpaceOnUse" x1="817" x2="1780"><stop offset="0" stop-color="#0027ff"/><stop offset=".074" stop-color="#0029ff"/><stop offset=".077" stop-color="#1429ff"/><stop offset=".085" stop-color="#2c29ff"/><stop offset=".105" stop-color="#4b2aff"/><stop offset=".15" stop-color="#762bff"/><stop offset=".243" stop-color="#b42eff"/><stop offset=".378" stop-color="#ff34fd"/><stop offset=".487" stop-color="#ff2cc9"/><stop offset=".672" stop-color="#ff2486"/><stop offset=".847" stop-color="#ff1f47"/><stop offset=".908" stop-color="#ff1d26"/><stop offset=".929" stop-color="#ff1d10"/><stop offset=".939" stop-color="#ff1d00"/><stop offset="1" stop-color="#ff1b00"/></linearGradient><linearGradient id="r237" gradientUnits="userSpaceOnUse" x1="820" x2="1784"><stop offset="0" stop-color="#001eff"/><stop offset=".068" stop-color="#0020ff"/><stop offset=".073" stop-color="#1820ff"/><stop offset=".085" stop-color="#3620ff"/><stop offset=".111" stop-color="#5721ff"/><stop offset=".161" stop-color="#8222ff"/><stop offset=".277" stop-color="#ca25ff"/><stop offset=".376" stop-color="#ff29fd"/><stop offset=".484" stop-color="#ff22c9"/><stop offset=".673" stop-color="#ff1b85"/><stop offset=".842" stop-color="#ff1749"/><stop offset=".904" stop-color="#ff1629"/><stop offset=".929" stop-color="#ff1611"/><stop offset=".94" stop-color="#ff1600"/><stop offset="1" stop-color="#ff1500"/></linearGradient><linearGradient id="r238" gradientUnits="userSpaceOnUse" x1="822" x2="1788"><stop offset="0" stop-color="#0012ff"/><stop offset=".064" stop-color="#0013ff"/><stop offset=".068" stop-color="#1813ff"/><stop offset=".08" stop-color="#3413ff"/><stop offset=".107" stop-color="#5714ff"/><stop offset=".158" stop-color="#8315ff"/><stop offset=".277" stop-color="#cc17ff"/><stop offset=".373" stop-color="#ff1afd"/><stop offset=".488" stop-color="#ff15c7"/><stop offset=".687" stop-color="#ff1080"/><stop offset=".845" stop-color="#ff0d48"/><stop offset=".907" stop-color="#ff0c27"/><stop offset=".931" stop-color="#ff0c10"/><stop offset=".94" stop-color="#ff0c00"/><stop offset="1" stop-color="#ff0b00"/></linearGradient><linearGradient id="r239" gradientUnits="userSpaceOnUse" x1="825" x2="1792"><stop offset="0" stop-color="#0000ff"/><stop offset=".059" stop-color="#0000ff"/><stop offset=".063" stop-color="#1700ff"/><stop offset=".071" stop-color="#2d00ff"/><stop offset=".09" stop-color="#4a00ff"/><stop offset=".131" stop-color="#7200ff"/><stop offset=".216" stop-color="#ab00ff"/><stop offset=".369" stop-color="#ff00fd"/><stop offset=".478" stop-color="#ff00ca"/><stop offset=".668" stop-color="#ff0086"/><stop offset=".845" stop-color="#ff0048"/><stop offset=".907" stop-color="#ff0027"/><stop offset=".932" stop-color="#ff000f"/><stop offset=".941" stop-color="#ff0000"/><stop offset="1" stop-color="#ff0000"/></linearGradient><linearGradient id="r240" gradientUnits="userSpaceOnUse" x1="828" x2="1796"><stop offset="0" stop-color="#0000ff"/><stop offset=".054" stop-color="#0000ff"/><stop offset=".058" stop-color="#1700ff"/><stop offset=".067" stop-color="#2f00ff"/><stop offset=".088" stop-color="#4d00ff"/><stop offset=".134" stop-color="#7800ff"/><stop offset=".229" stop-color="#b500ff"/><stop offset=".367" stop-color="#ff00fd"/><stop offset=".475" stop-color="#ff00ca"/><stop offset=".658" stop-color="#ff0089"/><stop offset=".845" stop-color="#ff0048"/><stop offset=".906" stop-color="#ff0028"/><stop offset=".931" stop-color="#ff0011"/><stop offset=".941" stop-color="#ff0000"/><stop offset="1" stop-color="#ff0000"/></linearGradient><linearGradient id="r241" gradientUnits="userSpaceOnUse" x1="830" x2="1800"><stop offset="0" stop-color="#0000ff"/><stop offset=".049" stop-color="#0000ff"/><stop offset=".054" stop-color="#1700ff"/><stop offset=".063" stop-color="#2f00ff"/><stop offset=".085" stop-color="#4e00ff"/><stop offset=".128" stop-color="#7600ff"/><stop offset=".223" stop-color="#b300ff"/><stop offset=".364" stop-color="#ff00fd"/><stop offset=".473" stop-color="#ff00ca"/><stop offset=".666" stop-color="#ff0086"/><stop offset=".842" stop-color="#ff0049"/><stop offset=".905" stop-color="#ff0029"/><stop offset=".93" stop-color="#ff0013"/><stop offset=".942" stop-color="#ff0000"/><stop offset="1" stop-color="#ff0000"/></linearGradient><linearGradient id="r242" gradientUnits="userSpaceOnUse" x1="833" x2="1804"><stop offset="0" stop-color="#0000ff"/><stop offset=".044" stop-color="#0000ff"/><stop offset=".048" stop-color="#1700ff"/><stop offset=".059" stop-color="#3100ff"/><stop offset=".083" stop-color="#5200ff"/><stop offset=".13" stop-color="#7b00ff"/><stop offset=".233" stop-color="#bb00ff"/><stop offset=".36" stop-color="#ff00fd"/><stop offset=".476" stop-color="#ff00c8"/><stop offset=".671" stop-color="#ff0084"/><stop offset=".844" stop-color="#ff0048"/><stop offset=".908" stop-color="#ff0027"/><stop offset=".933" stop-color="#ff000f"/><stop offset=".942" stop-color="#ff0000"/><stop offset="1" stop-color="#ff0000"/></linearGradient><linearGradient id="r243" gradientUnits="userSpaceOnUse" x1="836" x2="1808"><stop offset="0" stop-color="#0000ff"/><stop offset=".039" stop-color="#0000ff"/><stop offset=".043" stop-color="#1600ff"/><stop offset=".051" stop-color="#2c00ff"/><stop offset=".071" stop-color="#4a00ff"/><stop offset=".117" stop-color="#7500ff"/><stop offset=".211" stop-color="#b100ff"/><stop offset=".358" stop-color="#ff00fd"/><stop offset=".466" stop-color="#ff00cb"/><stop offset=".651" stop-color="#ff008a"/><stop offset=".843" stop-color="#ff0049"/><stop offset=".908" stop-color="#ff0027"/><stop offset=".933" stop-color="#ff0010"/><stop offset=".942" stop-color="#ff0000"/><stop offset="1" stop-color="#ff0000"/></linearGradient><linearGradient id="r244" gradientUnits="userSpaceOnUse" x1="839" x2="1811"><stop offset="0" stop-color="#0000ff"/><stop offset=".034" stop-color="#0000ff"/><stop offset=".039" stop-color="#1a00ff"/><stop offset=".05" stop-color="#3400ff"/><stop offset=".078" stop-color="#5700ff"/><stop offset=".134" stop-color="#8400ff"/><stop offset=".254" stop-color="#cb00ff"/><stop offset=".355" stop-color="#ff00fd"/><stop offset=".464" stop-color="#ff00cb"/><stop offset=".657" stop-color="#ff0088"/><stop offset=".846" stop-color="#ff0048"/><stop offset=".912" stop-color="#ff0026"/><stop offset=".935" stop-color="#ff000f"/><stop offset=".944" stop-color="#ff0000"/><stop offset="1" stop-color="#ff0000"/></linearGradient><linearGradient id="r245" gradientUnits="userSpaceOnUse" x1="842" x2="1815"><stop offset="0" stop-color="#0000ff"/><stop offset=".029" stop-color="#0000ff"/><stop offset=".034" stop-color="#1a00ff"/><stop offset=".046" stop-color="#3500ff"/><stop offset=".074" stop-color="#5800ff"/><stop offset=".131" stop-color="#8500ff"/><stop offset=".258" stop-color="#cf00ff"/><stop offset=".351" stop-color="#ff00fd"/><stop offset=".467" stop-color="#ff00c9"/><stop offset=".665" stop-color="#ff0085"/><stop offset=".843" stop-color="#ff0049"/><stop offset=".909" stop-color="#ff0028"/><stop offset=".934" stop-color="#ff0011"/><stop offset=".945" stop-color="#ff0000"/><stop offset="1" stop-color="#ff0000"/></linearGradient><linearGradient id="r246" gradientUnits="userSpaceOnUse" x1="845" x2="1819"><stop offset="0" stop-color="#0000ff"/><stop offset=".024" stop-color="#0000ff"/><stop offset=".029" stop-color="#1900ff"/><stop offset=".039" stop-color="#3100ff"/><stop offset=".063" stop-color="#5100ff"/><stop offset=".113" stop-color="#7c00ff"/><stop offset=".221" stop-color="#bd00ff"/><stop offset=".349" stop-color="#ff00fd"/><stop offset=".459" stop-color="#ff00cb"/><stop offset=".657" stop-color="#ff0087"/><stop offset=".843" stop-color="#ff0049"/><stop offset=".911" stop-color="#ff0027"/><stop offset=".935" stop-color="#ff0010"/><stop offset=".946" stop-color="#ff0000"/><stop offset="1" stop-color="#ff0000"/></linearGradient><linearGradient id="r247" gradientUnits="userSpaceOnUse" x1="849" x2="1823"><stop offset="0" stop-color="#0000ff"/><stop offset=".017" stop-color="#0000ff"/><stop offset=".023" stop-color="#1900ff"/><stop offset=".033" stop-color="#3100ff"/><stop offset=".059" stop-color="#5300ff"/><stop offset=".112" stop-color="#7f00ff"/><stop offset=".227" stop-color="#c300ff"/><stop offset=".345" stop-color="#ff00fd"/><stop offset=".456" stop-color="#ff00cb"/><stop offset=".65" stop-color="#ff0089"/><stop offset=".84" stop-color="#ff004a"/><stop offset=".908" stop-color="#ff0029"/><stop offset=".935" stop-color="#ff0011"/><stop offset=".946" stop-color="#ff0000"/><stop offset="1" stop-color="#ff0000"/></linearGradient><linearGradient id="r248" gradientUnits="userSpaceOnUse" x1="852" x2="1827"><stop offset="0" stop-color="#0000ff"/><stop offset=".012" stop-color="#0000ff"/><stop offset=".017" stop-color="#1900ff"/><stop offset=".029" stop-color="#3300ff"/><stop offset=".054" stop-color="#5300ff"/><stop offset=".097" stop-color="#7800ff"/><stop offset=".199" stop-color="#b600ff"/><stop offset=".342" stop-color="#ff00fd"/><stop offset=".456" stop-color="#ff00ca"/><stop offset=".657" stop-color="#ff0086"/><stop offset=".84" stop-color="#ff004a"/><stop offset=".91" stop-color="#ff0028"/><stop offset=".936" stop-color="#ff0010"/><stop offset=".947" stop-color="#ff0000"/><stop offset="1" stop-color="#ff0000"/></linearGradient><linearGradient id="r249" gradientUnits="userSpaceOnUse" x1="856" x2="1831"><stop offset="0" stop-color="#0000ff"/><stop offset=".006" stop-color="#0000ff"/><stop offset=".011" stop-color="#1900ff"/><stop offset=".022" stop-color="#3100ff"/><stop offset=".047" stop-color="#5200ff"/><stop offset=".097" stop-color="#7c00ff"/><stop offset=".207" stop-color="#bd00ff"/><stop offset=".337" stop-color="#ff00fd"/><stop offset=".458" stop-color="#ff00c8"/><stop offset=".667" stop-color="#ff0083"/><stop offset=".847" stop-color="#ff0047"/><stop offset=".91" stop-color="#ff0028"/><stop offset=".935" stop-color="#ff0012"/><stop offset=".947" stop-color="#ff0000"/><stop offset="1" stop-color="#ff0000"/></linearGradient><linearGradient id="r250" gradientUnits="userSpaceOnUse" x1="859" x2="1835"><stop offset="0" stop-color="#0000ff"/><stop offset=".002" stop-color="#0400ff"/><stop offset=".006" stop-color="#1800ff"/><stop offset=".015" stop-color="#2f00ff"/><stop offset=".041" stop-color="#5100ff"/><stop offset=".094" stop-color="#7d00ff"/><stop offset=".209" stop-color="#c000ff"/><stop offset=".335" stop-color="#ff00fd"/><stop offset=".446" stop-color="#ff00cc"/><stop offset=".639" stop-color="#ff008b"/><stop offset=".842" stop-color="#ff0049"/><stop offset=".912" stop-color="#ff0027"/><stop offset=".936" stop-color="#ff0011"/><stop offset=".948" stop-color="#ff0000"/><stop offset="1" stop-color="#ff0000"/></linearGradient><linearGradient id="r251" gradientUnits="userSpaceOnUse" x1="863" x2="1839"><stop offset="0" stop-color="#1800ff"/><stop offset=".01" stop-color="#3000ff"/><stop offset=".033" stop-color="#4e00ff"/><stop offset=".079" stop-color="#7600ff"/><stop offset=".178" stop-color="#b200ff"/><stop offset=".331" stop-color="#ff00fd"/><stop offset=".448" stop-color="#ff00ca"/><stop offset=".664" stop-color="#ff0083"/><stop offset=".844" stop-color="#ff0048"/><stop offset=".912" stop-color="#ff0027"/><stop offset=".939" stop-color="#ff000f"/><stop offset=".948" stop-color="#ff0000"/><stop offset="1" stop-color="#ff0000"/></linearGradient><linearGradient id="r252" gradientUnits="userSpaceOnUse" x1="867" x2="1842"><stop offset="0" stop-color="#2800ff"/><stop offset=".019" stop-color="#4600ff"/><stop offset=".063" stop-color="#6e00ff"/><stop offset=".15" stop-color="#a500ff"/><stop offset=".327" stop-color="#ff00fd"/><stop offset=".45" stop-color="#ff00c8"/><stop offset=".683" stop-color="#ff007d"/><stop offset=".85" stop-color="#ff0046"/><stop offset=".913" stop-color="#ff0027"/><stop offset=".938" stop-color="#ff0011"/><stop offset=".95" stop-color="#ff0000"/><stop offset="1" stop-color="#ff0000"/></linearGradient><linearGradient id="r253" gradientUnits="userSpaceOnUse" x1="871" x2="1846"><stop offset="0" stop-color="#3300ff"/><stop offset=".027" stop-color="#5400ff"/><stop offset=".081" stop-color="#7f00ff"/><stop offset=".201" stop-color="#c300ff"/><stop offset=".324" stop-color="#ff00fd"/><stop offset=".437" stop-color="#ff00cc"/><stop offset=".632" stop-color="#ff008c"/><stop offset=".842" stop-color="#ff0049"/><stop offset=".912" stop-color="#ff0028"/><stop offset=".939" stop-color="#ff0010"/><stop offset=".95" stop-color="#ff0000"/><stop offset="1" stop-color="#ff0000"/></linearGradient><linearGradient id="r254" gradientUnits="userSpaceOnUse" x1="875" x2="1850"><stop offset="0" stop-color="#3c00ff"/><stop offset=".035" stop-color="#6100ff"/><stop offset=".108" stop-color="#9300ff"/><stop offset=".317" stop-color="#ff00ff"/><stop offset=".424" stop-color="#ff00d0"/><stop offset=".613" stop-color="#ff0091"/><stop offset=".842" stop-color="#ff0049"/><stop offset=".912" stop-color="#ff0028"/><stop offset=".938" stop-color="#ff0012"/><stop offset=".951" stop-color="#ff0000"/><stop offset="1" stop-color="#ff0000"/></linearGradient><linearGradient id="r255" gradientUnits="userSpaceOnUse" x1="879" x2="1854"><stop offset="0" stop-color="#4400ff"/><stop offset=".043" stop-color="#6c00ff"/><stop offset=".129" stop-color="#a200ff"/><stop offset=".316" stop-color="#ff00fd"/><stop offset=".439" stop-color="#ff00c9"/><stop offset=".655" stop-color="#ff0084"/><stop offset=".847" stop-color="#ff0047"/><stop offset=".917" stop-color="#ff0025"/><stop offset=".942" stop-color="#ff000e"/><stop offset=".951" stop-color="#ff0000"/><stop offset="1" stop-color="#ff0000"/></linearGradient><linearGradient id="r256" gradientUnits="userSpaceOnUse" x1="884" x2="1858"><stop offset="0" stop-color="#4c00ff"/><stop offset=".05" stop-color="#7600ff"/><stop offset=".155" stop-color="#b300ff"/><stop offset=".312" stop-color="#ff00fd"/><stop offset=".43" stop-color="#ff00cb"/><stop offset=".626" stop-color="#ff008c"/><stop offset=".839" stop-color="#ff004a"/><stop offset=".911" stop-color="#ff0029"/><stop offset=".938" stop-color="#ff0013"/><stop offset=".951" stop-color="#ff0000"/><stop offset="1" stop-color="#ff0000"/></linearGradient><linearGradient id="r257" gradientUnits="userSpaceOnUse" x1="888" x2="1862"><stop offset="0" stop-color="#5100ff"/><stop offset=".046" stop-color="#7700ff"/><stop offset=".154" stop-color="#b500ff"/><stop offset=".308" stop-color="#ff00fd"/><stop offset=".427" stop-color="#ff00cb"/><stop offset=".631" stop-color="#ff008a"/><stop offset=".844" stop-color="#ff0048"/><stop offset=".916" stop-color="#ff0026"/><stop offset=".943" stop-color="#ff000e"/><stop offset=".952" stop-color="#ff0000"/><stop offset="1" stop-color="#ff0000"/></linearGradient><linearGradient id="r258" gradientUnits="userSpaceOnUse" x1="892" x2="1866"><stop offset="0" stop-color="#5600ff"/><stop offset=".045" stop-color="#7a00ff"/><stop offset=".157" stop-color="#b900ff"/><stop offset=".305" stop-color="#ff00fd"/><stop offset=".421" stop-color="#ff00cc"/><stop offset=".626" stop-color="#ff008b"/><stop offset=".841" stop-color="#ff0049"/><stop offset=".913" stop-color="#ff0028"/><stop offset=".94" stop-color="#ff0011"/><stop offset=".952" stop-color="#ff0000"/><stop offset="1" stop-color="#ff0000"/></linearGradient><linearGradient id="r259" gradientUnits="userSpaceOnUse" x1="896" x2="1870"><stop offset="0" stop-color="#5a00ff"/><stop offset=".041" stop-color="#7b00ff"/><stop offset=".16" stop-color="#bd00ff"/><stop offset=".301" stop-color="#ff00fd"/><stop offset=".421" stop-color="#ff00cb"/><stop offset=".631" stop-color="#ff0089"/><stop offset=".838" stop-color="#ff004a"/><stop offset=".91" stop-color="#ff002a"/><stop offset=".94" stop-color="#ff0012"/><stop offset=".953" stop-color="#ff0000"/><stop offset="1" stop-color="#ff0000"/></linearGradient><linearGradient id="r260" gradientUnits="userSpaceOnUse" x1="900" x2="1873"><stop offset="0" stop-color="#5e00ff"/><stop offset=".039" stop-color="#7d00ff"/><stop offset=".152" stop-color="#bb00ff"/><stop offset=".297" stop-color="#ff00fd"/><stop offset=".418" stop-color="#ff00cb"/><stop offset=".634" stop-color="#ff0088"/><stop offset=".842" stop-color="#ff0049"/><stop offset=".916" stop-color="#ff0027"/><stop offset=".942" stop-color="#ff0011"/><stop offset=".954" stop-color="#ff0000"/><stop offset="1" stop-color="#ff0000"/></linearGradient><linearGradient id="r261" gradientUnits="userSpaceOnUse" x1="905" x2="1877"><stop offset="0" stop-color="#6300ff"/><stop offset=".05" stop-color="#8800ff"/><stop offset=".204" stop-color="#d700ff"/><stop offset=".292" stop-color="#ff00fd"/><stop offset=".418" stop-color="#ff00ca"/><stop offset=".636" stop-color="#ff0087"/><stop offset=".844" stop-color="#ff0048"/><stop offset=".918" stop-color="#ff0026"/><stop offset=".944" stop-color="#ff000f"/><stop offset=".955" stop-color="#ff0000"/><stop offset="1" stop-color="#ff0000"/></linearGradient><linearGradient id="r262" gradientUnits="userSpaceOnUse" x1="949" x2="1881"><stop offset="0" stop-color="#8500ff"/><stop offset=".132" stop-color="#c800ff"/><stop offset=".259" stop-color="#ff00fd"/><stop offset=".381" stop-color="#ff00cd"/><stop offset=".6" stop-color="#ff008c"/><stop offset=".834" stop-color="#ff0049"/><stop offset=".911" stop-color="#ff0028"/><stop offset=".941" stop-color="#ff0011"/><stop offset=".953" stop-color="#ff0000"/><stop offset="1" stop-color="#ff0000"/></linearGradient><linearGradient id="r263" gradientUnits="userSpaceOnUse" x1="1018" x2="1885"><stop offset="0" stop-color="#ad00ff"/><stop offset=".198" stop-color="#ff00fd"/><stop offset=".337" stop-color="#ff00cb"/><stop offset=".58" stop-color="#ff0089"/><stop offset=".818" stop-color="#ff004a"/><stop offset=".904" stop-color="#ff0028"/><stop offset=".937" stop-color="#ff0011"/><stop offset=".95" stop-color="#ff0000"/><stop offset="1" stop-color="#ff0000"/></linearGradient><linearGradient id="r264" gradientUnits="userSpaceOnUse" x1="1087" x2="1889"><stop offset="0" stop-color="#cf00ff"/><stop offset=".128" stop-color="#ff00fd"/><stop offset=".283" stop-color="#ff00ca"/><stop offset=".552" stop-color="#ff0087"/><stop offset=".81" stop-color="#ff0048"/><stop offset=".899" stop-color="#ff0027"/><stop offset=".931" stop-color="#ff0012"/><stop offset=".946" stop-color="#ff0000"/><stop offset="1" stop-color="#ff0000"/></linearGradient><linearGradient id="r265" gradientUnits="userSpaceOnUse" x1="1156" x2="1893"><stop offset="0" stop-color="#f000ff"/><stop offset=".047" stop-color="#ff00fd"/><stop offset=".205" stop-color="#ff00cd"/><stop offset=".487" stop-color="#ff008c"/><stop offset=".79" stop-color="#ff0049"/><stop offset=".893" stop-color="#ff0026"/><stop offset=".928" stop-color="#ff000f"/><stop offset=".943" stop-color="#ff0000"/><stop offset="1" stop-color="#ff0000"/></linearGradient><linearGradient id="r266" gradientUnits="userSpaceOnUse" x1="1226" x2="1897"><stop offset="0" stop-color="#ff00ed"/><stop offset=".21" stop-color="#ff00b9"/><stop offset=".768" stop-color="#ff0049"/><stop offset=".875" stop-color="#ff0029"/><stop offset=".918" stop-color="#ff0012"/><stop offset=".937" stop-color="#ff0000"/><stop offset="1" stop-color="#ff0000"/></linearGradient><linearGradient id="r267" gradientUnits="userSpaceOnUse" x1="1295" x2="1901"><stop offset="0" stop-color="#ff00d2"/><stop offset=".318" stop-color="#ff0095"/><stop offset=".733" stop-color="#ff004b"/><stop offset=".863" stop-color="#ff0029"/><stop offset=".913" stop-color="#ff0011"/><stop offset=".932" stop-color="#ff0000"/><stop offset="1" stop-color="#ff0000"/></linearGradient><linearGradient id="r268" gradientUnits="userSpaceOnUse" x1="1364" x2="1904"><stop offset="0" stop-color="#ff00bb"/><stop offset=".707" stop-color="#ff004a"/><stop offset=".854" stop-color="#ff0027"/><stop offset=".906" stop-color="#ff0010"/><stop offset=".926" stop-color="#ff0000"/><stop offset="1" stop-color="#ff0000"/></linearGradient><linearGradient id="r269" gradientUnits="userSpaceOnUse" x1="1433" x2="1908"><stop offset="0" stop-color="#ff00a6"/><stop offset=".655" stop-color="#ff004c"/><stop offset=".823" stop-color="#ff002a"/><stop offset=".888" stop-color="#ff0013"/><stop offset=".916" stop-color="#ff0000"/><stop offset="1" stop-color="#ff0000"/></linearGradient><linearGradient id="r270" gradientUnits="userSpaceOnUse" x1="1502" x2="1911"><stop offset="0" stop-color="#ff0093"/><stop offset=".616" stop-color="#ff004a"/><stop offset=".802" stop-color="#ff0029"/><stop offset=".878" stop-color="#ff0011"/><stop offset=".907" stop-color="#ff0000"/><stop offset="1" stop-color="#ff0000"/></linearGradient><linearGradient id="r271" gradientUnits="userSpaceOnUse" x1="1572" x2="1911"><stop offset="0" stop-color="#ff0080"/><stop offset=".563" stop-color="#ff0048"/><stop offset=".779" stop-color="#ff0028"/><stop offset=".864" stop-color="#ff0011"/><stop offset=".9" stop-color="#ff0000"/><stop offset="1" stop-color="#ff0000"/></linearGradient><linearGradient id="r272" gradientUnits="userSpaceOnUse" x1="1641" x2="1911"><stop offset="0" stop-color="#ff006e"/><stop offset=".556" stop-color="#ff003f"/><stop offset=".778" stop-color="#ff0021"/><stop offset=".859" stop-color="#ff000d"/><stop offset=".893" stop-color="#ff0000"/><stop offset="1" stop-color="#ff0000"/></linearGradient><linearGradient id="r273" gradientUnits="userSpaceOnUse" x1="1710" x2="1911"><stop offset="0" stop-color="#ff005b"/><stop offset=".542" stop-color="#ff0035"/><stop offset=".776" stop-color="#ff0019"/><stop offset=".856" stop-color="#ff0005"/><stop offset=".886" stop-color="#ff0000"/><stop offset="1" stop-color="#ff0000"/></linearGradient><linearGradient id="r274" gradientUnits="userSpaceOnUse" x1="1779" x2="1911"><stop offset="0" stop-color="#ff0046"/><stop offset=".545" stop-color="#ff0027"/><stop offset=".773" stop-color="#ff000e"/><stop offset=".848" stop-color="#ff0000"/><stop offset="1" stop-color="#ff0000"/></linearGradient><linearGradient id="r275" gradientUnits="userSpaceOnUse" x1="1848" x2="1911"><stop offset="0" stop-color="#ff002b"/><stop offset=".54" stop-color="#ff0012"/><stop offset=".746" stop-color="#ff0000"/><stop offset="1" stop-color="#ff0000"/></linearGradient><clipPath id="locus"><path d="M924.2 3548.4L924.1 3548.4L924.1 3548.4L924.1 3548.4L924 3548.3L924 3548.4L923.9 3548.4L923.9 3548.4L923.8 3548.5L923.7 3548.5L923.6 3548.5L923.6 3548.5L923.5 3548.4L923.4 3548.4L923.3 3548.4L923.2 3548.5L923.1 3548.5L923.1 3548.6L923 3548.6L922.9 3548.6L922.8 3548.7L922.7 3548.7L922.7 3548.7L922.5 3548.7L922.4 3548.7L922.3 3548.7L922.1 3548.7L922 3548.7L921.8 3548.7L921.7 3548.7L921.5 3548.7L921.4 3548.7L921.2 3548.7L921 3548.7L920.8 3548.6L920.7 3548.6L920.5 3548.6L920.3 3548.5L920.1 3548.4L919.8 3548.3L919.5 3548.1L919.1 3548L918.8 3547.7L918.4 3547.5L918 3547.2L917.6 3547L917.1 3546.6L916.7 3546.3L916.2 3545.9L915.7 3545.5L915.1 3545L914.5 3544.5L913.8 3544L913.1 3543.4L912.4 3542.8L911.6 3542.2L910.9 3541.4L910.1 3540.7L909.2 3539.9L908.3 3539L907.3 3538.2L906.3 3537.2L905.3 3536.3L904.1 3535.3L902.9 3534.2L901.6 3533.1L900.2 3531.9L898.8 3530.6L897.2 3529.2L895.6 3527.8L893.9 3526.3L892.1 3524.7L890.2 3523.1L888.2 3521.3L886.2 3519.5L884 3517.5L881.8 3515.4L879.4 3513.2L877 3510.8L874.5 3508.2L871.8 3505.5L869.1 3502.5L866.4 3499.4L863.4 3495.9L860.4 3492.1L857.2 3487.8L853.7 3482.9L850 3477.4L846 3471.2L841.8 3464.3L837.4 3456.7L832.8 3448.4L828 3439.3L823 3429.3L817.7 3418.4L812.2 3406.3L806.4 3393.1L800.4 3378.5L794 3362.7L787.4 3345.4L780.4 3326.8L773.1 3306.6L765.5 3284.8L757.6 3261.3L749.5 3236L741.2 3208.7L733.1 3179.7L724.9 3148.8L716.9 3116.1L708.8 3081.6L700.8 3045.2L692.7 3007L684.8 2967.3L677.1 2926.2L669.7 2884L662.7 2841L656.2 2797.5L650.2 2753.8L644.9 2710L640.2 2666.2L636.2 2622.8L632.9 2580.1L630.5 2538.4L628.9 2497.9L628.3 2458.7L628.7 2420.9L630.1 2384.3L632.4 2349.2L635.9 2315.9L640.4 2284.5L646.1 2255.4L652.8 2228.7L660.6 2204.3L669.3 2182.7L679 2163.9L689.4 2148.2L700.7 2135.4L712.6 2125.3L725 2117.9L737.8 2113L751 2110.4L764.4 2109.9L778.1 2111.2L792 2114.2L806 2118.4L820.1 2123.5L834.3 2129.5L848.6 2136.2L862.7 2143.4L876.7 2151L890.5 2158.8L904.1 2166.9L917.4 2175L930.7 2183.4L943.7 2192L956.7 2200.9L969.6 2209.9L982.4 2219.2L995.2 2228.7L1007.9 2238.4L1020.5 2248.2L1033.1 2258.3L1045.7 2268.6L1058.2 2279L1070.8 2289.6L1083.3 2300.3L1095.7 2311.2L1108.2 2322.2L1120.6 2333.3L1133 2344.5L1145.4 2355.8L1157.9 2367.3L1170.3 2378.8L1182.7 2390.4L1195.1 2402.1L1207.5 2413.9L1219.9 2425.7L1232.3 2437.6L1244.7 2449.6L1257.1 2461.6L1269.5 2473.6L1281.9 2485.6L1294.3 2497.7L1306.7 2509.8L1319 2521.9L1331.4 2534L1343.7 2546.2L1356 2558.3L1368.2 2570.4L1380.5 2582.5L1392.7 2594.6L1404.8 2606.6L1416.9 2618.6L1429 2630.6L1441 2642.6L1452.9 2654.4L1464.8 2666.3L1476.6 2678L1488.3 2689.7L1499.9 2701.3L1511.4 2712.8L1522.9 2724.2L1534.2 2735.4L1545.4 2746.6L1556.5 2757.6L1567.5 2768.6L1578.3 2779.3L1589 2790L1599.6 2800.4L1609.9 2810.8L1620.2 2821L1630.2 2831L1640.1 2840.9L1649.8 2850.5L1659.2 2859.9L1668.4 2869.1L1677.2 2877.9L1685.8 2886.4L1694.2 2894.7L1702.3 2902.8L1710.2 2910.7L1718 2918.5L1725.6 2926L1733 2933.4L1740.1 2940.5L1747 2947.3L1753.6 2953.9L1759.9 2960.1L1766 2966.1L1771.8 2971.9L1777.4 2977.5L1782.8 2982.9L1788 2988L1793 2993L1797.7 2997.7L1802.3 3002.2L1806.6 3006.6L1810.8 3010.7L1814.7 3014.7L1818.5 3018.4L1822.1 3022L1825.6 3025.5L1828.8 3028.7L1832 3031.9L1835 3034.9L1837.9 3037.7L1840.7 3040.4L1843.3 3043.1L1845.8 3045.6L1848.2 3048L1850.6 3050.3L1852.9 3052.6L1855.1 3054.8L1857.2 3056.9L1859.2 3059L1861.2 3060.9L1863.1 3062.8L1864.9 3064.6L1866.6 3066.3L1868.3 3068L1869.9 3069.6L1871.4 3071.1L1872.9 3072.6L1874.3 3073.9L1875.6 3075.3L1876.8 3076.5L1878 3077.7L1879.1 3078.7L1880.1 3079.7L1881 3080.7L1882 3081.6L1882.8 3082.5L1883.7 3083.3L1884.5 3084.1L1885.2 3084.8L1885.9 3085.6L1886.6 3086.2L1887.2 3086.8L1887.8 3087.4L1888.4 3088L1888.9 3088.5L1889.3 3089L1889.7 3089.4L1890.1 3089.8L1890.5 3090.1L1890.8 3090.4L1891.1 3090.8L1891.5 3091.1L1891.8 3091.4L1892.1 3091.7L1892.4 3092L1892.6 3092.3L1892.9 3092.5L1893.2 3092.8L1893.4 3093L1893.6 3093.3L1893.9 3093.5L1894.1 3093.8L1894.4 3094L1894.6 3094.2L1894.8 3094.5L1895.1 3094.7L1895.3 3094.9L1895.5 3095.2L1895.7 3095.4L1895.9 3095.6L1896.1 3095.7L1896.2 3095.9L1896.4 3096L1896.4 3096.1L1896.5 3096.2L1896.6 3096.2L1896.7 3096.3L1896.8 3096.4L1896.8 3096.5L1896.9 3096.5L1896.9 3096.6L1897 3096.6L1897 3096.7L1897.1 3096.7L1897.1 3096.7Z"/></clipPath><filter id="fb" filterUnits="userSpaceOnUse" x="590" y="2070" width="1340" height="1510"><feGaussianBlur stdDeviation="2.2"/></filter></defs>
<g clip-path="url(#locus)"><g filter="url(#fb)"><g transform="matrix(1 -0.551 0 1 0 0)"><rect x="683" y="2503" width="79" height="6.6" fill="url(#r0)"/><rect x="674" y="2509" width="101" height="6.6" fill="url(#r1)"/><rect x="668" y="2515" width="117" height="6.6" fill="url(#r2)"/><rect x="662" y="2521" width="132" height="6.6" fill="url(#r3)"/><rect x="658" y="2527" width="144" height="6.6" fill="url(#r4)"/><rect x="654" y="2533" width="155" height="6.6" fill="url(#r5)"/><rect x="651" y="2539" width="165" height="6.6" fill="url(#r6)"/><rect x="648" y="2545" width="175" height="6.6" fill="url(#r7)"/><rect x="645" y="2551" width="185" height="6.6" fill="url(#r8)"/><rect x="643" y="2557" width="193" height="6.6" fill="url(#r9)"/><rect x="640" y="2563" width="202" height="6.6" fill="url(#r10)"/><rect x="638" y="2569" width="211" height="6.6" fill="url(#r11)"/><rect x="636" y="2575" width="219" height="6.6" fill="url(#r12)"/><rect x="635" y="2581" width="225" height="6.6" fill="url(#r13)"/><rect x="633" y="2587" width="233" height="6.6" fill="url(#r14)"/><rect x="631" y="2593" width="241" height="6.6" fill="url(#r15)"/><rect x="630" y="2599" width="247" height="6.6" fill="url(#r16)"/><rect x="629" y="2605" width="254" height="6.6" fill="url(#r17)"/><rect x="627" y="2611" width="261" height="6.6" fill="url(#r18)"/><rect x="626" y="2617" width="268" height="6.6" fill="url(#r19)"/><rect x="625" y="2623" width="274" height="6.6" fill="url(#r20)"/><rect x="624" y="2629" width="281" height="6.6" fill="url(#r21)"/><rect x="623" y="2635" width="287" height="6.6" fill="url(#r22)"/><rect x="622" y="2641" width="293" height="6.6" fill="url(#r23)"/><rect x="621" y="2647" width="299" height="6.6" fill="url(#r24)"/><rect x="621" y="2653" width="304" height="6.6" fill="url(#r25)"/><rect x="620" y="2659" width="311" height="6.6" fill="url(#r26)"/><rect x="619" y="2665" width="317" height="6.6" fill="url(#r27)"/><rect x="619" y="2671" width="322" height="6.6" fill="url(#r28)"/><rect x="618" y="2677" width="328" height="6.6" fill="url(#r29)"/><rect x="618" y="2683" width="333" height="6.6" fill="url(#r30)"/><rect x="617" y="2689" width="339" height="6.6" fill="url(#r31)"/><rect x="617" y="2695" width="344" height="6.6" fill="url(#r32)"/><rect x="616" y="2701" width="350" height="6.6" fill="url(#r33)"/><rect x="616" y="2707" width="354" height="6.6" fill="url(#r34)"/><rect x="616" y="2713" width="359" height="6.6" fill="url(#r35)"/><rect x="615" y="2719" width="365" height="6.6" fill="url(#r36)"/><rect x="615" y="2725" width="370" height="6.6" fill="url(#r37)"/><rect x="615" y="2731" width="374" height="6.6" fill="url(#r38)"/><rect x="615" y="2737" width="379" height="6.6" fill="url(#r39)"/><rect x="614" y="2743" width="385" height="6.6" fill="url(#r40)"/><rect x="614" y="2749" width="389" height="6.6" fill="url(#r41)"/><rect x="614" y="2755" width="394" height="6.6" fill="url(#r42)"/><rect x="614" y="2761" width="399" height="6.6" fill="url(#r43)"/><rect x="614" y="2767" width="403" height="6.6" fill="url(#r44)"/><rect x="614" y="2773" width="408" height="6.6" fill="url(#r45)"/><rect x="614" y="2779" width="412" height="6.6" fill="url(#r46)"/><rect x="614" y="2785" width="417" height="6.6" fill="url(#r47)"/><rect x="614" y="2791" width="421" height="6.6" fill="url(#r48)"/><rect x="614" y="2797" width="426" height="6.6" fill="url(#r49)"/><rect x="614" y="2803" width="430" height="6.6" fill="url(#r50)"/><rect x="614" y="2809" width="435" height="6.6" fill="url(#r51)"/><rect x="614" y="2815" width="439" height="6.6" fill="url(#r52)"/><rect x="614" y="2821" width="443" height="6.6" fill="url(#r53)"/><rect x="614" y="2827" width="448" height="6.6" fill="url(#r54)"/><rect x="614" y="2833" width="452" height="6.6" fill="url(#r55)"/><rect x="614" y="2839" width="457" height="6.6" fill="url(#r56)"/><rect x="614" y="2845" width="461" height="6.6" fill="url(#r57)"/><rect x="614" y="2851" width="465" height="6.6" fill="url(#r58)"/><rect x="614" y="2857" width="469" height="6.6" fill="url(#r59)"/><rect x="615" y="2863" width="473" height="6.6" fill="url(#r60)"/><rect x="615" y="2869" width="477" height="6.6" fill="url(#r61)"/><rect x="615" y="2875" width="481" height="6.6" fill="url(#r62)"/><rect x="615" y="2881" width="485" height="6.6" fill="url(#r63)"/><rect x="615" y="2887" width="490" height="6.6" fill="url(#r64)"/><rect x="616" y="2893" width="493" height="6.6" fill="url(#r65)"/><rect x="616" y="2899" width="497" height="6.6" fill="url(#r66)"/><rect x="616" y="2905" width="501" height="6.6" fill="url(#r67)"/><rect x="617" y="2911" width="504" height="6.6" fill="url(#r68)"/><rect x="617" y="2917" width="509" height="6.6" fill="url(#r69)"/><rect x="617" y="2923" width="513" height="6.6" fill="url(#r70)"/><rect x="618" y="2929" width="516" height="6.6" fill="url(#r71)"/><rect x="618" y="2935" width="520" height="6.6" fill="url(#r72)"/><rect x="618" y="2941" width="524" height="6.6" fill="url(#r73)"/><rect x="619" y="2947" width="527" height="6.6" fill="url(#r74)"/><rect x="619" y="2953" width="531" height="6.6" fill="url(#r75)"/><rect x="620" y="2959" width="534" height="6.6" fill="url(#r76)"/><rect x="620" y="2965" width="539" height="6.6" fill="url(#r77)"/><rect x="620" y="2971" width="543" height="6.6" fill="url(#r78)"/><rect x="621" y="2977" width="546" height="6.6" fill="url(#r79)"/><rect x="621" y="2983" width="550" height="6.6" fill="url(#r80)"/><rect x="622" y="2989" width="553" height="6.6" fill="url(#r81)"/><rect x="622" y="2995" width="557" height="6.6" fill="url(#r82)"/><rect x="623" y="3001" width="560" height="6.6" fill="url(#r83)"/><rect x="623" y="3007" width="564" height="6.6" fill="url(#r84)"/><rect x="624" y="3013" width="567" height="6.6" fill="url(#r85)"/><rect x="624" y="3019" width="571" height="6.6" fill="url(#r86)"/><rect x="625" y="3025" width="574" height="6.6" fill="url(#r87)"/><rect x="626" y="3031" width="577" height="6.6" fill="url(#r88)"/><rect x="626" y="3037" width="581" height="6.6" fill="url(#r89)"/><rect x="627" y="3043" width="584" height="6.6" fill="url(#r90)"/><rect x="627" y="3049" width="588" height="6.6" fill="url(#r91)"/><rect x="628" y="3055" width="591" height="6.6" fill="url(#r92)"/><rect x="629" y="3061" width="594" height="6.6" fill="url(#r93)"/><rect x="629" y="3067" width="598" height="6.6" fill="url(#r94)"/><rect x="630" y="3073" width="601" height="6.6" fill="url(#r95)"/><rect x="630" y="3079" width="605" height="6.6" fill="url(#r96)"/><rect x="631" y="3085" width="608" height="6.6" fill="url(#r97)"/><rect x="632" y="3091" width="611" height="6.6" fill="url(#r98)"/><rect x="632" y="3097" width="615" height="6.6" fill="url(#r99)"/><rect x="633" y="3103" width="618" height="6.6" fill="url(#r100)"/><rect x="634" y="3109" width="621" height="6.6" fill="url(#r101)"/><rect x="634" y="3115" width="625" height="6.6" fill="url(#r102)"/><rect x="635" y="3121" width="628" height="6.6" fill="url(#r103)"/><rect x="636" y="3127" width="631" height="6.6" fill="url(#r104)"/><rect x="637" y="3133" width="634" height="6.6" fill="url(#r105)"/><rect x="637" y="3139" width="638" height="6.6" fill="url(#r106)"/><rect x="638" y="3145" width="641" height="6.6" fill="url(#r107)"/><rect x="639" y="3151" width="644" height="6.6" fill="url(#r108)"/><rect x="640" y="3157" width="647" height="6.6" fill="url(#r109)"/><rect x="640" y="3163" width="651" height="6.6" fill="url(#r110)"/><rect x="641" y="3169" width="653" height="6.6" fill="url(#r111)"/><rect x="642" y="3175" width="656" height="6.6" fill="url(#r112)"/><rect x="643" y="3181" width="659" height="6.6" fill="url(#r113)"/><rect x="644" y="3187" width="662" height="6.6" fill="url(#r114)"/><rect x="644" y="3193" width="666" height="6.6" fill="url(#r115)"/><rect x="645" y="3199" width="669" height="6.6" fill="url(#r116)"/><rect x="646" y="3205" width="672" height="6.6" fill="url(#r117)"/><rect x="647" y="3211" width="675" height="6.6" fill="url(#r118)"/><rect x="648" y="3217" width="678" height="6.6" fill="url(#r119)"/><rect x="649" y="3223" width="681" height="6.6" fill="url(#r120)"/><rect x="650" y="3229" width="684" height="6.6" fill="url(#r121)"/><rect x="650" y="3235" width="688" height="6.6" fill="url(#r122)"/><rect x="651" y="3241" width="691" height="6.6" fill="url(#r123)"/><rect x="652" y="3247" width="693" height="6.6" fill="url(#r124)"/><rect x="653" y="3253" width="696" height="6.6" fill="url(#r125)"/><rect x="654" y="3259" width="699" height="6.6" fill="url(#r126)"/><rect x="655" y="3265" width="702" height="6.6" fill="url(#r127)"/><rect x="656" y="3271" width="705" height="6.6" fill="url(#r128)"/><rect x="657" y="3277" width="708" height="6.6" fill="url(#r129)"/><rect x="658" y="3283" width="711" height="6.6" fill="url(#r130)"/><rect x="659" y="3289" width="714" height="6.6" fill="url(#r131)"/><rect x="660" y="3295" width="717" height="6.6" fill="url(#r132)"/><rect x="661" y="3301" width="720" height="6.6" fill="url(#r133)"/><rect x="662" y="3307" width="723" height="6.6" fill="url(#r134)"/><rect x="663" y="3313" width="725" height="6.6" fill="url(#r135)"/><rect x="664" y="3319" width="728" height="6.6" fill="url(#r136)"/><rect x="665" y="3325" width="731" height="6.6" fill="url(#r137)"/><rect x="666" y="3331" width="734" height="6.6" fill="url(#r138)"/><rect x="667" y="3337" width="737" height="6.6" fill="url(#r139)"/><rect x="668" y="3343" width="740" height="6.6" fill="url(#r140)"/><rect x="669" y="3349" width="743" height="6.6" fill="url(#r141)"/><rect x="670" y="3355" width="746" height="6.6" fill="url(#r142)"/><rect x="671" y="3361" width="749" height="6.6" fill="url(#r143)"/><rect x="672" y="3367" width="751" height="6.6" fill="url(#r144)"/><rect x="673" y="3373" width="754" height="6.6" fill="url(#r145)"/><rect x="674" y="3379" width="757" height="6.6" fill="url(#r146)"/><rect x="675" y="3385" width="760" height="6.6" fill="url(#r147)"/><rect x="676" y="3391" width="763" height="6.6" fill="url(#r148)"/><rect x="677" y="3397" width="766" height="6.6" fill="url(#r149)"/><rect x="678" y="3403" width="769" height="6.6" fill="url(#r150)"/><rect x="679" y="3409" width="772" height="6.6" fill="url(#r151)"/><rect x="681" y="3415" width="773" height="6.6" fill="url(#r152)"/><rect x="682" y="3421" width="776" height="6.6" fill="url(#r153)"/><rect x="683" y="3427" width="779" height="6.6" fill="url(#r154)"/><rect x="684" y="3433" width="782" height="6.6" fill="url(#r155)"/><rect x="685" y="3439" width="785" height="6.6" fill="url(#r156)"/><rect x="686" y="3445" width="788" height="6.6" fill="url(#r157)"/><rect x="687" y="3451" width="791" height="6.6" fill="url(#r158)"/><rect x="689" y="3457" width="793" height="6.6" fill="url(#r159)"/><rect x="690" y="3463" width="796" height="6.6" fill="url(#r160)"/><rect x="691" y="3469" width="798" height="6.6" fill="url(#r161)"/><rect x="692" y="3475" width="801" height="6.6" fill="url(#r162)"/><rect x="693" y="3481" width="804" height="6.6" fill="url(#r163)"/><rect x="695" y="3487" width="806" height="6.6" fill="url(#r164)"/><rect x="696" y="3493" width="809" height="6.6" fill="url(#r165)"/><rect x="697" y="3499" width="812" height="6.6" fill="url(#r166)"/><rect x="698" y="3505" width="815" height="6.6" fill="url(#r167)"/><rect x="699" y="3511" width="818" height="6.6" fill="url(#r168)"/><rect x="701" y="3517" width="819" height="6.6" fill="url(#r169)"/><rect x="702" y="3523" width="822" height="6.6" fill="url(#r170)"/><rect x="703" y="3529" width="825" height="6.6" fill="url(#r171)"/><rect x="705" y="3535" width="827" height="6.6" fill="url(#r172)"/><rect x="706" y="3541" width="830" height="6.6" fill="url(#r173)"/><rect x="707" y="3547" width="833" height="6.6" fill="url(#r174)"/><rect x="708" y="3553" width="836" height="6.6" fill="url(#r175)"/><rect x="710" y="3559" width="838" height="6.6" fill="url(#r176)"/><rect x="711" y="3565" width="840" height="6.6" fill="url(#r177)"/><rect x="712" y="3571" width="843" height="6.6" fill="url(#r178)"/><rect x="714" y="3577" width="845" height="6.6" fill="url(#r179)"/><rect x="715" y="3583" width="848" height="6.6" fill="url(#r180)"/><rect x="717" y="3589" width="850" height="6.6" fill="url(#r181)"/><rect x="718" y="3595" width="853" height="6.6" fill="url(#r182)"/><rect x="719" y="3601" width="856" height="6.6" fill="url(#r183)"/><rect x="721" y="3607" width="858" height="6.6" fill="url(#r184)"/><rect x="722" y="3613" width="860" height="6.6" fill="url(#r185)"/><rect x="724" y="3619" width="862" height="6.6" fill="url(#r186)"/><rect x="725" y="3625" width="865" height="6.6" fill="url(#r187)"/><rect x="727" y="3631" width="867" height="6.6" fill="url(#r188)"/><rect x="728" y="3637" width="870" height="6.6" fill="url(#r189)"/><rect x="730" y="3643" width="872" height="6.6" fill="url(#r190)"/><rect x="731" y="3649" width="875" height="6.6" fill="url(#r191)"/><rect x="733" y="3655" width="877" height="6.6" fill="url(#r192)"/><rect x="734" y="3661" width="880" height="6.6" fill="url(#r193)"/><rect x="736" y="3667" width="881" height="6.6" fill="url(#r194)"/><rect x="738" y="3673" width="883" height="6.6" fill="url(#r195)"/><rect x="739" y="3679" width="886" height="6.6" fill="url(#r196)"/><rect x="741" y="3685" width="888" height="6.6" fill="url(#r197)"/><rect x="743" y="3691" width="890" height="6.6" fill="url(#r198)"/><rect x="744" y="3697" width="893" height="6.6" fill="url(#r199)"/><rect x="746" y="3703" width="895" height="6.6" fill="url(#r200)"/><rect x="748" y="3709" width="897" height="6.6" fill="url(#r201)"/><rect x="749" y="3715" width="899" height="6.6" fill="url(#r202)"/><rect x="751" y="3721" width="901" height="6.6" fill="url(#r203)"/><rect x="753" y="3727" width="903" height="6.6" fill="url(#r204)"/><rect x="755" y="3733" width="905" height="6.6" fill="url(#r205)"/><rect x="756" y="3739" width="908" height="6.6" fill="url(#r206)"/><rect x="758" y="3745" width="910" height="6.6" fill="url(#r207)"/><rect x="760" y="3751" width="912" height="6.6" fill="url(#r208)"/><rect x="762" y="3757" width="914" height="6.6" fill="url(#r209)"/><rect x="764" y="3763" width="915" height="6.6" fill="url(#r210)"/><rect x="765" y="3769" width="918" height="6.6" fill="url(#r211)"/><rect x="767" y="3775" width="920" height="6.6" fill="url(#r212)"/><rect x="769" y="3781" width="922" height="6.6" fill="url(#r213)"/><rect x="771" y="3787" width="924" height="6.6" fill="url(#r214)"/><rect x="773" y="3793" width="926" height="6.6" fill="url(#r215)"/><rect x="775" y="3799" width="928" height="6.6" fill="url(#r216)"/><rect x="777" y="3805" width="930" height="6.6" fill="url(#r217)"/><rect x="779" y="3811" width="931" height="6.6" fill="url(#r218)"/><rect x="780" y="3817" width="934" height="6.6" fill="url(#r219)"/><rect x="782" y="3823" width="936" height="6.6" fill="url(#r220)"/><rect x="784" y="3829" width="938" height="6.6" fill="url(#r221)"/><rect x="786" y="3835" width="940" height="6.6" fill="url(#r222)"/><rect x="788" y="3841" width="942" height="6.6" fill="url(#r223)"/><rect x="790" y="3847" width="944" height="6.6" fill="url(#r224)"/><rect x="792" y="3853" width="946" height="6.6" fill="url(#r225)"/><rect x="795" y="3859" width="946" height="6.6" fill="url(#r226)"/><rect x="797" y="3865" width="948" height="6.6" fill="url(#r227)"/><rect x="799" y="3871" width="950" height="6.6" fill="url(#r228)"/><rect x="801" y="3877" width="952" height="6.6" fill="url(#r229)"/><rect x="803" y="3883" width="954" height="6.6" fill="url(#r230)"/><rect x="806" y="3889" width="955" height="6.6" fill="url(#r231)"/><rect x="808" y="3895" width="957" height="6.6" fill="url(#r232)"/><rect x="810" y="3901" width="959" height="6.6" fill="url(#r233)"/><rect x="813" y="3907" width="960" height="6.6" fill="url(#r234)"/><rect x="815" y="3913" width="961" height="6.6" fill="url(#r235)"/><rect x="817" y="3919" width="963" height="6.6" fill="url(#r236)"/><rect x="820" y="3925" width="964" height="6.6" fill="url(#r237)"/><rect x="822" y="3931" width="966" height="6.6" fill="url(#r238)"/><rect x="825" y="3937" width="967" height="6.6" fill="url(#r239)"/><rect x="828" y="3943" width="968" height="6.6" fill="url(#r240)"/><rect x="830" y="3949" width="970" height="6.6" fill="url(#r241)"/><rect x="833" y="3955" width="971" height="6.6" fill="url(#r242)"/><rect x="836" y="3961" width="972" height="6.6" fill="url(#r243)"/><rect x="839" y="3967" width="972" height="6.6" fill="url(#r244)"/><rect x="842" y="3973" width="973" height="6.6" fill="url(#r245)"/><rect x="845" y="3979" width="974" height="6.6" fill="url(#r246)"/><rect x="849" y="3985" width="974" height="6.6" fill="url(#r247)"/><rect x="852" y="3991" width="975" height="6.6" fill="url(#r248)"/><rect x="856" y="3997" width="975" height="6.6" fill="url(#r249)"/><rect x="859" y="4003" width="976" height="6.6" fill="url(#r250)"/><rect x="863" y="4009" width="976" height="6.6" fill="url(#r251)"/><rect x="867" y="4015" width="975" height="6.6" fill="url(#r252)"/><rect x="871" y="4021" width="975" height="6.6" fill="url(#r253)"/><rect x="875" y="4027" width="975" height="6.6" fill="url(#r254)"/><rect x="879" y="4033" width="975" height="6.6" fill="url(#r255)"/><rect x="884" y="4039" width="974" height="6.6" fill="url(#r256)"/><rect x="888" y="4045" width="974" height="6.6" fill="url(#r257)"/><rect x="892" y="4051" width="974" height="6.6" fill="url(#r258)"/><rect x="896" y="4057" width="974" height="6.6" fill="url(#r259)"/><rect x="900" y="4063" width="973" height="6.6" fill="url(#r260)"/><rect x="905" y="4069" width="972" height="6.6" fill="url(#r261)"/><rect x="949" y="4075" width="932" height="6.6" fill="url(#r262)"/><rect x="1018" y="4081" width="867" height="6.6" fill="url(#r263)"/><rect x="1087" y="4087" width="802" height="6.6" fill="url(#r264)"/><rect x="1156" y="4093" width="737" height="6.6" fill="url(#r265)"/><rect x="1226" y="4099" width="671" height="6.6" fill="url(#r266)"/><rect x="1295" y="4105" width="606" height="6.6" fill="url(#r267)"/><rect x="1364" y="4111" width="540" height="6.6" fill="url(#r268)"/><rect x="1433" y="4117" width="475" height="6.6" fill="url(#r269)"/><rect x="1502" y="4123" width="409" height="6.6" fill="url(#r270)"/><rect x="1572" y="4129" width="339" height="6.6" fill="url(#r271)"/><rect x="1641" y="4135" width="270" height="6.6" fill="url(#r272)"/><rect x="1710" y="4141" width="201" height="6.6" fill="url(#r273)"/><rect x="1779" y="4147" width="132" height="6.6" fill="url(#r274)"/><rect x="1848" y="4153" width="63" height="6.6" fill="url(#r275)"/></g></g></g>
<path d="M924.2 3548.4L930.5 3569.5M923.6 3548.5L922.3 3570.4M922.8 3548.7L929.3 3569.7M921.5 3548.7L921.7 3570.7M919.5 3548.1L909.2 3567.6M915.1 3545L901.3 3562.2M907.3 3538.2L892.5 3554.4M893.9 3526.3L879.4 3542.8M871.8 3505.5L855.8 3520.5M857.2 3487.8L845.8 3496M837.4 3456.7L818.3 3467.5M812.2 3406.3L799.4 3412M780.4 3326.8L759.8 3334.3M741.2 3208.7L727.8 3212.6M700.8 3045.2L679.3 3049.8M662.7 2841L648.9 2843.1M636.2 2622.8L614.3 2624.7M628.7 2420.9L614.7 2420.6M646.1 2255.4L624.6 2250.7M689.4 2148.2L678.2 2139.7M751 2110.4L748.2 2088.5M820.1 2123.5L825.2 2110.5M890.5 2158.8L901.5 2139.8M956.7 2200.9L964.7 2189.4M1020.5 2248.2L1034.1 2231M1083.3 2300.3L1092.4 2289.7M1145.4 2355.8L1160.3 2339.6M1207.5 2413.9L1217.1 2403.8M1269.5 2473.6L1284.8 2457.8M1331.4 2534L1341.2 2524M1392.7 2594.6L1408.2 2578.9M1452.9 2654.4L1462.8 2644.5M1511.4 2712.8L1526.9 2697.2M1567.5 2768.6L1577.3 2758.6M1620.2 2821L1635.7 2805.4M1668.4 2869.1L1678.3 2859.2M1710.2 2910.7L1725.7 2895.1M1747 2947.3L1756.9 2937.4M1777.4 2977.5L1792.9 2961.9M1802.3 3002.2L1812.2 2992.3M1822.1 3022L1837.6 3006.4M1850.6 3050.3L1866.1 3034.7M1869.9 3069.6L1885.4 3054M1882 3081.6L1897.5 3066M1888.9 3088.5L1904.4 3072.9M1892.4 3092L1907.9 3076.4M1894.8 3094.5L1910.4 3078.9M1896.5 3096.2L1912.1 3080.6M1897.1 3096.7L1912.6 3081.1" stroke="#000" stroke-width="3.6" fill="none"/>
<path d="M924.2 3548.4L924.1 3548.4L924.1 3548.4L924.1 3548.4L924 3548.3L924 3548.4L923.9 3548.4L923.9 3548.4L923.8 3548.5L923.7 3548.5L923.6 3548.5L923.6 3548.5L923.5 3548.4L923.4 3548.4L923.3 3548.4L923.2 3548.5L923.1 3548.5L923.1 3548.6L923 3548.6L922.9 3548.6L922.8 3548.7L922.7 3548.7L922.7 3548.7L922.5 3548.7L922.4 3548.7L922.3 3548.7L922.1 3548.7L922 3548.7L921.8 3548.7L921.7 3548.7L921.5 3548.7L921.4 3548.7L921.2 3548.7L921 3548.7L920.8 3548.6L920.7 3548.6L920.5 3548.6L920.3 3548.5L920.1 3548.4L919.8 3548.3L919.5 3548.1L919.1 3548L918.8 3547.7L918.4 3547.5L918 3547.2L917.6 3547L917.1 3546.6L916.7 3546.3L916.2 3545.9L915.7 3545.5L915.1 3545L914.5 3544.5L913.8 3544L913.1 3543.4L912.4 3542.8L911.6 3542.2L910.9 3541.4L910.1 3540.7L909.2 3539.9L908.3 3539L907.3 3538.2L906.3 3537.2L905.3 3536.3L904.1 3535.3L902.9 3534.2L901.6 3533.1L900.2 3531.9L898.8 3530.6L897.2 3529.2L895.6 3527.8L893.9 3526.3L892.1 3524.7L890.2 3523.1L888.2 3521.3L886.2 3519.5L884 3517.5L881.8 3515.4L879.4 3513.2L877 3510.8L874.5 3508.2L871.8 3505.5L869.1 3502.5L866.4 3499.4L863.4 3495.9L860.4 3492.1L857.2 3487.8L853.7 3482.9L850 3477.4L846 3471.2L841.8 3464.3L837.4 3456.7L832.8 3448.4L828 3439.3L823 3429.3L817.7 3418.4L812.2 3406.3L806.4 3393.1L800.4 3378.5L794 3362.7L787.4 3345.4L780.4 3326.8L773.1 3306.6L765.5 3284.8L757.6 3261.3L749.5 3236L741.2 3208.7L733.1 3179.7L724.9 3148.8L716.9 3116.1L708.8 3081.6L700.8 3045.2L692.7 3007L684.8 2967.3L677.1 2926.2L669.7 2884L662.7 2841L656.2 2797.5L650.2 2753.8L644.9 2710L640.2 2666.2L636.2 2622.8L632.9 2580.1L630.5 2538.4L628.9 2497.9L628.3 2458.7L628.7 2420.9L630.1 2384.3L632.4 2349.2L635.9 2315.9L640.4 2284.5L646.1 2255.4L652.8 2228.7L660.6 2204.3L669.3 2182.7L679 2163.9L689.4 2148.2L700.7 2135.4L712.6 2125.3L725 2117.9L737.8 2113L751 2110.4L764.4 2109.9L778.1 2111.2L792 2114.2L806 2118.4L820.1 2123.5L834.3 2129.5L848.6 2136.2L862.7 2143.4L876.7 2151L890.5 2158.8L904.1 2166.9L917.4 2175L930.7 2183.4L943.7 2192L956.7 2200.9L969.6 2209.9L982.4 2219.2L995.2 2228.7L1007.9 2238.4L1020.5 2248.2L1033.1 2258.3L1045.7 2268.6L1058.2 2279L1070.8 2289.6L1083.3 2300.3L1095.7 2311.2L1108.2 2322.2L1120.6 2333.3L1133 2344.5L1145.4 2355.8L1157.9 2367.3L1170.3 2378.8L1182.7 2390.4L1195.1 2402.1L1207.5 2413.9L1219.9 2425.7L1232.3 2437.6L1244.7 2449.6L1257.1 2461.6L1269.5 2473.6L1281.9 2485.6L1294.3 2497.7L1306.7 2509.8L1319 2521.9L1331.4 2534L1343.7 2546.2L1356 2558.3L1368.2 2570.4L1380.5 2582.5L1392.7 2594.6L1404.8 2606.6L1416.9 2618.6L1429 2630.6L1441 2642.6L1452.9 2654.4L1464.8 2666.3L1476.6 2678L1488.3 2689.7L1499.9 2701.3L1511.4 2712.8L1522.9 2724.2L1534.2 2735.4L1545.4 2746.6L1556.5 2757.6L1567.5 2768.6L1578.3 2779.3L1589 2790L1599.6 2800.4L1609.9 2810.8L1620.2 2821L1630.2 2831L1640.1 2840.9L1649.8 2850.5L1659.2 2859.9L1668.4 2869.1L1677.2 2877.9L1685.8 2886.4L1694.2 2894.7L1702.3 2902.8L1710.2 2910.7L1718 2918.5L1725.6 2926L1733 2933.4L1740.1 2940.5L1747 2947.3L1753.6 2953.9L1759.9 2960.1L1766 2966.1L1771.8 2971.9L1777.4 2977.5L1782.8 2982.9L1788 2988L1793 2993L1797.7 2997.7L1802.3 3002.2L1806.6 3006.6L1810.8 3010.7L1814.7 3014.7L1818.5 3018.4L1822.1 3022L1825.6 3025.5L1828.8 3028.7L1832 3031.9L1835 3034.9L1837.9 3037.7L1840.7 3040.4L1843.3 3043.1L1845.8 3045.6L1848.2 3048L1850.6 3050.3L1852.9 3052.6L1855.1 3054.8L1857.2 3056.9L1859.2 3059L1861.2 3060.9L1863.1 3062.8L1864.9 3064.6L1866.6 3066.3L1868.3 3068L1869.9 3069.6L1871.4 3071.1L1872.9 3072.6L1874.3 3073.9L1875.6 3075.3L1876.8 3076.5L1878 3077.7L1879.1 3078.7L1880.1 3079.7L1881 3080.7L1882 3081.6L1882.8 3082.5L1883.7 3083.3L1884.5 3084.1L1885.2 3084.8L1885.9 3085.6L1886.6 3086.2L1887.2 3086.8L1887.8 3087.4L1888.4 3088L1888.9 3088.5L1889.3 3089L1889.7 3089.4L1890.1 3089.8L1890.5 3090.1L1890.8 3090.4L1891.1 3090.8L1891.5 3091.1L1891.8 3091.4L1892.1 3091.7L1892.4 3092L1892.6 3092.3L1892.9 3092.5L1893.2 3092.8L1893.4 3093L1893.6 3093.3L1893.9 3093.5L1894.1 3093.8L1894.4 3094L1894.6 3094.2L1894.8 3094.5L1895.1 3094.7L1895.3 3094.9L1895.5 3095.2L1895.7 3095.4L1895.9 3095.6L1896.1 3095.7L1896.2 3095.9L1896.4 3096L1896.4 3096.1L1896.5 3096.2L1896.6 3096.2L1896.7 3096.3L1896.8 3096.4L1896.8 3096.5L1896.9 3096.5L1896.9 3096.6L1897 3096.6L1897 3096.7L1897.1 3096.7L1897.1 3096.7Z" stroke="#000" stroke-width="4" fill="none" stroke-linejoin="round"/>
<g font-family='"Liberation Serif", "Noto Serif CJK SC", serif' font-size="58" fill="#111">
<g text-anchor="middle">
<text x="622" y="3624">0.0</text>
<text x="795.5" y="3624">0.1</text>
<text x="969.1" y="3624">0.2</text>
<text x="1142.7" y="3624">0.3</text>
<text x="1316.2" y="3624">0.4</text>
<text x="1489.8" y="3624">0.5</text>
<text x="1663.3" y="3624">0.6</text>
<text x="1836.9" y="3624">0.7</text>
<text x="2010.4" y="3624">0.8</text>
</g><g text-anchor="end">
<text x="605" y="3576">0.0</text>
<text x="605" y="3402.5">0.1</text>
<text x="605" y="3229">0.2</text>
<text x="605" y="3055.5">0.3</text>
<text x="605" y="2882">0.4</text>
<text x="605" y="2708.5">0.5</text>
<text x="605" y="2535">0.6</text>
<text x="605" y="2361.5">0.7</text>
<text x="605" y="2188">0.8</text>
<text x="605" y="2014.5">0.9</text>
</g>
<text x="1399" y="3645" text-anchor="middle" font-size="62">x</text>
<text x="521" y="2780" text-anchor="middle" font-size="62">y</text>
</g>
<g font-family='"Liberation Serif", "Noto Serif CJK SC", serif' font-size="57" fill="#0404f6" text-anchor="middle">
<text x="746" y="2070.5">520</text>
<text x="1073" y="2215">540</text>
<text x="1325" y="2438">560</text>
<text x="1569" y="2684">580</text>
<text x="1768" y="2882.5">600</text>
<text x="1879" y="2992.5">620</text>
<text x="1967" y="3113.5">700</text>
<text x="989.5" y="3578">380</text>
<text x="767.5" y="3489">470</text>
<text x="709" y="3356">480</text>
<text x="662" y="3097">490</text>
<text x="561" y="2644">500</text>
<text x="801.5" y="3553.5" font-size="63">460</text>
</g>
<g font-family='"Liberation Serif", "Noto Serif CJK SC", serif' font-size="70" fill="#0a0a0a">
<text y="2064"><tspan x="1648">1</tspan><tspan x="1682">：</tspan><tspan x="1754.5">THF</tspan></text>
<text y="2150.8"><tspan x="1648">2</tspan><tspan x="1682">：</tspan><tspan x="1754.5">DMF</tspan></text>
<text y="2237.6"><tspan x="1648">3</tspan><tspan x="1682">：</tspan><tspan x="1754.5">Acetone</tspan></text>
<text y="2324.4"><tspan x="1648">4</tspan><tspan x="1682">：</tspan><tspan x="1754.5">Ethanol</tspan></text>
<text y="2411.2"><tspan x="1648">5</tspan><tspan x="1682">：</tspan><tspan x="1754.5">Water</tspan></text>
</g>
<text x="1270" y="2174.5" text-anchor="middle" font-family='"Liberation Serif", "Noto Serif CJK SC", serif' font-weight="bold" font-size="180">d</text>
<g fill="#000" stroke="#f7b9b9" stroke-width="4.2">
<circle cx="887" cy="3328" r="8"/>
<circle cx="892" cy="3377" r="8"/>
<circle cx="898" cy="3396" r="8"/>
<circle cx="894" cy="3417" r="8"/>
</g>
<g font-family='"Liberation Serif", "Noto Serif CJK SC", serif' font-weight="bold" font-size="66" fill="#000" text-anchor="middle">
<text x="917.5" y="3339.5">5</text>
<text x="859" y="3392">4</text>
<text x="934" y="3403">3</text>
<text x="864" y="3452.5">1</text>
<text x="925" y="3452.5">2</text>
</g>
<text x="1624" y="3403" text-anchor="middle" font-family='"Liberation Sans", sans-serif' font-weight="bold" font-size="44">x</text>
</g>
<g id="chart-a">
<g fill="none" stroke-width="6.8" stroke-linejoin="round" stroke-linecap="round">
<path stroke="#515151" d="M581.8 1625.6C673.2 1625.5 1038.0 1625.2 1130.0 1625.1C1131.6 1625.1 1132.3 1625.0 1133.5 1625.0C1134.7 1625.0 1135.8 1624.9 1137.0 1624.9C1138.2 1624.8 1139.3 1624.7 1140.5 1624.6C1141.7 1624.5 1142.8 1624.4 1144.0 1624.2C1145.2 1624.1 1146.3 1623.9 1147.5 1623.6C1148.7 1623.3 1149.8 1623.0 1151.0 1622.5C1152.2 1622.0 1153.3 1621.5 1154.5 1620.8C1155.7 1620.1 1156.8 1619.3 1158.0 1618.3C1159.2 1617.2 1160.3 1616.0 1161.5 1614.5C1162.7 1612.9 1163.8 1611.2 1165.0 1609.0C1166.2 1606.8 1167.3 1604.3 1168.5 1601.4C1169.7 1598.4 1170.8 1595.1 1172.0 1591.2C1173.2 1587.3 1174.3 1582.9 1175.5 1578.0C1176.7 1573.0 1177.8 1567.5 1179.0 1561.5C1180.2 1555.4 1181.3 1548.8 1182.5 1541.7C1183.7 1534.6 1184.8 1526.9 1186.0 1518.9C1187.2 1510.9 1188.3 1502.3 1189.5 1493.7C1190.7 1485.2 1191.8 1476.1 1193.0 1467.4C1194.2 1458.7 1195.3 1449.7 1196.5 1441.4C1197.7 1433.1 1198.8 1424.9 1200.0 1417.7C1201.2 1410.5 1202.3 1403.8 1203.5 1398.3C1204.7 1392.7 1205.8 1388.1 1207.0 1384.5C1208.2 1381.0 1209.3 1378.5 1210.5 1376.9C1211.6 1375.4 1212.8 1374.7 1214.0 1375.1C1215.2 1375.4 1216.4 1376.9 1217.5 1379.0C1218.7 1381.3 1219.8 1384.7 1221.0 1389.0C1222.2 1393.3 1223.3 1398.8 1224.5 1404.9C1225.7 1411.1 1226.8 1418.4 1228.0 1425.9C1229.2 1433.4 1230.3 1441.8 1231.5 1450.1C1232.7 1458.3 1233.8 1467.0 1235.0 1475.4C1236.2 1483.7 1237.3 1492.1 1238.5 1500.0C1239.7 1507.9 1240.8 1515.6 1242.0 1522.7C1243.2 1529.8 1244.3 1536.4 1245.5 1542.5C1246.7 1548.6 1247.8 1554.1 1249.0 1559.0C1250.2 1564.0 1251.3 1568.4 1252.5 1572.3C1253.7 1576.1 1254.8 1579.5 1256.0 1582.4C1257.2 1585.3 1258.3 1587.7 1259.5 1589.6C1260.7 1591.6 1261.8 1593.1 1263.0 1594.1C1264.2 1595.1 1265.3 1595.6 1266.5 1595.7C1267.7 1595.9 1268.8 1595.4 1270.0 1594.7C1271.2 1594.0 1272.3 1592.9 1273.5 1591.5C1274.7 1590.2 1275.8 1588.5 1277.0 1586.7C1278.2 1584.9 1279.3 1582.9 1280.5 1580.8C1281.7 1578.6 1282.8 1576.4 1284.0 1573.9C1285.2 1571.5 1286.3 1568.9 1287.5 1566.1C1288.7 1563.3 1289.8 1560.4 1291.0 1557.2C1292.2 1554.0 1293.3 1550.6 1294.5 1547.0C1295.7 1543.3 1297.1 1538.5 1298.0 1535.3C1298.9 1532.1 1299.2 1531.3 1300.0 1528.0C1301.3 1522.6 1304.0 1512.0 1306.0 1502.9C1308.0 1493.7 1310.0 1483.7 1312.0 1473.1C1314.0 1462.4 1316.0 1450.9 1318.0 1438.8C1320.0 1426.8 1322.0 1414.0 1324.0 1400.9C1326.0 1387.7 1328.0 1374.0 1330.0 1360.1C1332.0 1346.3 1334.1 1332.0 1336.2 1317.7C1338.2 1303.4 1340.3 1288.9 1342.4 1274.4C1344.4 1259.9 1346.5 1245.3 1348.5 1230.6C1350.6 1215.9 1352.7 1201.2 1354.7 1186.2C1356.8 1171.3 1358.8 1156.2 1360.9 1140.8C1363.0 1125.4 1365.0 1109.8 1367.1 1093.9C1369.1 1077.9 1371.2 1061.6 1373.2 1045.1C1375.2 1028.6 1377.2 1011.7 1379.2 994.8C1381.2 978.0 1383.2 960.8 1385.2 943.9C1387.2 927.0 1389.2 910.0 1391.2 893.6C1393.2 877.3 1395.2 861.0 1397.2 845.6C1399.2 830.2 1401.2 815.2 1403.2 801.1C1405.2 787.0 1407.2 773.6 1409.2 761.1C1411.2 748.6 1413.2 736.9 1415.2 726.0C1417.2 715.1 1419.2 705.1 1421.2 695.8C1423.2 686.4 1425.2 677.9 1427.2 670.0C1429.2 662.2 1431.2 655.0 1433.2 648.4C1435.2 641.8 1437.0 635.9 1439.0 630.5C1440.9 625.2 1442.8 620.4 1444.7 616.2C1446.6 612.0 1448.6 608.4 1450.5 605.3C1452.4 602.3 1454.3 599.8 1456.2 598.0C1458.2 596.2 1460.0 594.9 1462.0 594.3C1464.0 593.7 1466.0 593.7 1468.0 594.3C1470.0 594.9 1472.0 596.1 1474.0 597.9C1476.0 599.7 1478.0 602.1 1480.0 605.0C1482.0 607.9 1484.0 611.3 1486.0 615.2C1488.0 619.1 1490.0 623.5 1492.0 628.3C1494.0 633.1 1496.0 638.3 1498.0 643.8C1500.0 649.3 1502.0 655.3 1504.0 661.4C1506.0 667.5 1508.0 674.0 1510.0 680.7C1512.0 687.3 1514.0 694.2 1516.0 701.2C1518.0 708.2 1520.0 715.5 1522.0 722.8C1524.0 730.1 1526.0 737.6 1528.0 745.2C1530.0 752.7 1532.0 760.4 1534.0 768.1C1536.0 775.8 1538.0 783.6 1540.0 791.4C1542.0 799.2 1544.0 807.1 1546.0 815.0C1548.0 822.9 1550.0 830.9 1552.0 838.8C1554.0 846.8 1556.0 854.8 1558.0 862.8C1560.0 870.8 1562.0 878.9 1564.0 886.9C1566.0 895.0 1568.0 903.1 1570.0 911.1C1572.0 919.2 1574.0 927.3 1576.0 935.4C1578.0 943.5 1580.0 951.6 1582.0 959.7C1584.0 967.8 1586.0 975.9 1588.0 984.0C1590.0 992.1 1592.0 1000.2 1594.0 1008.3C1596.0 1016.4 1598.0 1024.4 1600.0 1032.5C1602.0 1040.5 1604.0 1048.5 1606.0 1056.5C1608.0 1064.4 1610.0 1072.4 1612.0 1080.2C1614.0 1088.1 1616.0 1095.9 1618.0 1103.7C1620.0 1111.5 1622.0 1119.2 1624.0 1126.8C1626.0 1134.4 1628.0 1142.0 1630.0 1149.4C1632.0 1156.9 1634.0 1164.3 1636.0 1171.6C1638.0 1178.8 1640.0 1186.0 1642.0 1193.1C1644.0 1200.2 1646.0 1207.1 1648.0 1214.0C1650.0 1220.8 1652.0 1227.6 1654.0 1234.2C1656.0 1240.8 1658.0 1247.3 1660.0 1253.6C1662.0 1260.0 1664.0 1266.3 1666.0 1272.4C1668.0 1278.5 1670.0 1284.5 1672.0 1290.3C1674.0 1296.2 1676.0 1301.9 1678.0 1307.5C1680.0 1313.1 1682.0 1318.6 1684.0 1324.0C1686.0 1329.3 1688.0 1334.6 1690.0 1339.7C1692.0 1344.8 1694.0 1349.8 1696.0 1354.8C1698.0 1359.7 1700.0 1364.5 1702.0 1369.2C1704.0 1373.9 1706.0 1378.5 1708.0 1383.1C1710.0 1387.6 1712.0 1392.1 1714.0 1396.5C1716.0 1400.9 1718.0 1405.2 1720.0 1409.5C1722.0 1413.7 1724.0 1417.9 1726.0 1422.0C1728.0 1426.1 1730.0 1430.1 1732.0 1434.0C1734.0 1437.9 1736.0 1441.8 1738.0 1445.5C1740.0 1449.2 1742.0 1452.8 1744.0 1456.2C1746.0 1459.7 1748.0 1463.0 1750.0 1466.2C1752.0 1469.4 1754.0 1472.4 1756.0 1475.3C1758.0 1478.2 1760.0 1480.9 1762.0 1483.6C1764.0 1486.2 1766.0 1488.7 1768.0 1491.1C1770.0 1493.6 1772.0 1495.9 1774.0 1498.1C1776.0 1500.4 1777.2 1501.8 1780.0 1504.7C1784.0 1508.8 1792.0 1517.2 1798.0 1523.0C1804.0 1528.9 1810.0 1534.6 1816.0 1539.7C1822.0 1544.8 1828.0 1549.5 1834.0 1553.7C1840.0 1558.0 1846.0 1561.7 1852.0 1565.2C1858.0 1568.8 1864.0 1572.0 1870.0 1575.0C1876.0 1578.0 1882.0 1580.7 1888.0 1583.3C1894.0 1585.8 1900.0 1588.0 1906.0 1590.1C1912.0 1592.2 1918.0 1594.0 1924.0 1595.7C1930.0 1597.4 1936.0 1598.8 1942.0 1600.2C1948.0 1601.6 1954.0 1602.8 1960.0 1603.9C1966.0 1605.0 1972.0 1606.0 1978.0 1606.9C1984.0 1607.8 1990.0 1608.7 1996.0 1609.5C2002.0 1610.2 2008.0 1610.9 2014.0 1611.6C2020.0 1612.3 2026.0 1612.9 2032.0 1613.5C2038.0 1614.1 2044.0 1614.6 2050.0 1615.1C2056.0 1615.6 2062.0 1616.1 2068.0 1616.5C2074.0 1617.0 2080.0 1617.4 2086.0 1617.8C2092.0 1618.2 2098.0 1618.6 2104.0 1618.9C2110.0 1619.3 2116.0 1619.6 2122.0 1619.9C2128.0 1620.2 2134.0 1620.5 2140.0 1620.8C2146.0 1621.1 2152.0 1621.3 2158.0 1621.5C2164.0 1621.8 2170.0 1622.0 2176.0 1622.2C2182.0 1622.4 2188.0 1622.6 2194.0 1622.8C2200.0 1622.9 2206.0 1623.1 2212.0 1623.2C2218.0 1623.4 2224.0 1623.5 2230.0 1623.6C2236.0 1623.8 2242.0 1623.9 2248.0 1624.0C2254.0 1624.1 2260.0 1624.2 2266.0 1624.3C2272.0 1624.3 2278.0 1624.4 2284.0 1624.5C2290.0 1624.6 2295.0 1624.6 2302.0 1624.7C2309.0 1624.7 2322.0 1624.8 2326.0 1624.9"/>
<path stroke="#F14040" d="M581.8 1625.6C673.2 1625.5 1038.0 1625.3 1130.0 1625.2C1131.6 1625.2 1132.3 1625.2 1133.5 1625.2C1134.7 1625.2 1135.8 1625.2 1137.0 1625.1C1138.2 1625.1 1139.3 1625.1 1140.5 1625.1C1141.7 1625.0 1142.8 1625.0 1144.0 1625.0C1145.2 1624.9 1146.3 1624.9 1147.5 1624.8C1148.7 1624.7 1149.8 1624.7 1151.0 1624.5C1152.2 1624.4 1153.3 1624.3 1154.5 1624.2C1155.7 1624.0 1156.8 1623.8 1158.0 1623.6C1159.2 1623.3 1160.3 1623.1 1161.5 1622.7C1162.7 1622.4 1163.8 1622.0 1165.0 1621.6C1166.2 1621.1 1167.3 1620.6 1168.5 1619.9C1169.7 1619.3 1170.8 1618.6 1172.0 1617.8C1173.2 1617.0 1174.3 1616.1 1175.5 1615.0C1176.7 1614.0 1177.8 1612.9 1179.0 1611.6C1180.2 1610.3 1181.3 1609.0 1182.5 1607.5C1183.7 1606.0 1184.8 1604.4 1186.0 1602.7C1187.2 1601.1 1188.3 1599.3 1189.5 1597.4C1190.7 1595.6 1191.8 1593.7 1193.0 1591.8C1194.2 1590.0 1195.3 1588.0 1196.5 1586.2C1197.7 1584.3 1198.8 1582.5 1200.0 1580.7C1201.2 1579.0 1202.3 1577.3 1203.5 1575.9C1204.7 1574.4 1205.8 1573.0 1207.0 1571.8C1208.2 1570.7 1209.3 1569.7 1210.5 1568.9C1211.7 1568.2 1212.8 1567.6 1214.0 1567.3C1215.2 1567.0 1216.3 1566.9 1217.5 1566.9C1218.7 1567.0 1219.8 1567.3 1221.0 1567.8C1222.2 1568.2 1223.3 1568.9 1224.5 1569.6C1225.7 1570.4 1226.8 1571.3 1228.0 1572.2C1229.2 1573.1 1230.3 1574.1 1231.5 1575.1C1232.7 1576.0 1233.8 1577.0 1235.0 1577.9C1236.2 1578.8 1237.3 1579.7 1238.5 1580.3C1239.7 1581.0 1240.8 1581.7 1242.0 1582.1C1243.2 1582.5 1244.3 1582.7 1245.5 1582.8C1246.7 1582.9 1247.8 1582.7 1249.0 1582.4C1250.2 1582.1 1251.3 1581.5 1252.5 1580.7C1253.7 1580.0 1254.8 1579.0 1256.0 1577.8C1257.2 1576.6 1258.3 1575.1 1259.5 1573.5C1260.7 1571.8 1261.8 1570.0 1263.0 1567.9C1264.2 1565.8 1265.3 1563.4 1266.5 1560.9C1267.7 1558.3 1268.8 1555.6 1270.0 1552.5C1271.2 1549.5 1272.3 1546.3 1273.5 1542.8C1274.7 1539.2 1275.8 1535.5 1277.0 1531.4C1278.2 1527.4 1279.3 1523.1 1280.5 1518.4C1281.7 1513.8 1282.8 1508.9 1284.0 1503.7C1285.2 1498.5 1286.3 1493.0 1287.5 1487.3C1288.7 1481.5 1289.8 1475.5 1291.0 1469.2C1292.2 1463.0 1293.3 1456.5 1294.5 1449.9C1295.7 1443.4 1297.1 1435.1 1298.0 1429.8C1298.9 1424.5 1299.1 1423.4 1300.0 1418.1C1301.3 1410.4 1304.0 1394.7 1306.0 1383.3C1308.0 1371.9 1310.0 1360.7 1312.0 1349.6C1314.0 1338.4 1316.0 1327.7 1318.0 1316.5C1320.0 1305.2 1322.0 1294.0 1324.0 1282.2C1326.0 1270.4 1328.0 1258.2 1330.0 1245.6C1332.0 1233.0 1334.0 1219.9 1336.0 1206.6C1338.0 1193.4 1340.0 1179.7 1342.0 1166.1C1344.0 1152.6 1346.0 1138.9 1348.0 1125.5C1350.0 1112.2 1352.0 1098.8 1354.0 1085.9C1356.0 1073.0 1358.0 1060.3 1360.0 1048.1C1362.0 1035.8 1364.0 1024.0 1366.0 1012.6C1368.0 1001.3 1370.0 990.3 1372.0 980.0C1374.0 969.6 1376.0 959.7 1378.0 950.4C1380.0 941.1 1382.0 932.3 1384.0 924.1C1386.0 915.9 1388.0 908.3 1390.0 901.1C1392.0 894.0 1394.0 887.4 1396.0 881.4C1398.0 875.3 1400.0 869.8 1402.0 864.7C1404.0 859.6 1406.0 855.1 1408.0 851.0C1410.0 846.8 1412.0 843.2 1414.0 840.0C1416.0 836.9 1418.0 834.2 1420.0 832.0C1422.0 829.8 1424.0 828.0 1426.0 826.8C1428.0 825.7 1430.0 825.0 1432.0 824.8C1434.0 824.6 1436.0 825.0 1438.0 825.7C1440.0 826.5 1442.0 827.8 1444.0 829.5C1446.0 831.1 1448.0 833.2 1450.0 835.6C1452.0 838.1 1454.0 840.9 1456.0 844.0C1458.0 847.2 1460.0 850.6 1462.0 854.4C1464.0 858.2 1466.0 862.4 1468.0 866.8C1470.0 871.3 1472.0 876.0 1474.0 881.1C1476.0 886.2 1478.0 891.5 1480.0 897.1C1482.0 902.7 1484.0 908.7 1486.0 914.8C1488.0 920.9 1490.0 927.3 1492.0 933.8C1494.0 940.3 1496.0 947.1 1498.0 953.9C1500.0 960.8 1502.0 967.8 1504.0 974.9C1506.0 982.0 1508.0 989.3 1510.0 996.6C1512.0 1003.8 1514.0 1011.2 1516.0 1018.5C1518.0 1025.9 1520.0 1033.3 1522.0 1040.7C1524.0 1048.0 1526.0 1055.4 1528.0 1062.7C1530.0 1070.0 1532.0 1077.3 1534.0 1084.5C1536.0 1091.7 1538.0 1098.8 1540.0 1105.9C1542.0 1112.9 1544.0 1119.9 1546.0 1126.7C1548.0 1133.6 1550.0 1140.4 1552.0 1147.0C1554.0 1153.7 1556.0 1160.2 1558.0 1166.6C1560.0 1173.1 1562.0 1179.4 1564.0 1185.6C1566.0 1191.8 1568.0 1197.9 1570.0 1203.9C1572.0 1209.9 1574.0 1215.7 1576.0 1221.5C1578.0 1227.3 1580.0 1232.9 1582.0 1238.5C1584.0 1244.0 1586.0 1249.5 1588.0 1254.9C1590.0 1260.3 1592.0 1265.5 1594.0 1270.7C1596.0 1275.9 1598.0 1281.0 1600.0 1286.0C1602.0 1291.1 1604.0 1296.0 1606.0 1300.9C1608.0 1305.8 1610.0 1310.5 1612.0 1315.3C1614.0 1320.0 1616.0 1324.6 1618.0 1329.2C1620.0 1333.8 1622.0 1338.3 1624.0 1342.8C1626.0 1347.2 1628.0 1351.6 1630.0 1355.9C1632.0 1360.3 1634.0 1364.5 1636.0 1368.7C1638.0 1372.9 1640.0 1377.0 1642.0 1381.1C1644.0 1385.2 1646.0 1389.2 1648.0 1393.1C1650.0 1397.0 1652.0 1400.9 1654.0 1404.7C1656.0 1408.5 1658.0 1412.2 1660.0 1415.9C1662.0 1419.6 1664.0 1423.2 1666.0 1426.7C1668.0 1430.2 1670.0 1433.7 1672.0 1437.1C1674.0 1440.5 1676.0 1443.8 1678.0 1447.1C1680.0 1450.3 1682.0 1453.5 1684.0 1456.6C1686.0 1459.7 1688.0 1462.8 1690.0 1465.8C1692.0 1468.7 1694.0 1471.6 1696.0 1474.5C1698.0 1477.3 1700.0 1480.1 1702.0 1482.8C1704.0 1485.5 1706.0 1488.1 1708.0 1490.7C1710.0 1493.2 1712.0 1495.7 1714.0 1498.1C1716.0 1500.6 1718.0 1502.9 1720.0 1505.2C1722.0 1507.5 1724.0 1509.8 1726.0 1511.9C1728.0 1514.1 1730.0 1516.2 1732.0 1518.3C1734.0 1520.4 1736.0 1522.4 1738.0 1524.3C1740.0 1526.2 1742.0 1528.1 1744.0 1530.0C1746.0 1531.8 1748.0 1533.6 1750.0 1535.3C1752.0 1537.0 1754.0 1538.7 1756.0 1540.4C1758.0 1542.0 1760.0 1543.6 1762.0 1545.1C1764.0 1546.7 1766.0 1548.1 1768.0 1549.6C1770.0 1551.0 1772.0 1552.5 1774.0 1553.8C1776.0 1555.2 1777.2 1556.1 1780.0 1557.8C1784.0 1560.3 1792.0 1565.2 1798.0 1568.5C1804.0 1571.7 1810.0 1574.7 1816.0 1577.4C1822.0 1580.1 1828.0 1582.6 1834.0 1584.9C1840.0 1587.2 1846.0 1589.2 1852.0 1591.1C1858.0 1593.0 1864.0 1594.7 1870.0 1596.3C1876.0 1597.9 1882.0 1599.3 1888.0 1600.7C1894.0 1602.0 1900.0 1603.2 1906.0 1604.3C1912.0 1605.4 1918.0 1606.4 1924.0 1607.3C1930.0 1608.2 1936.0 1609.0 1942.0 1609.8C1948.0 1610.6 1954.0 1611.3 1960.0 1611.9C1966.0 1612.6 1972.0 1613.2 1978.0 1613.8C1984.0 1614.4 1990.0 1614.9 1996.0 1615.4C2002.0 1615.9 2008.0 1616.3 2014.0 1616.8C2020.0 1617.2 2026.0 1617.6 2032.0 1618.0C2038.0 1618.4 2044.0 1618.7 2050.0 1619.1C2056.0 1619.4 2062.0 1619.7 2068.0 1620.0C2074.0 1620.3 2080.0 1620.6 2086.0 1620.9C2092.0 1621.1 2098.0 1621.4 2104.0 1621.6C2110.0 1621.8 2116.0 1622.0 2122.0 1622.2C2128.0 1622.4 2134.0 1622.6 2140.0 1622.8C2146.0 1623.0 2152.0 1623.1 2158.0 1623.3C2164.0 1623.4 2170.0 1623.5 2176.0 1623.7C2182.0 1623.8 2188.0 1623.9 2194.0 1624.0C2200.0 1624.1 2206.0 1624.2 2212.0 1624.3C2218.0 1624.4 2224.0 1624.4 2230.0 1624.5C2236.0 1624.6 2242.0 1624.6 2248.0 1624.7C2254.0 1624.7 2260.0 1624.8 2266.0 1624.8C2272.0 1624.9 2278.0 1624.9 2284.0 1624.9C2290.0 1625.0 2295.0 1625.0 2302.0 1625.0C2309.0 1625.1 2322.0 1625.1 2326.0 1625.1"/>
<path stroke="#1A6FDF" d="M581.8 1625.6C673.2 1625.5 1038.0 1624.9 1130.0 1624.7C1131.6 1624.7 1132.3 1624.7 1133.5 1624.7C1134.7 1624.7 1135.8 1624.6 1137.0 1624.6C1138.2 1624.6 1139.3 1624.6 1140.5 1624.6C1141.7 1624.5 1142.8 1624.5 1144.0 1624.5C1145.2 1624.4 1146.3 1624.4 1147.5 1624.4C1148.7 1624.3 1149.8 1624.3 1151.0 1624.2C1152.2 1624.2 1153.3 1624.1 1154.5 1624.1C1155.7 1624.0 1156.8 1623.9 1158.0 1623.8C1159.2 1623.7 1160.3 1623.6 1161.5 1623.5C1162.7 1623.3 1163.8 1623.2 1165.0 1623.0C1166.2 1622.8 1167.3 1622.6 1168.5 1622.3C1169.7 1622.0 1170.8 1621.7 1172.0 1621.3C1173.2 1620.9 1174.3 1620.5 1175.5 1620.0C1176.7 1619.5 1177.8 1618.9 1179.0 1618.2C1180.2 1617.6 1181.3 1616.8 1182.5 1616.0C1183.7 1615.1 1184.8 1614.2 1186.0 1613.1C1187.2 1612.1 1188.3 1610.9 1189.5 1609.7C1190.7 1608.5 1191.8 1607.1 1193.0 1605.7C1194.2 1604.3 1195.3 1602.7 1196.5 1601.2C1197.7 1599.6 1198.8 1598.0 1200.0 1596.3C1201.2 1594.7 1202.3 1592.9 1203.5 1591.3C1204.7 1589.6 1205.8 1587.9 1207.0 1586.3C1208.2 1584.7 1209.3 1583.1 1210.5 1581.6C1211.7 1580.1 1212.8 1578.6 1214.0 1577.3C1215.2 1576.0 1216.3 1574.8 1217.5 1573.6C1218.7 1572.5 1219.8 1571.5 1221.0 1570.5C1222.2 1569.6 1223.3 1568.7 1224.5 1567.9C1225.7 1567.0 1226.8 1566.3 1228.0 1565.5C1229.2 1564.7 1230.3 1563.9 1231.5 1562.9C1232.7 1562.0 1233.8 1561.0 1235.0 1559.8C1236.2 1558.6 1237.3 1557.3 1238.5 1555.6C1239.7 1554.0 1240.9 1552.1 1242.2 1549.9C1243.4 1547.6 1244.7 1545.1 1245.9 1542.2C1247.2 1539.2 1248.5 1535.9 1249.7 1532.1C1251.0 1528.3 1252.3 1524.1 1253.5 1519.5C1254.7 1514.8 1256.0 1509.7 1257.2 1504.3C1258.4 1498.8 1259.5 1492.8 1260.7 1486.5C1261.9 1480.3 1263.0 1473.6 1264.2 1466.6C1265.4 1459.7 1266.5 1452.3 1267.7 1444.9C1268.9 1437.4 1270.1 1429.6 1271.2 1421.8C1272.3 1414.0 1273.4 1406.0 1274.6 1398.0C1275.7 1390.0 1276.8 1381.9 1277.9 1374.0C1279.0 1366.0 1280.2 1358.0 1281.3 1350.1C1282.4 1342.2 1283.5 1334.4 1284.6 1326.8C1285.8 1319.1 1286.9 1311.5 1288.0 1304.0C1289.1 1296.6 1290.2 1289.2 1291.4 1281.9C1292.5 1274.7 1293.6 1267.5 1294.7 1260.3C1295.8 1253.1 1297.2 1244.5 1298.1 1238.9C1299.0 1233.3 1299.1 1232.2 1300.0 1226.6C1301.3 1218.3 1304.0 1201.9 1306.0 1189.1C1308.0 1176.3 1310.0 1163.2 1312.0 1149.7C1314.0 1136.3 1316.0 1122.4 1318.0 1108.4C1320.0 1094.4 1322.0 1079.9 1324.0 1065.7C1326.0 1051.4 1328.0 1036.9 1330.0 1022.9C1332.0 1008.9 1334.0 994.9 1336.0 981.6C1338.0 968.3 1340.0 955.2 1342.0 942.9C1344.0 930.7 1346.0 918.9 1348.0 908.0C1350.0 897.0 1352.0 886.7 1354.0 877.2C1356.0 867.7 1358.0 858.9 1360.0 850.8C1362.0 842.8 1364.0 835.5 1366.0 828.9C1368.0 822.3 1370.0 816.4 1372.0 811.2C1374.0 806.0 1376.0 801.5 1378.0 797.5C1380.0 793.6 1382.0 790.3 1384.0 787.5C1386.0 784.8 1388.0 782.7 1390.0 781.0C1392.0 779.4 1394.0 778.3 1396.0 777.8C1398.0 777.2 1400.0 777.1 1402.0 777.5C1404.0 777.9 1406.0 778.8 1408.0 780.2C1410.0 781.6 1412.0 783.4 1414.0 785.7C1416.0 788.0 1418.0 790.7 1420.0 793.8C1422.0 797.0 1424.0 800.6 1426.0 804.6C1428.0 808.5 1430.0 812.9 1432.0 817.7C1434.0 822.4 1436.0 827.5 1438.0 833.0C1440.0 838.4 1442.0 844.2 1444.0 850.2C1446.0 856.3 1448.0 862.7 1450.0 869.2C1452.0 875.8 1454.0 882.7 1456.0 889.7C1458.0 896.7 1460.0 903.9 1462.0 911.2C1464.0 918.5 1466.0 926.0 1468.0 933.6C1470.0 941.2 1472.0 948.8 1474.0 956.5C1476.0 964.3 1478.0 972.0 1480.0 979.8C1482.0 987.6 1484.0 995.4 1486.0 1003.2C1488.0 1010.9 1490.0 1018.7 1492.0 1026.5C1494.0 1034.2 1496.0 1041.9 1498.0 1049.5C1500.0 1057.1 1502.0 1064.7 1504.0 1072.2C1506.0 1079.8 1508.0 1087.2 1510.0 1094.6C1512.0 1102.0 1514.0 1109.3 1516.0 1116.5C1518.0 1123.7 1520.0 1130.8 1522.0 1137.9C1524.0 1144.9 1526.0 1151.9 1528.0 1158.7C1530.0 1165.6 1532.0 1172.4 1534.0 1179.1C1536.0 1185.8 1538.0 1192.4 1540.0 1198.9C1542.0 1205.5 1544.0 1211.9 1546.0 1218.2C1548.0 1224.6 1550.0 1230.8 1552.0 1237.0C1554.0 1243.1 1556.0 1249.2 1558.0 1255.1C1560.0 1261.1 1562.0 1267.0 1564.0 1272.7C1566.0 1278.5 1568.0 1284.2 1570.0 1289.8C1572.0 1295.3 1574.0 1300.8 1576.0 1306.2C1578.0 1311.6 1580.0 1316.8 1582.0 1322.0C1584.0 1327.2 1586.0 1332.3 1588.0 1337.3C1590.0 1342.2 1592.0 1347.1 1594.0 1351.9C1596.0 1356.7 1598.0 1361.4 1600.0 1365.9C1602.0 1370.5 1604.0 1375.0 1606.0 1379.4C1608.0 1383.8 1610.0 1388.1 1612.0 1392.3C1614.0 1396.5 1616.0 1400.6 1618.0 1404.6C1620.0 1408.7 1622.0 1412.6 1624.0 1416.4C1626.0 1420.3 1628.0 1424.0 1630.0 1427.7C1632.0 1431.4 1634.0 1435.0 1636.0 1438.5C1638.0 1442.0 1640.0 1445.4 1642.0 1448.8C1644.0 1452.1 1646.0 1455.4 1648.0 1458.6C1650.0 1461.8 1652.0 1464.9 1654.0 1468.0C1656.0 1471.0 1658.0 1474.0 1660.0 1476.9C1662.0 1479.8 1664.0 1482.7 1666.0 1485.4C1668.0 1488.2 1670.0 1490.9 1672.0 1493.6C1674.0 1496.2 1676.0 1498.8 1678.0 1501.3C1680.0 1503.8 1682.0 1506.2 1684.0 1508.6C1686.0 1511.0 1688.0 1513.3 1690.0 1515.6C1692.0 1517.9 1694.0 1520.1 1696.0 1522.2C1698.0 1524.4 1700.0 1526.5 1702.0 1528.5C1704.0 1530.5 1706.0 1532.5 1708.0 1534.4C1710.0 1536.3 1712.0 1538.2 1714.0 1540.0C1716.0 1541.8 1718.0 1543.6 1720.0 1545.3C1722.0 1547.0 1724.0 1548.6 1726.0 1550.2C1728.0 1551.8 1730.0 1553.3 1732.0 1554.8C1734.0 1556.3 1736.0 1557.8 1738.0 1559.2C1740.0 1560.6 1742.0 1561.9 1744.0 1563.2C1746.0 1564.5 1748.0 1565.8 1750.0 1567.0C1752.0 1568.2 1754.0 1569.4 1756.0 1570.5C1758.0 1571.6 1760.0 1572.7 1762.0 1573.8C1764.0 1574.8 1766.0 1575.8 1768.0 1576.8C1770.0 1577.8 1772.0 1578.7 1774.0 1579.6C1776.0 1580.5 1777.2 1581.1 1780.0 1582.2C1784.0 1583.8 1792.0 1586.9 1798.0 1588.9C1804.0 1590.9 1810.0 1592.6 1816.0 1594.2C1822.0 1595.8 1828.0 1597.1 1834.0 1598.4C1840.0 1599.7 1846.0 1600.8 1852.0 1601.8C1858.0 1602.9 1864.0 1603.8 1870.0 1604.7C1876.0 1605.6 1882.0 1606.4 1888.0 1607.1C1894.0 1607.9 1900.0 1608.6 1906.0 1609.3C1912.0 1610.0 1918.0 1610.6 1924.0 1611.2C1930.0 1611.9 1936.0 1612.4 1942.0 1613.0C1948.0 1613.5 1954.0 1614.1 1960.0 1614.6C1966.0 1615.1 1972.0 1615.6 1978.0 1616.0C1984.0 1616.5 1990.0 1616.9 1996.0 1617.4C2002.0 1617.8 2008.0 1618.2 2014.0 1618.6C2020.0 1618.9 2026.0 1619.3 2032.0 1619.6C2038.0 1619.9 2044.0 1620.3 2050.0 1620.5C2056.0 1620.8 2062.0 1621.1 2068.0 1621.4C2074.0 1621.6 2080.0 1621.8 2086.0 1622.1C2092.0 1622.3 2098.0 1622.5 2104.0 1622.7C2110.0 1622.9 2116.0 1623.0 2122.0 1623.2C2128.0 1623.3 2134.0 1623.5 2140.0 1623.6C2146.0 1623.7 2152.0 1623.9 2158.0 1624.0C2164.0 1624.1 2170.0 1624.2 2176.0 1624.2C2182.0 1624.3 2188.0 1624.4 2194.0 1624.5C2200.0 1624.6 2206.0 1624.6 2212.0 1624.7C2218.0 1624.7 2224.0 1624.8 2230.0 1624.8C2236.0 1624.9 2242.0 1624.9 2248.0 1624.9C2254.0 1625.0 2260.0 1625.0 2266.0 1625.0C2272.0 1625.1 2278.0 1625.1 2284.0 1625.1C2290.0 1625.1 2295.0 1625.1 2302.0 1625.1C2309.0 1625.2 2322.0 1625.2 2326.0 1625.2"/>
<path stroke="#37AD6B" d="M581.8 1625.6C673.2 1625.5 1038.0 1625.0 1130.0 1624.9C1131.6 1624.9 1132.3 1624.8 1133.5 1624.8C1134.7 1624.8 1135.8 1624.8 1137.0 1624.7C1138.2 1624.7 1139.3 1624.7 1140.5 1624.7C1141.7 1624.6 1142.8 1624.6 1144.0 1624.5C1145.2 1624.5 1146.3 1624.4 1147.5 1624.4C1148.7 1624.3 1149.8 1624.2 1151.0 1624.2C1152.2 1624.1 1153.3 1624.0 1154.5 1623.9C1155.7 1623.7 1156.8 1623.6 1158.0 1623.4C1159.2 1623.3 1160.3 1623.1 1161.5 1622.8C1162.7 1622.6 1163.8 1622.3 1165.0 1622.0C1166.2 1621.6 1167.3 1621.2 1168.5 1620.7C1169.7 1620.2 1170.8 1619.6 1172.0 1618.9C1173.2 1618.2 1174.3 1617.4 1175.5 1616.5C1176.7 1615.5 1177.8 1614.4 1179.0 1613.2C1180.2 1612.0 1181.3 1610.6 1182.5 1609.0C1183.7 1607.5 1184.8 1605.8 1186.0 1603.9C1187.2 1602.1 1188.3 1600.1 1189.5 1598.0C1190.7 1596.0 1191.8 1593.7 1193.0 1591.5C1194.2 1589.3 1195.3 1587.0 1196.5 1584.7C1197.7 1582.5 1198.8 1580.2 1200.0 1578.1C1201.2 1575.9 1202.3 1573.8 1203.5 1571.9C1204.7 1570.0 1205.8 1568.3 1207.0 1566.7C1208.2 1565.1 1209.3 1563.7 1210.5 1562.5C1211.7 1561.2 1212.8 1560.2 1214.0 1559.2C1215.2 1558.3 1216.3 1557.5 1217.5 1556.7C1218.7 1555.9 1219.8 1555.3 1221.0 1554.5C1222.2 1553.7 1223.3 1553.0 1224.5 1552.0C1225.7 1551.1 1226.8 1550.1 1228.0 1548.8C1229.2 1547.5 1230.3 1546.0 1231.5 1544.2C1232.7 1542.4 1233.8 1540.4 1235.0 1538.0C1236.2 1535.6 1237.3 1532.9 1238.5 1529.9C1239.7 1526.8 1240.8 1523.5 1242.0 1519.7C1243.2 1516.0 1244.3 1511.9 1245.5 1507.5C1246.7 1503.1 1247.8 1498.3 1249.0 1493.2C1250.2 1488.2 1251.3 1482.7 1252.5 1477.0C1253.7 1471.3 1254.8 1465.3 1256.0 1458.9C1257.2 1452.6 1258.3 1445.9 1259.5 1439.0C1260.7 1432.1 1261.8 1424.9 1263.0 1417.4C1264.2 1409.9 1265.3 1402.1 1266.5 1394.1C1267.7 1386.0 1268.8 1377.7 1270.0 1369.1C1271.2 1360.5 1272.5 1351.7 1273.7 1342.6C1274.9 1333.5 1276.2 1324.1 1277.4 1314.6C1278.6 1305.0 1279.9 1295.2 1281.1 1285.2C1282.3 1275.1 1283.6 1264.9 1284.8 1254.5C1286.0 1244.0 1287.3 1233.4 1288.5 1222.6C1289.7 1211.8 1291.0 1200.8 1292.2 1189.7C1293.4 1178.6 1294.7 1167.3 1295.9 1156.0C1297.1 1144.6 1298.6 1130.6 1299.6 1121.5C1300.6 1112.5 1300.8 1110.7 1301.7 1101.6C1303.1 1088.2 1306.0 1061.4 1308.1 1041.3C1310.2 1021.1 1312.3 1000.8 1314.3 980.8C1316.3 960.8 1318.3 940.7 1320.3 921.2C1322.3 901.7 1324.3 882.3 1326.3 863.5C1328.3 844.8 1330.3 826.3 1332.3 808.6C1334.3 791.0 1336.3 773.8 1338.3 757.4C1340.3 741.0 1342.3 725.2 1344.3 710.3C1346.3 695.3 1348.3 681.1 1350.3 667.8C1352.3 654.5 1354.3 641.9 1356.3 630.2C1358.3 618.6 1360.3 607.7 1362.3 597.7C1364.3 587.7 1366.3 578.5 1368.3 570.1C1370.3 561.8 1372.3 554.2 1374.3 547.4C1376.3 540.6 1378.2 534.7 1380.0 529.4C1381.9 524.1 1383.7 519.6 1385.5 515.7C1387.3 511.9 1389.1 508.8 1390.9 506.3C1392.7 503.8 1394.5 502.0 1396.4 500.8C1398.2 499.6 1400.1 499.0 1402.0 499.1C1403.9 499.1 1406.0 499.8 1408.0 501.0C1410.0 502.3 1412.0 504.1 1414.0 506.5C1416.0 508.9 1418.0 511.9 1420.0 515.5C1422.0 519.0 1424.0 523.1 1426.0 527.7C1428.0 532.3 1430.0 537.5 1432.0 543.1C1434.0 548.8 1436.0 554.9 1438.0 561.5C1440.0 568.0 1442.0 575.1 1444.0 582.4C1446.0 589.7 1448.0 597.5 1450.0 605.5C1452.0 613.5 1454.0 621.8 1456.0 630.3C1458.0 638.8 1460.0 647.5 1462.0 656.3C1464.0 665.1 1466.0 674.1 1468.0 683.1C1470.0 692.1 1472.0 701.3 1474.0 710.5C1476.0 719.8 1478.0 729.1 1480.0 738.7C1482.0 748.2 1484.0 757.8 1486.0 767.7C1488.0 777.6 1490.0 787.7 1492.0 798.0C1494.0 808.4 1496.0 819.0 1498.0 829.9C1500.0 840.7 1502.0 851.9 1504.0 863.2C1506.0 874.5 1508.0 886.1 1510.0 897.6C1512.0 909.2 1514.0 920.9 1516.0 932.5C1518.0 944.1 1520.0 955.8 1522.0 967.1C1524.0 978.4 1526.0 989.6 1528.0 1000.5C1530.0 1011.3 1532.0 1021.9 1534.0 1032.1C1536.0 1042.3 1538.0 1052.2 1540.0 1061.7C1542.0 1071.2 1544.0 1080.3 1546.0 1089.1C1548.0 1097.9 1550.0 1106.4 1552.0 1114.6C1554.0 1122.8 1556.0 1130.7 1558.0 1138.3C1560.0 1146.0 1562.0 1153.4 1564.0 1160.7C1566.0 1168.0 1568.0 1175.0 1570.0 1181.9C1572.0 1188.8 1574.0 1195.5 1576.0 1202.2C1578.0 1208.8 1580.0 1215.3 1582.0 1221.7C1584.0 1228.1 1586.0 1234.3 1588.0 1240.5C1590.0 1246.7 1592.0 1252.8 1594.0 1258.8C1596.0 1264.7 1598.0 1270.6 1600.0 1276.5C1602.0 1282.3 1604.0 1288.0 1606.0 1293.6C1608.0 1299.3 1610.0 1304.8 1612.0 1310.3C1614.0 1315.8 1616.0 1321.1 1618.0 1326.4C1620.0 1331.7 1622.0 1336.9 1624.0 1342.0C1626.0 1347.2 1628.0 1352.2 1630.0 1357.1C1632.0 1362.1 1634.0 1366.9 1636.0 1371.7C1638.0 1376.4 1640.0 1381.1 1642.0 1385.6C1644.0 1390.2 1646.0 1394.7 1648.0 1399.0C1650.0 1403.4 1652.0 1407.6 1654.0 1411.8C1656.0 1416.0 1658.0 1420.0 1660.0 1424.0C1662.0 1428.0 1664.0 1431.8 1666.0 1435.6C1668.0 1439.4 1670.0 1443.0 1672.0 1446.6C1674.0 1450.1 1676.0 1453.6 1678.0 1457.0C1680.0 1460.3 1682.0 1463.6 1684.0 1466.8C1686.0 1470.0 1688.0 1473.1 1690.0 1476.1C1692.0 1479.0 1694.0 1481.9 1696.0 1484.8C1698.0 1487.6 1700.0 1490.3 1702.0 1492.9C1704.0 1495.6 1706.0 1498.1 1708.0 1500.6C1710.0 1503.1 1712.0 1505.5 1714.0 1507.8C1716.0 1510.2 1718.0 1512.4 1720.0 1514.6C1722.0 1516.8 1724.0 1518.9 1726.0 1521.0C1728.0 1523.0 1730.0 1525.0 1732.0 1526.9C1734.0 1528.8 1736.0 1530.7 1738.0 1532.5C1740.0 1534.3 1742.0 1536.1 1744.0 1537.8C1746.0 1539.5 1748.0 1541.1 1750.0 1542.7C1752.0 1544.3 1754.0 1545.8 1756.0 1547.3C1758.0 1548.8 1760.0 1550.3 1762.0 1551.7C1764.0 1553.1 1766.0 1554.5 1768.0 1555.8C1770.0 1557.1 1772.0 1558.4 1774.0 1559.7C1776.0 1560.9 1777.2 1561.8 1780.0 1563.3C1784.0 1565.6 1792.0 1570.1 1798.0 1573.1C1804.0 1576.1 1810.0 1578.8 1816.0 1581.3C1822.0 1583.8 1828.0 1586.0 1834.0 1588.2C1840.0 1590.3 1846.0 1592.1 1852.0 1593.9C1858.0 1595.7 1864.0 1597.2 1870.0 1598.7C1876.0 1600.2 1882.0 1601.5 1888.0 1602.7C1894.0 1603.9 1900.0 1605.0 1906.0 1606.0C1912.0 1607.0 1918.0 1607.9 1924.0 1608.8C1930.0 1609.6 1936.0 1610.4 1942.0 1611.1C1948.0 1611.8 1954.0 1612.5 1960.0 1613.1C1966.0 1613.7 1972.0 1614.2 1978.0 1614.8C1984.0 1615.3 1990.0 1615.8 1996.0 1616.2C2002.0 1616.7 2008.0 1617.1 2014.0 1617.5C2020.0 1617.9 2026.0 1618.2 2032.0 1618.6C2038.0 1618.9 2044.0 1619.3 2050.0 1619.6C2056.0 1619.9 2062.0 1620.2 2068.0 1620.4C2074.0 1620.7 2080.0 1621.0 2086.0 1621.2C2092.0 1621.4 2098.0 1621.7 2104.0 1621.9C2110.0 1622.1 2116.0 1622.3 2122.0 1622.5C2128.0 1622.6 2134.0 1622.8 2140.0 1623.0C2146.0 1623.1 2152.0 1623.2 2158.0 1623.4C2164.0 1623.5 2170.0 1623.6 2176.0 1623.7C2182.0 1623.9 2188.0 1624.0 2194.0 1624.0C2200.0 1624.1 2206.0 1624.2 2212.0 1624.3C2218.0 1624.4 2224.0 1624.4 2230.0 1624.5C2236.0 1624.6 2242.0 1624.6 2248.0 1624.7C2254.0 1624.7 2260.0 1624.8 2266.0 1624.8C2272.0 1624.9 2278.0 1624.9 2284.0 1624.9C2290.0 1625.0 2295.0 1625.0 2302.0 1625.0C2309.0 1625.0 2322.0 1625.1 2326.0 1625.1"/>
<path stroke="#B177DE" d="M581.8 1625.6C673.2 1625.5 1038.0 1625.2 1130.0 1625.1C1131.6 1625.1 1132.3 1625.1 1133.5 1625.0C1134.7 1625.0 1135.8 1625.0 1137.0 1625.0C1138.2 1625.0 1139.3 1624.9 1140.5 1624.9C1141.7 1624.9 1142.8 1624.8 1144.0 1624.8C1145.2 1624.7 1146.3 1624.7 1147.5 1624.6C1148.7 1624.5 1149.8 1624.4 1151.0 1624.3C1152.2 1624.2 1153.3 1624.1 1154.5 1623.9C1155.7 1623.8 1156.8 1623.6 1158.0 1623.4C1159.2 1623.1 1160.3 1622.9 1161.5 1622.5C1162.7 1622.2 1163.8 1621.8 1165.0 1621.4C1166.2 1620.9 1167.3 1620.4 1168.5 1619.8C1169.7 1619.2 1170.8 1618.6 1172.0 1617.8C1173.2 1617.0 1174.3 1616.1 1175.5 1615.1C1176.7 1614.2 1177.8 1613.1 1179.0 1611.9C1180.2 1610.7 1181.3 1609.4 1182.5 1607.9C1183.7 1606.5 1184.8 1604.9 1186.0 1603.3C1187.2 1601.6 1188.3 1599.9 1189.5 1598.0C1190.7 1596.2 1191.8 1594.2 1193.0 1592.3C1194.2 1590.3 1195.3 1588.2 1196.5 1586.2C1197.7 1584.1 1198.8 1582.0 1200.0 1579.9C1201.2 1577.9 1202.3 1575.8 1203.5 1573.9C1204.7 1571.9 1205.8 1570.0 1207.0 1568.2C1208.2 1566.4 1209.3 1564.7 1210.5 1563.2C1211.7 1561.6 1212.8 1560.2 1214.0 1559.0C1215.2 1557.8 1216.3 1556.7 1217.5 1555.8C1218.7 1554.9 1219.8 1554.1 1221.0 1553.5C1222.2 1552.9 1223.3 1552.5 1224.5 1552.2C1225.7 1551.8 1226.8 1551.7 1228.0 1551.5C1229.2 1551.4 1230.3 1551.3 1231.5 1551.3C1232.7 1551.2 1233.8 1551.2 1235.0 1551.1C1236.2 1550.9 1237.3 1550.8 1238.5 1550.6C1239.7 1550.3 1240.8 1549.9 1242.0 1549.4C1243.2 1548.8 1244.3 1548.1 1245.5 1547.2C1246.7 1546.3 1247.8 1545.1 1249.0 1543.7C1250.2 1542.3 1251.3 1540.7 1252.5 1538.8C1253.7 1536.9 1254.9 1534.7 1256.1 1532.3C1257.3 1529.9 1258.7 1527.1 1260.0 1524.2C1261.2 1521.2 1262.5 1517.9 1263.8 1514.5C1265.1 1511.0 1266.4 1507.2 1267.7 1503.3C1268.9 1499.3 1270.3 1495.1 1271.5 1490.7C1272.7 1486.3 1273.8 1481.7 1275.0 1477.0C1276.2 1472.3 1277.3 1467.3 1278.5 1462.3C1279.7 1457.3 1280.8 1452.1 1282.0 1446.8C1283.2 1441.5 1284.3 1436.1 1285.5 1430.7C1286.7 1425.3 1287.8 1419.8 1289.0 1414.2C1290.2 1408.7 1291.3 1403.1 1292.4 1397.5C1293.6 1391.9 1294.6 1386.2 1295.7 1380.6C1296.8 1375.0 1298.2 1368.2 1299.0 1363.8C1299.9 1359.5 1300.0 1358.6 1300.9 1354.3C1302.2 1348.0 1304.7 1335.4 1306.5 1326.1C1308.4 1316.9 1310.3 1307.7 1312.2 1298.8C1314.1 1289.9 1316.0 1281.2 1318.0 1272.6C1320.0 1264.1 1322.0 1255.7 1324.0 1247.5C1326.0 1239.3 1328.0 1231.3 1330.0 1223.5C1332.0 1215.6 1334.0 1208.0 1336.0 1200.5C1338.0 1193.0 1340.0 1185.7 1342.0 1178.6C1344.0 1171.4 1346.0 1164.5 1348.0 1157.7C1350.0 1151.0 1352.0 1144.5 1354.0 1138.2C1356.0 1131.9 1358.0 1125.8 1360.0 1120.1C1362.0 1114.3 1364.0 1108.8 1366.0 1103.7C1368.0 1098.5 1370.0 1093.7 1372.0 1089.2C1374.0 1084.7 1376.0 1080.6 1378.0 1076.9C1380.0 1073.1 1382.0 1069.8 1384.0 1066.8C1386.0 1063.9 1388.0 1061.4 1390.0 1059.2C1392.0 1057.1 1394.0 1055.3 1396.0 1054.0C1398.0 1052.6 1400.0 1051.7 1402.0 1051.1C1404.0 1050.5 1406.0 1050.3 1408.0 1050.4C1410.0 1050.5 1412.0 1051.0 1414.0 1051.8C1416.0 1052.6 1418.0 1053.7 1420.0 1055.1C1422.0 1056.5 1424.0 1058.3 1426.0 1060.2C1428.0 1062.2 1430.0 1064.4 1432.0 1066.9C1434.0 1069.4 1436.0 1072.1 1438.0 1075.0C1440.0 1077.9 1442.0 1081.0 1444.0 1084.3C1446.0 1087.6 1448.0 1091.1 1450.0 1094.7C1452.0 1098.3 1454.0 1102.1 1456.0 1106.0C1458.0 1109.9 1460.0 1114.0 1462.0 1118.1C1464.0 1122.3 1466.0 1126.5 1468.0 1130.9C1470.0 1135.2 1472.0 1139.7 1474.0 1144.2C1476.0 1148.7 1478.0 1153.3 1480.0 1158.0C1482.0 1162.6 1484.0 1167.3 1486.0 1172.1C1488.0 1176.9 1490.0 1181.7 1492.0 1186.5C1494.0 1191.4 1496.0 1196.3 1498.0 1201.2C1500.0 1206.1 1502.0 1211.1 1504.0 1216.1C1506.0 1221.1 1508.0 1226.1 1510.0 1231.1C1512.0 1236.1 1514.0 1241.2 1516.0 1246.2C1518.0 1251.3 1520.0 1256.3 1522.0 1261.3C1524.0 1266.4 1526.0 1271.4 1528.0 1276.4C1530.0 1281.4 1532.0 1286.4 1534.0 1291.4C1536.0 1296.4 1538.0 1301.3 1540.0 1306.2C1542.0 1311.0 1544.0 1315.9 1546.0 1320.7C1548.0 1325.4 1550.0 1330.2 1552.0 1334.8C1554.0 1339.4 1556.0 1344.0 1558.0 1348.5C1560.0 1353.0 1562.0 1357.4 1564.0 1361.7C1566.0 1366.1 1568.0 1370.3 1570.0 1374.4C1572.0 1378.6 1574.0 1382.6 1576.0 1386.6C1578.0 1390.5 1580.0 1394.4 1582.0 1398.2C1584.0 1401.9 1586.0 1405.6 1588.0 1409.2C1590.0 1412.8 1592.0 1416.2 1594.0 1419.6C1596.0 1423.0 1598.0 1426.3 1600.0 1429.5C1602.0 1432.7 1604.0 1435.9 1606.0 1438.9C1608.0 1442.0 1610.0 1444.9 1612.0 1447.8C1614.0 1450.7 1616.0 1453.5 1618.0 1456.3C1620.0 1459.1 1622.0 1461.8 1624.0 1464.4C1626.0 1467.0 1628.0 1469.6 1630.0 1472.1C1632.0 1474.6 1634.0 1477.1 1636.0 1479.5C1638.0 1481.9 1640.0 1484.3 1642.0 1486.6C1644.0 1488.9 1646.0 1491.2 1648.0 1493.4C1650.0 1495.6 1652.0 1497.8 1654.0 1500.0C1656.0 1502.1 1658.0 1504.2 1660.0 1506.3C1662.0 1508.4 1664.0 1510.4 1666.0 1512.4C1668.0 1514.4 1670.0 1516.4 1672.0 1518.3C1674.0 1520.3 1676.0 1522.2 1678.0 1524.0C1680.0 1525.9 1682.0 1527.7 1684.0 1529.5C1686.0 1531.3 1688.0 1533.1 1690.0 1534.8C1692.0 1536.5 1694.0 1538.2 1696.0 1539.9C1698.0 1541.5 1700.0 1543.2 1702.0 1544.7C1704.0 1546.3 1706.0 1547.9 1708.0 1549.4C1710.0 1550.9 1712.0 1552.4 1714.0 1553.8C1716.0 1555.3 1718.0 1556.7 1720.0 1558.1C1722.0 1559.4 1724.0 1560.8 1726.0 1562.1C1728.0 1563.4 1730.0 1564.6 1732.0 1565.8C1734.0 1567.1 1736.0 1568.3 1738.0 1569.4C1740.0 1570.6 1742.0 1571.7 1744.0 1572.8C1746.0 1573.8 1748.0 1574.9 1750.0 1575.9C1752.0 1576.9 1754.0 1577.9 1756.0 1578.9C1758.0 1579.8 1760.0 1580.7 1762.0 1581.6C1764.0 1582.5 1766.0 1583.3 1768.0 1584.2C1770.0 1585.0 1772.0 1585.8 1774.0 1586.5C1776.0 1587.3 1777.2 1587.8 1780.0 1588.7C1784.0 1590.0 1792.0 1592.7 1798.0 1594.4C1804.0 1596.1 1810.0 1597.6 1816.0 1598.9C1822.0 1600.3 1828.0 1601.4 1834.0 1602.5C1840.0 1603.6 1846.0 1604.5 1852.0 1605.4C1858.0 1606.3 1864.0 1607.1 1870.0 1607.8C1876.0 1608.6 1882.0 1609.3 1888.0 1609.9C1894.0 1610.6 1900.0 1611.2 1906.0 1611.7C1912.0 1612.3 1918.0 1612.9 1924.0 1613.4C1930.0 1613.9 1936.0 1614.4 1942.0 1614.9C1948.0 1615.3 1954.0 1615.8 1960.0 1616.2C1966.0 1616.7 1972.0 1617.1 1978.0 1617.5C1984.0 1617.9 1990.0 1618.2 1996.0 1618.6C2002.0 1619.0 2008.0 1619.3 2014.0 1619.6C2020.0 1619.9 2026.0 1620.2 2032.0 1620.5C2038.0 1620.8 2044.0 1621.1 2050.0 1621.3C2056.0 1621.6 2062.0 1621.8 2068.0 1622.0C2074.0 1622.2 2080.0 1622.4 2086.0 1622.6C2092.0 1622.8 2098.0 1623.0 2104.0 1623.1C2110.0 1623.3 2116.0 1623.4 2122.0 1623.6C2128.0 1623.7 2134.0 1623.8 2140.0 1623.9C2146.0 1624.0 2152.0 1624.1 2158.0 1624.2C2164.0 1624.3 2170.0 1624.4 2176.0 1624.5C2182.0 1624.5 2188.0 1624.6 2194.0 1624.7C2200.0 1624.7 2206.0 1624.8 2212.0 1624.8C2218.0 1624.9 2224.0 1624.9 2230.0 1624.9C2236.0 1625.0 2242.0 1625.0 2248.0 1625.0C2254.0 1625.1 2260.0 1625.1 2266.0 1625.1C2272.0 1625.1 2278.0 1625.1 2284.0 1625.2C2290.0 1625.2 2295.0 1625.2 2302.0 1625.2C2309.0 1625.2 2322.0 1625.2 2326.0 1625.2"/>
</g>
<rect x="407.7" y="143.2" width="1918.8" height="1546.4" fill="none" stroke="#000" stroke-width="6.6"/>
<g stroke="#000" stroke-width="6.6" fill="none">
<path d="M377 1629.0H405M377 1331.8H405M377 1034.7H405M377 737.5H405M377 440.4H405M377 143.2H405M391.5 1480.4H405M391.5 1183.3H405M391.5 886.1H405M391.5 588.9H405M391.5 291.8H405M582.3 1692V1720M931.2 1692V1720M1280.0 1692V1720M1628.8 1692V1720M1977.7 1692V1720M2326.5 1692V1720M407.9 1692V1705M756.7 1692V1705M1105.6 1692V1705M1454.4 1692V1705M1803.3 1692V1705M2152.1 1692V1705"/>
</g>
<g font-family='"Liberation Serif", "Noto Serif CJK SC", serif' font-size="80" fill="#000">
<g text-anchor="end">
<text x="356" y="1653.2">0</text>
<text x="356" y="1356.0">1000</text>
<text x="356" y="1058.9">2000</text>
<text x="356" y="761.7">3000</text>
<text x="356" y="464.6">4000</text>
<text x="356" y="167.4">5000</text>
</g><g text-anchor="middle">
<text x="582.3" y="1803">200</text>
<text x="931.2" y="1803">300</text>
<text x="1280.0" y="1803">400</text>
<text x="1628.8" y="1803">500</text>
<text x="1977.7" y="1803">600</text>
<text x="2326.5" y="1803">700</text>
</g>
</g>
<text x="1369" y="1911.5" text-anchor="middle" font-family='"Liberation Serif", "Noto Serif CJK SC", serif' font-size="87">Wavelength (nm)</text>
<text transform="translate(150 927.5) rotate(-90)" text-anchor="middle" font-family='"Liberation Serif", "Noto Serif CJK SC", serif' font-size="88">Intensity (a.u.)</text>
<g stroke-width="6.9" stroke-linecap="round">
<path stroke="#37AD6B" d="M1641 320.4H1819"/>
<path stroke="#1A6FDF" d="M1641 419.3H1819"/>
<path stroke="#B177DE" d="M1641 518.2H1819"/>
<path stroke="#F14040" d="M1641 617.1H1819"/>
<path stroke="#515151" d="M1641 716.0H1819"/>
</g>
<g font-family='"Liberation Serif", "Noto Serif CJK SC", serif' font-size="80" fill="#000">
<text y="348.1"><tspan x="1839">1</tspan><tspan x="1877">：</tspan><tspan x="1962">THF</tspan></text>
<text y="447.0"><tspan x="1839">2</tspan><tspan x="1877">：</tspan><tspan x="1962">DMF</tspan></text>
<text y="545.9"><tspan x="1839">3</tspan><tspan x="1877">：</tspan><tspan x="1962">Acetone</tspan></text>
<text y="644.8"><tspan x="1839">4</tspan><tspan x="1877">：</tspan><tspan x="1962">Ethanol</tspan></text>
<text y="743.7"><tspan x="1839">5</tspan><tspan x="1877">：</tspan><tspan x="1962">Water</tspan></text>
</g>
<text x="1461" y="305" text-anchor="middle" font-family='"Liberation Serif", "Noto Serif CJK SC", serif' font-size="128" font-weight="bold">a</text>
</g>
<g id="photo-b">
<defs><filter id="soft" x="-2%" y="-2%" width="104%" height="104%"><feGaussianBlur stdDeviation="1.7"/></filter><clipPath id="clipb"><rect x="411" y="153.5" width="888" height="506"/></clipPath></defs>
<g clip-path="url(#clipb)"><g filter="url(#soft)">
<rect x="405" y="148" width="900" height="518" fill="#929292"/>
<rect x="405" y="148" width="168" height="518" fill="#959596"/>
<rect x="573" y="148" width="172" height="518" fill="#8f8f8f"/>
<rect x="745" y="148" width="182" height="518" fill="#9a9a9c"/>
<rect x="927" y="148" width="186" height="518" fill="#8d8d8e"/>
<rect x="1113" y="148" width="192" height="518" fill="#949496"/>
<rect x="414.5" y="156.5" width="134.5" height="500.5" rx="7" fill="#f3f3f2"/>
<rect x="415.5" y="606.5" width="132.5" height="50.5" rx="5" fill="#f6f6f5"/>
<linearGradient id="lq1" x1="0" y1="0" x2="0" y2="1"><stop offset="0" stop-color="#afafb3"/><stop offset="1" stop-color="#adadad"/></linearGradient>
<rect x="429.5" y="162.5" width="103.5" height="446" fill="url(#lq1)"/>
<rect x="430.5" y="162.5" width="101.5" height="23" fill="#a4a4a5"/>
<rect x="427.5" y="184" width="107.5" height="3.6" fill="#ebebea"/>
<path d="M428.5 188.5H534V313Q534 349 498 349H464.5Q428.5 349 428.5 313Z" fill="#f5f5f1"/>
<path d="M463.5 344.5H499" stroke="#bdbdb6" stroke-width="2.2" fill="none"/>
<linearGradient id="ar1" x1="0" y1="0" x2="0" y2="1"><stop offset="0" stop-color="#8e8e8e"/><stop offset="0.69" stop-color="#848484"/><stop offset="0.84" stop-color="#626262"/><stop offset="1" stop-color="#5a5a5a"/></linearGradient>
<path d="M433 188.5H529.5V311Q529.5 338 502.5 338H460Q433 338 433 311Z" fill="url(#ar1)"/>
<rect x="582" y="158.5" width="147" height="500.5" rx="7" fill="#cdcdcd"/>
<rect x="583" y="610.5" width="145" height="48.5" rx="5" fill="#f6f6f5"/>
<linearGradient id="lq2" x1="0" y1="0" x2="0" y2="1"><stop offset="0" stop-color="#a8a8a8"/><stop offset="1" stop-color="#a6a6a5"/></linearGradient>
<rect x="607" y="164.5" width="97" height="448" fill="url(#lq2)"/>
<rect x="608" y="164.5" width="95" height="23.5" fill="#a4a4a5"/>
<rect x="605" y="186.5" width="101" height="3.6" fill="#ebebea"/>
<path d="M606 191H705V300Q705 336 669 336H642Q606 336 606 300Z" fill="#f5f5f1"/>
<path d="M641 331.5H670" stroke="#bdbdb6" stroke-width="2.2" fill="none"/>
<linearGradient id="ar2" x1="0" y1="0" x2="0" y2="1"><stop offset="0" stop-color="#8e8e8e"/><stop offset="0.69" stop-color="#848484"/><stop offset="0.85" stop-color="#626262"/><stop offset="1" stop-color="#5a5a5a"/></linearGradient>
<path d="M610.5 191H700.5V298Q700.5 325 673.5 325H637.5Q610.5 325 610.5 298Z" fill="url(#ar2)"/>
<rect x="582.5" y="161.5" width="5" height="492.5" fill="#f4f4f3"/>
<rect x="591" y="161.5" width="2.5" height="492.5" fill="#e4e4e4"/>
<rect x="597" y="161.5" width="3" height="492.5" fill="#f4f4f3"/>
<rect x="603" y="161.5" width="3.5" height="492.5" fill="#f4f4f3"/>
<rect x="704" y="161.5" width="3.5" height="492.5" fill="#f4f4f3"/>
<rect x="710.5" y="161.5" width="3" height="492.5" fill="#ebebeb"/>
<rect x="717" y="161.5" width="2.5" height="492.5" fill="#e0e0e0"/>
<rect x="723.5" y="161.5" width="4.5" height="492.5" fill="#f4f4f3"/>
<rect x="584" y="158.5" width="143" height="4" rx="2" fill="#efefee"/>
<rect x="760" y="156.5" width="151" height="502.5" rx="7" fill="#bab9b7"/>
<rect x="761" y="616" width="149" height="43" rx="5" fill="#f6f6f5"/>
<linearGradient id="lq3" x1="0" y1="0" x2="0" y2="1"><stop offset="0" stop-color="#b2ada3"/><stop offset="1" stop-color="#aca9a1"/></linearGradient>
<rect x="780" y="162.5" width="112" height="455.5" fill="url(#lq3)"/>
<rect x="781" y="162.5" width="110" height="24" fill="#a4a4a5"/>
<rect x="778" y="185" width="116" height="3.6" fill="#ebebea"/>
<path d="M779 189.5H893V307Q893 343 857 343H815Q779 343 779 307Z" fill="#f3f2e4"/>
<path d="M814 338.5H858" stroke="#bdbdb6" stroke-width="2.2" fill="none"/>
<linearGradient id="ar3" x1="0" y1="0" x2="0" y2="1"><stop offset="0" stop-color="#8e8e8e"/><stop offset="0.68" stop-color="#848484"/><stop offset="0.83" stop-color="#626262"/><stop offset="1" stop-color="#5a5a5a"/></linearGradient>
<path d="M783.5 189.5H888.5V305Q888.5 332 861.5 332H810.5Q783.5 332 783.5 305Z" fill="url(#ar3)"/>
<rect x="761.5" y="159.5" width="9" height="494.5" fill="#f4f4f3"/>
<rect x="772.5" y="159.5" width="3" height="494.5" fill="#e9e8e2"/>
<rect x="777" y="159.5" width="3" height="494.5" fill="#f4f4f3"/>
<rect x="892" y="159.5" width="3" height="494.5" fill="#f4f4f3"/>
<rect x="897" y="159.5" width="8" height="494.5" fill="#e4e4e2"/>
<rect x="906" y="159.5" width="4.5" height="494.5" fill="#f4f4f3"/>
<rect x="762" y="156.5" width="147" height="4" rx="2" fill="#efefee"/>
<rect x="938" y="155.5" width="157.5" height="503.5" rx="7" fill="#aeaead"/>
<rect x="939" y="610.5" width="155.5" height="48.5" rx="5" fill="#f6f6f5"/>
<linearGradient id="lq4" x1="0" y1="0" x2="0" y2="1"><stop offset="0" stop-color="#a5a5a0"/><stop offset="1" stop-color="#a1a19e"/></linearGradient>
<rect x="971" y="161.5" width="95" height="451" fill="url(#lq4)"/>
<rect x="972" y="161.5" width="93" height="20.5" fill="#a4a4a5"/>
<rect x="969" y="180.5" width="99" height="3.6" fill="#ebebea"/>
<path d="M970 185H1067V290.5Q1067 326.5 1031 326.5H1006Q970 326.5 970 290.5Z" fill="#f5f5f1"/>
<path d="M1005 322H1032" stroke="#bdbdb6" stroke-width="2.2" fill="none"/>
<linearGradient id="ar4" x1="0" y1="0" x2="0" y2="1"><stop offset="0" stop-color="#8e8e8e"/><stop offset="0.67" stop-color="#848484"/><stop offset="0.83" stop-color="#626262"/><stop offset="1" stop-color="#5a5a5a"/></linearGradient>
<path d="M974.5 185H1062.5V288.5Q1062.5 315.5 1035.5 315.5H1001.5Q974.5 315.5 974.5 288.5Z" fill="url(#ar4)"/>
<rect x="938.5" y="158.5" width="4" height="495.5" fill="#f4f4f3"/>
<rect x="946" y="158.5" width="3" height="495.5" fill="#e6e6e6"/>
<rect x="953" y="158.5" width="4" height="495.5" fill="#f4f4f3"/>
<rect x="964.5" y="158.5" width="4.5" height="495.5" fill="#f4f4f3"/>
<rect x="1066" y="158.5" width="3.5" height="495.5" fill="#f4f4f3"/>
<rect x="1078" y="158.5" width="4" height="495.5" fill="#e9e9e9"/>
<rect x="1090" y="158.5" width="4" height="495.5" fill="#e2e2e2"/>
<rect x="940" y="155.5" width="153.5" height="4" rx="2" fill="#efefee"/>
<rect x="1128.5" y="156" width="160" height="503" rx="7" fill="#b4b4b5"/>
<rect x="1129.5" y="616" width="158" height="43" rx="5" fill="#f6f6f5"/>
<linearGradient id="lq5" x1="0" y1="0" x2="0" y2="1"><stop offset="0" stop-color="#aaaaa9"/><stop offset="1" stop-color="#a7a7ac"/></linearGradient>
<rect x="1149.5" y="162" width="119.5" height="456" fill="url(#lq5)"/>
<rect x="1150.5" y="162" width="117.5" height="24.5" fill="#a4a4a5"/>
<rect x="1147.5" y="185" width="123.5" height="3.6" fill="#ebebea"/>
<path d="M1148.5 189.5H1270V296Q1270 332 1234 332H1184.5Q1148.5 332 1148.5 296Z" fill="#f1f0e2"/>
<path d="M1183.5 327.5H1235" stroke="#bdbdb6" stroke-width="2.2" fill="none"/>
<linearGradient id="ar5" x1="0" y1="0" x2="0" y2="1"><stop offset="0" stop-color="#8e8e8e"/><stop offset="0.67" stop-color="#848484"/><stop offset="0.83" stop-color="#626262"/><stop offset="1" stop-color="#5a5a5a"/></linearGradient>
<path d="M1153 189.5H1265.5V294Q1265.5 321 1238.5 321H1180Q1153 321 1153 294Z" fill="url(#ar5)"/>
<rect x="1129" y="159" width="9.5" height="495" fill="#f4f4f3"/>
<rect x="1143.5" y="159" width="3.5" height="495" fill="#f4f4f3"/>
<rect x="1269" y="159" width="3.5" height="495" fill="#f4f4f3"/>
<rect x="1276" y="159" width="3" height="495" fill="#dcdcdc"/>
<rect x="1283" y="159" width="4.5" height="495" fill="#f4f4f3"/>
<rect x="1130.5" y="156" width="156" height="4" rx="2" fill="#efefee"/>
</g></g>
<g font-family='"Liberation Serif", "Noto Serif CJK SC", serif' font-weight="bold" font-size="80" text-anchor="middle" fill="#000">
<text x="485" y="279.5">1</text>
<text x="651" y="278.5">2</text>
<text x="834.5" y="281">3</text>
<text x="1016.5" y="271.5">4</text>
<text x="1216" y="278">5</text>
</g>
<text x="476" y="612" text-anchor="middle" font-family='"Liberation Serif", "Noto Serif CJK SC", serif' font-weight="bold" font-size="128">b</text>
</g>
<g id="photo-c">
<defs><filter id="softc" x="-2%" y="-2%" width="104%" height="104%"><feGaussianBlur stdDeviation="2.1"/></filter><clipPath id="clipc"><path d="M412.5 787.5H724.5V1272.5H412.5ZM758 789.5H907.5V1275.5H758ZM945 787.5H1095.5V1274.5H945ZM1128 789H1281V1276.5H1128Z"/></clipPath></defs>
<g clip-path="url(#clipc)"><g filter="url(#softc)">
<rect x="408" y="783" width="321" height="494" fill="#08082a"/>
<linearGradient id="clc1" x1="0" y1="0" x2="0" y2="1"><stop offset="0" stop-color="#b6caff"/><stop offset="1" stop-color="#93b0fd"/></linearGradient>
<linearGradient id="crc1" x1="0" y1="0" x2="0" y2="1"><stop offset="0" stop-color="#d6f0ff" stop-opacity=".25"/><stop offset=".6" stop-color="#d6f0ff" stop-opacity=".45"/><stop offset=".86" stop-color="#d6f0ff" stop-opacity="0.9"/><stop offset="1" stop-color="#d6f0ff" stop-opacity="0.9"/></linearGradient>
<rect x="413.5" y="789" width="136.5" height="483" rx="5" fill="#3a5ad8"/>
<rect x="428" y="797" width="109" height="166" fill="#3350c8"/>
<rect x="428" y="943" width="109" height="301" fill="url(#clc1)"/>
<rect x="419.5" y="793" width="4.5" height="473" fill="#0c1350"/>
<rect x="424.5" y="793" width="3.5" height="473" fill="#6f8ef2"/>
<rect x="538.5" y="793" width="5" height="473" fill="#0e1560"/>
<rect x="545" y="793" width="4" height="473" fill="#5d7ef0"/>
<path d="M430 799H535.5V922Q535.5 965 492.5 965H473Q430 965 430 922Z" fill="url(#crc1)"/>
<path d="M433.5 799H532V919Q532 949 502 949H463.5Q433.5 949 433.5 919Z" fill="#0b0a26"/>
<rect x="423" y="1244" width="118" height="24" fill="#7c9cf4"/>
<rect x="413.5" y="789" width="136" height="6" fill="#4a6cea"/>
<rect x="408" y="783" width="8.5" height="494" fill="#0c1038"/>
<rect x="408" y="1268" width="321" height="9" fill="#1a2a86"/>
<rect x="720.5" y="783" width="8" height="494" fill="#1c2c8c"/>
<linearGradient id="clc2" x1="0" y1="0" x2="0" y2="1"><stop offset="0" stop-color="#97b5ff"/><stop offset="1" stop-color="#7297fb"/></linearGradient>
<linearGradient id="crc2" x1="0" y1="0" x2="0" y2="1"><stop offset="0" stop-color="#cfe8ff" stop-opacity=".25"/><stop offset=".6" stop-color="#cfe8ff" stop-opacity=".45"/><stop offset=".86" stop-color="#cfe8ff" stop-opacity="0.9"/><stop offset="1" stop-color="#cfe8ff" stop-opacity="0.9"/></linearGradient>
<rect x="584.5" y="789" width="140" height="483" rx="5" fill="#4a6eea"/>
<rect x="598" y="797" width="111" height="159" fill="#3c5cd6"/>
<rect x="598" y="936" width="111" height="314" fill="url(#clc2)"/>
<path d="M599 799H708V915Q708 958 665 958H642Q599 958 599 915Z" fill="url(#crc2)"/>
<path d="M602.5 799H704.5V912Q704.5 942 674.5 942H632.5Q602.5 942 602.5 912Z" fill="#0d0b26"/>
<rect x="596" y="1250" width="116" height="19" fill="#6a8ff7"/>
<rect x="754" y="785" width="158" height="494" fill="#b9b9bd"/>
<rect x="754" y="785" width="5.5" height="494" fill="#15151f"/>
<rect x="754" y="785" width="158" height="6.5" fill="#16161f"/>
<rect x="903.5" y="785" width="6" height="494" fill="#77777f"/>
<linearGradient id="clc3" x1="0" y1="0" x2="0" y2="1"><stop offset="0" stop-color="#4a96ee"/><stop offset="1" stop-color="#3278da"/></linearGradient>
<linearGradient id="crc3" x1="0" y1="0" x2="0" y2="1"><stop offset="0" stop-color="#a8ccf6" stop-opacity=".25"/><stop offset=".6" stop-color="#a8ccf6" stop-opacity=".45"/><stop offset=".86" stop-color="#a8ccf6" stop-opacity="0.9"/><stop offset="1" stop-color="#a8ccf6" stop-opacity="0.9"/></linearGradient>
<rect x="760" y="791" width="146" height="484" rx="5" fill="#bbbbbf"/>
<rect x="774" y="800" width="116" height="446" fill="url(#clc3)"/>
<path d="M777.5 800H891V913Q891 950 854 950H814.5Q777.5 950 777.5 913Z" fill="url(#crc3)"/>
<path d="M781 800H887.5V910Q887.5 934 863.5 934H805Q781 934 781 910Z" fill="#1d1812"/>
<rect x="774" y="1246" width="116" height="17" fill="#93a2c6"/>
<path d="M776 798H889V810H776Z" fill="#8c8c94"/>
<rect x="941" y="783" width="160" height="496" fill="#3f74dc"/>
<rect x="941" y="783" width="160" height="8" fill="#141626"/>
<linearGradient id="clc4" x1="0" y1="0" x2="0" y2="1"><stop offset="0" stop-color="#4c92f6"/><stop offset="1" stop-color="#3b78e6"/></linearGradient>
<linearGradient id="crc4" x1="0" y1="0" x2="0" y2="1"><stop offset="0" stop-color="#b4d6ff" stop-opacity=".25"/><stop offset=".6" stop-color="#b4d6ff" stop-opacity=".45"/><stop offset=".86" stop-color="#b4d6ff" stop-opacity="0.9"/><stop offset="1" stop-color="#b4d6ff" stop-opacity="0.9"/></linearGradient>
<rect x="946" y="790" width="149" height="484" rx="5" fill="#5a8ae8"/>
<rect x="962" y="794" width="109" height="452" fill="url(#clc4)"/>
<rect x="949" y="794" width="6" height="474" fill="#a9c0f0"/>
<rect x="957" y="794" width="3" height="474" fill="#d0dcf8"/>
<rect x="1072.5" y="794" width="4.5" height="474" fill="#131d48"/>
<rect x="1079" y="794" width="4" height="474" fill="#86a4e4"/>
<rect x="1088" y="794" width="6" height="474" fill="#6a8cdc"/>
<path d="M962.5 794H1071V886Q1071 927 1030 927H1003.5Q962.5 927 962.5 886Z" fill="url(#crc4)"/>
<path d="M966 794H1067.5V884Q1067.5 912 1039.5 912H994Q966 912 966 884Z" fill="#0a0a0e"/>
<rect x="946" y="793" width="19" height="112" fill="#b4b8c6"/>
<rect x="1069" y="793" width="26" height="106" fill="#a2a8c0"/>
<rect x="1072.5" y="793" width="4" height="106" fill="#2a2c3c"/>
<rect x="947" y="1246" width="147" height="24" fill="#8aa6e6"/>
<rect x="945" y="1267" width="151" height="8" fill="#26377e"/>
<rect x="1124" y="785" width="161" height="496" fill="#3a82d6"/>
<rect x="1124" y="785" width="4.5" height="496" fill="#0c1a3c"/>
<linearGradient id="clc5" x1="0" y1="0" x2="0" y2="1"><stop offset="0" stop-color="#58b6ff"/><stop offset="1" stop-color="#5fbdff"/></linearGradient>
<linearGradient id="crc5" x1="0" y1="0" x2="0" y2="1"><stop offset="0" stop-color="#bce6ff" stop-opacity=".25"/><stop offset=".6" stop-color="#bce6ff" stop-opacity=".45"/><stop offset=".86" stop-color="#bce6ff" stop-opacity="0.9"/><stop offset="1" stop-color="#bce6ff" stop-opacity="0.9"/></linearGradient>
<rect x="1130" y="790" width="151" height="486" rx="5" fill="#3c8adc"/>
<rect x="1147" y="794" width="119" height="458" fill="url(#clc5)"/>
<path d="M1151 794H1268V896Q1268 939 1225 939H1194Q1151 939 1151 896Z" fill="url(#crc5)"/>
<path d="M1154.5 794H1264.5V894Q1264.5 924 1234.5 924H1184.5Q1154.5 924 1154.5 894Z" fill="#0c0c0e"/>
<rect x="1145" y="1252" width="122" height="16" fill="#72c2ff"/>
<rect x="1124" y="785" width="9" height="496" fill="#0d2250"/>
<rect x="1124" y="1269" width="161" height="10" fill="#1f5cb4"/>
<rect x="1275" y="785" width="10" height="496" fill="#2f74cc"/>
</g></g>
<g font-family='"Liberation Serif", "Noto Serif CJK SC", serif' font-weight="bold" font-size="80" text-anchor="middle" fill="#fff">
<text x="479.5" y="894">1</text>
<text x="654" y="901">2</text>
<text x="834" y="899">3</text>
<text x="1016.5" y="893">4</text>
<text x="1198" y="899">5</text>
</g>
<text x="476" y="1231" text-anchor="middle" font-family='"Liberation Serif", "Noto Serif CJK SC", serif' font-weight="bold" font-size="128">c</text>
</g>
</svg></body></html>
